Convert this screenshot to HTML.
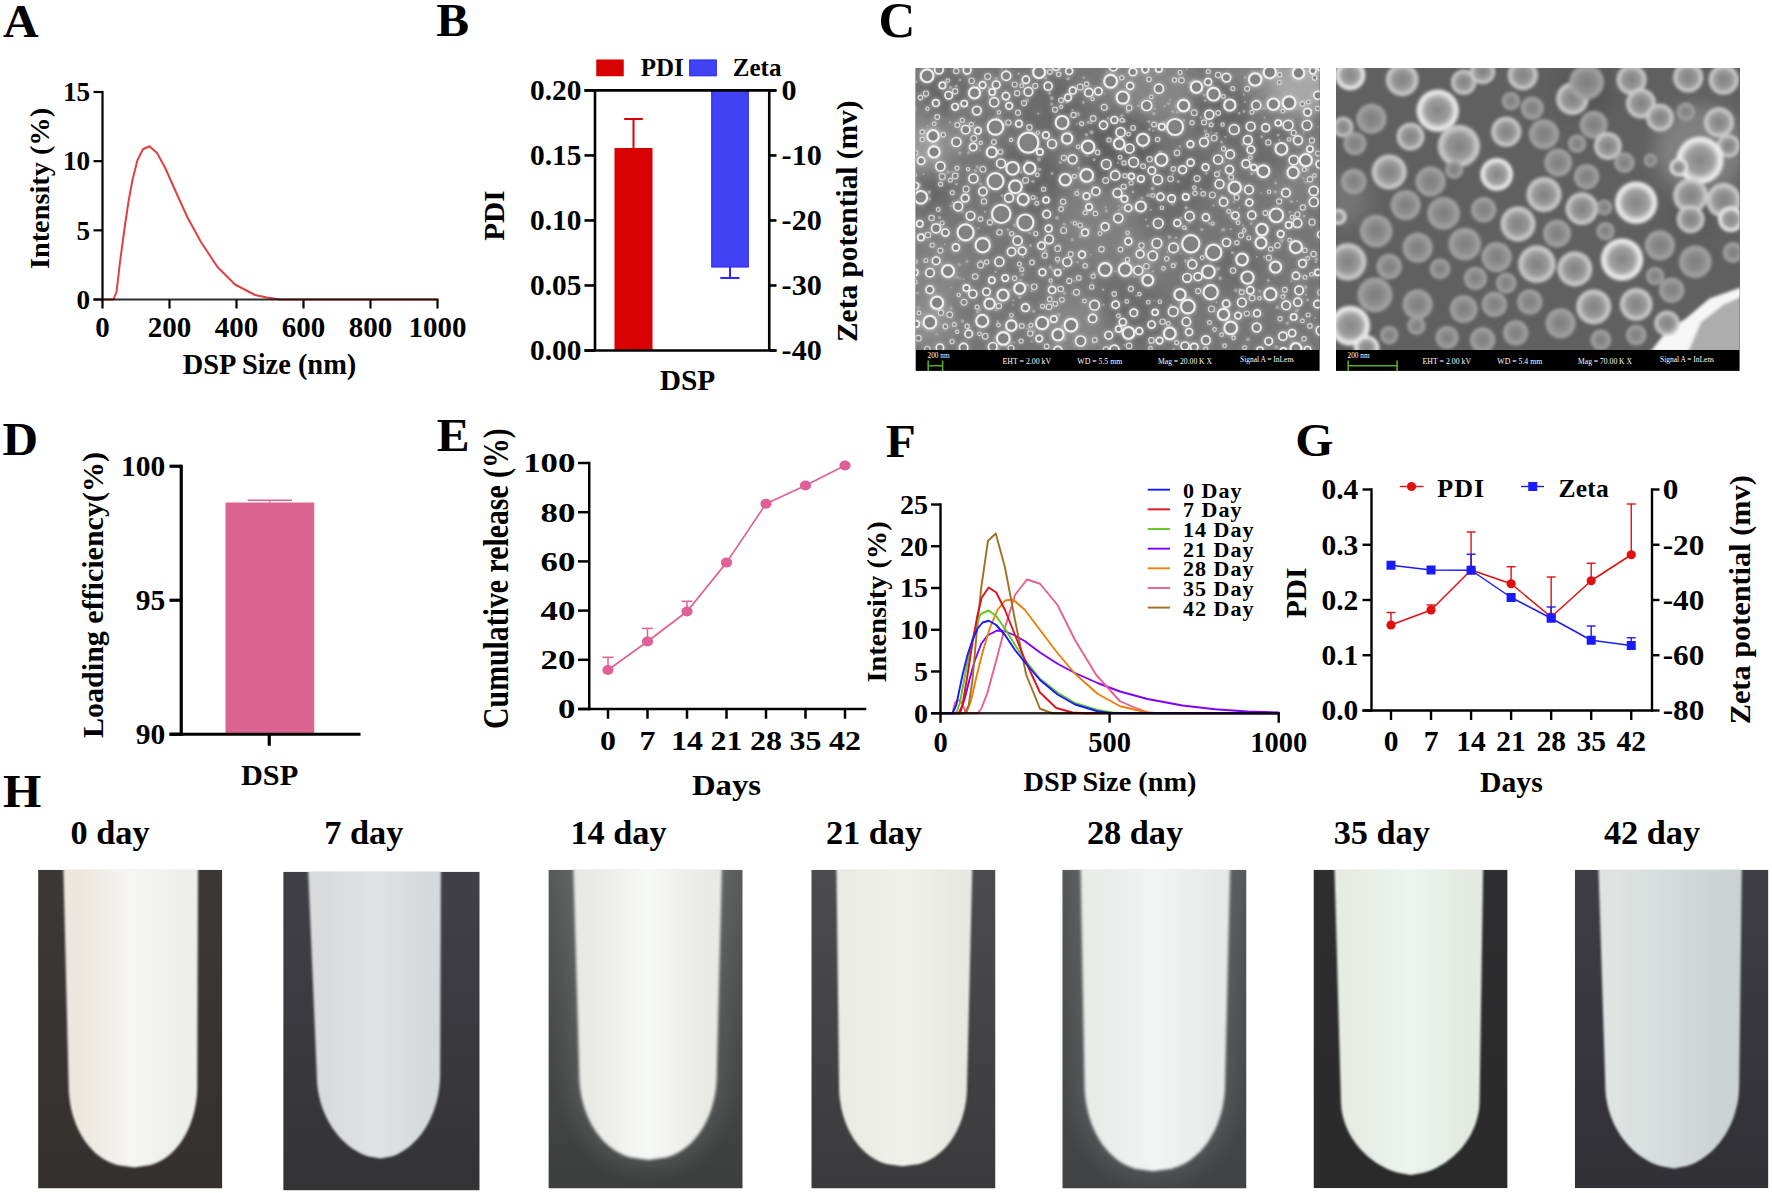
<!DOCTYPE html>
<html><head><meta charset="utf-8"><title>Figure</title>
<style>html,body{margin:0;padding:0;background:#fff}svg{display:block}text{font-family:"Liberation Serif","Times New Roman",serif;font-weight:bold}</style></head>
<body>
<svg width="1772" height="1193" viewBox="0 0 1772 1193">
<rect width="1772" height="1193" fill="#fff"/>
<defs><filter id="b05" x="-5%" y="-5%" width="110%" height="110%"><feGaussianBlur stdDeviation="2.2" result="g0"/><feComponentTransfer in="g0" result="g"><feFuncA type="linear" slope="0.8"/></feComponentTransfer><feGaussianBlur in="SourceGraphic" stdDeviation="0.75" result="s"/><feMerge><feMergeNode in="g"/><feMergeNode in="s"/></feMerge></filter><filter id="b2" x="-5%" y="-5%" width="110%" height="110%"><feGaussianBlur stdDeviation="1.5"/></filter><filter id="b8" x="-20%" y="-20%" width="140%" height="140%"><feGaussianBlur stdDeviation="9"/></filter><filter id="bt" x="-5%" y="-5%" width="110%" height="110%"><feGaussianBlur stdDeviation="0.8"/></filter><filter id="bt2" x="-5%" y="-5%" width="110%" height="110%"><feGaussianBlur stdDeviation="1.6"/></filter><clipPath id="cs1"><rect x="915.7" y="68" width="403.9" height="282"/></clipPath><clipPath id="cs2"><rect x="1336" y="68" width="403.6" height="282"/></clipPath><radialGradient id="sg0"><stop offset="0" stop-color="#7c7c7c"/><stop offset="0.55" stop-color="#8e8e8e"/><stop offset="0.86" stop-color="#a4a4a4"/><stop offset="1" stop-color="#a4a4a4" stop-opacity="0.25"/></radialGradient><radialGradient id="sg1"><stop offset="0" stop-color="#808080"/><stop offset="0.55" stop-color="#989898"/><stop offset="0.86" stop-color="#cfcfcf"/><stop offset="1" stop-color="#cfcfcf" stop-opacity="0.25"/></radialGradient><radialGradient id="sg2"><stop offset="0" stop-color="#848484"/><stop offset="0.55" stop-color="#a0a0a0"/><stop offset="0.86" stop-color="#f4f4f4"/><stop offset="1" stop-color="#f4f4f4" stop-opacity="0.25"/></radialGradient><clipPath id="ct0"><rect x="38.1" y="869.8" width="184.2" height="318.7"/></clipPath><linearGradient id="gt0" x1="63.3" x2="198" y1="0" y2="0" gradientUnits="userSpaceOnUse"><stop offset="0" stop-color="#ebe7de"/><stop offset="0.12" stop-color="#ebe7de"/><stop offset="0.5" stop-color="#f5f5f3"/><stop offset="0.88" stop-color="#eeeeea"/><stop offset="1" stop-color="#eeeeea"/></linearGradient><linearGradient id="gb0" x1="0" x2="0" y1="0" y2="1"><stop offset="0" stop-color="#3b3836"/><stop offset="1" stop-color="#34302e"/></linearGradient><clipPath id="ct1"><rect x="283.2" y="871.7" width="196.5" height="318.7"/></clipPath><linearGradient id="gt1" x1="308" x2="440.9" y1="0" y2="0" gradientUnits="userSpaceOnUse"><stop offset="0" stop-color="#d8dadb"/><stop offset="0.12" stop-color="#d8dadb"/><stop offset="0.5" stop-color="#e0e3e5"/><stop offset="0.88" stop-color="#d6d9db"/><stop offset="1" stop-color="#d6d9db"/></linearGradient><linearGradient id="gb1" x1="0" x2="0" y1="0" y2="1"><stop offset="0" stop-color="#414046"/><stop offset="1" stop-color="#333337"/></linearGradient><clipPath id="ct2"><rect x="548.4" y="869.8" width="194.3" height="318.7"/></clipPath><linearGradient id="gt2" x1="573.3" x2="722" y1="0" y2="0" gradientUnits="userSpaceOnUse"><stop offset="0" stop-color="#e8e9e5"/><stop offset="0.12" stop-color="#e8e9e5"/><stop offset="0.5" stop-color="#f7f9f7"/><stop offset="0.88" stop-color="#e9eae6"/><stop offset="1" stop-color="#e9eae6"/></linearGradient><linearGradient id="gb2" x1="0" x2="0" y1="0" y2="1"><stop offset="0" stop-color="#585a5a"/><stop offset="1" stop-color="#3c3e3e"/></linearGradient><clipPath id="ct3"><rect x="811.3" y="869.8" width="184.2" height="318.7"/></clipPath><linearGradient id="gt3" x1="836.4" x2="972.4" y1="0" y2="0" gradientUnits="userSpaceOnUse"><stop offset="0" stop-color="#ebebe5"/><stop offset="0.12" stop-color="#ebebe5"/><stop offset="0.5" stop-color="#f1f1eb"/><stop offset="0.88" stop-color="#e8e8e2"/><stop offset="1" stop-color="#e8e8e2"/></linearGradient><linearGradient id="gb3" x1="0" x2="0" y1="0" y2="1"><stop offset="0" stop-color="#4c4c4e"/><stop offset="1" stop-color="#3a3a3c"/></linearGradient><clipPath id="ct4"><rect x="1062.3" y="869.8" width="184.2" height="318.7"/></clipPath><linearGradient id="gt4" x1="1080.5" x2="1230.3" y1="0" y2="0" gradientUnits="userSpaceOnUse"><stop offset="0" stop-color="#e8ebe8"/><stop offset="0.12" stop-color="#e8ebe8"/><stop offset="0.5" stop-color="#f1f5f3"/><stop offset="0.88" stop-color="#e6e9e7"/><stop offset="1" stop-color="#e6e9e7"/></linearGradient><linearGradient id="gb4" x1="0" x2="0" y1="0" y2="1"><stop offset="0" stop-color="#525456"/><stop offset="1" stop-color="#404244"/></linearGradient><clipPath id="ct5"><rect x="1313.5" y="869.8" width="194.1" height="318.4"/></clipPath><linearGradient id="gt5" x1="1334.4" x2="1483.2" y1="0" y2="0" gradientUnits="userSpaceOnUse"><stop offset="0" stop-color="#e6ebe3"/><stop offset="0.12" stop-color="#e6ebe3"/><stop offset="0.5" stop-color="#ecf4ee"/><stop offset="0.88" stop-color="#e4eae2"/><stop offset="1" stop-color="#e4eae2"/></linearGradient><linearGradient id="gb5" x1="0" x2="0" y1="0" y2="1"><stop offset="0" stop-color="#2e2e30"/><stop offset="1" stop-color="#2a2a2b"/></linearGradient><clipPath id="ct6"><rect x="1574.8" y="869.8" width="193.6" height="318.4"/></clipPath><linearGradient id="gt6" x1="1598.4" x2="1741.9" y1="0" y2="0" gradientUnits="userSpaceOnUse"><stop offset="0" stop-color="#dfe3e2"/><stop offset="0.12" stop-color="#dfe3e2"/><stop offset="0.5" stop-color="#d5dbdb"/><stop offset="0.88" stop-color="#ccd2d2"/><stop offset="1" stop-color="#ccd2d2"/></linearGradient><linearGradient id="gb6" x1="0" x2="0" y1="0" y2="1"><stop offset="0" stop-color="#3e3e44"/><stop offset="1" stop-color="#303035"/></linearGradient></defs>
<g id="sem1">
<rect x="915.7" y="68" width="403.9" height="302.9" fill="#000"/>
<g clip-path="url(#cs1)">
<rect x="915.7" y="68" width="403.9" height="282" fill="#767676"/>
<g filter="url(#b8)">
<circle cx="1046" cy="111" r="36" fill="#666"/>
<circle cx="1247" cy="95" r="34" fill="#868686"/>
<circle cx="931" cy="190" r="20" fill="#666"/>
<circle cx="1138" cy="85" r="33" fill="#868686"/>
<circle cx="1170" cy="232" r="20" fill="#808080"/>
<circle cx="936" cy="130" r="33" fill="#868686"/>
<circle cx="1033" cy="109" r="21" fill="#6c6c6c"/>
<circle cx="1142" cy="260" r="21" fill="#868686"/>
<circle cx="1066" cy="222" r="20" fill="#666"/>
<circle cx="1166" cy="208" r="32" fill="#6c6c6c"/>
<circle cx="1104" cy="328" r="28" fill="#868686"/>
<circle cx="1237" cy="265" r="25" fill="#6c6c6c"/>
<circle cx="1128" cy="315" r="38" fill="#6c6c6c"/>
<circle cx="1162" cy="89" r="32" fill="#868686"/>
<circle cx="1222" cy="111" r="31" fill="#666"/>
<circle cx="1304" cy="90" r="33" fill="#6c6c6c"/>
<circle cx="1053" cy="167" r="31" fill="#808080"/>
<circle cx="943" cy="94" r="25" fill="#666"/>
<circle cx="940" cy="266" r="35" fill="#808080"/>
<circle cx="1031" cy="177" r="36" fill="#666"/>
<circle cx="1296" cy="168" r="34" fill="#808080"/>
<circle cx="940" cy="285" r="21" fill="#868686"/>
<circle cx="1076" cy="327" r="31" fill="#868686"/>
<circle cx="1097" cy="223" r="42" fill="#808080"/>
<circle cx="1265" cy="147" r="29" fill="#6c6c6c"/>
<circle cx="1191" cy="175" r="24" fill="#666"/>
<circle cx="1300" cy="85" r="30" fill="#a8a8a8"/><circle cx="925" cy="150" r="22" fill="#9a9a9a"/><circle cx="1120" cy="150" r="40" fill="#606060"/><circle cx="930" cy="320" r="25" fill="#909090"/>
</g>
<g filter="url(#b05)">
<circle cx="1104.8" cy="94.0" r="0.8" fill="#a6a6a6"/>
<circle cx="1053.1" cy="270.2" r="1.7" fill="#a6a6a6"/>
<circle cx="1011.4" cy="140.1" r="1.4" fill="#a6a6a6"/>
<circle cx="986.6" cy="238.0" r="1.9" fill="#a6a6a6"/>
<circle cx="997.3" cy="233.1" r="1.7" fill="#a6a6a6"/>
<circle cx="1218.3" cy="268.8" r="1.7" fill="#a6a6a6"/>
<circle cx="1025.8" cy="304.4" r="1.9" fill="#a6a6a6"/>
<circle cx="936.9" cy="334.2" r="1.3" fill="#a6a6a6"/>
<circle cx="950.6" cy="87.6" r="1.8" fill="#a6a6a6"/>
<circle cx="1189.4" cy="108.1" r="1.4" fill="#a6a6a6"/>
<circle cx="1173.7" cy="349.3" r="1.2" fill="#a6a6a6"/>
<circle cx="1225.3" cy="137.1" r="1.0" fill="#a6a6a6"/>
<circle cx="980.8" cy="183.7" r="1.5" fill="#a6a6a6"/>
<circle cx="1038.2" cy="113.7" r="1.1" fill="#a6a6a6"/>
<circle cx="950.0" cy="122.5" r="1.2" fill="#a6a6a6"/>
<circle cx="1119.5" cy="119.8" r="1.4" fill="#a6a6a6"/>
<circle cx="1093.3" cy="342.4" r="1.4" fill="#a6a6a6"/>
<circle cx="1297.3" cy="200.9" r="1.0" fill="#a6a6a6"/>
<circle cx="1154.8" cy="108.8" r="1.0" fill="#a6a6a6"/>
<circle cx="945.3" cy="265.8" r="2.0" fill="#a6a6a6"/>
<circle cx="1078.6" cy="167.9" r="1.3" fill="#a6a6a6"/>
<circle cx="1057.9" cy="262.8" r="1.3" fill="#a6a6a6"/>
<circle cx="977.2" cy="311.7" r="1.5" fill="#a6a6a6"/>
<circle cx="918.3" cy="307.6" r="1.7" fill="#a6a6a6"/>
<circle cx="1058.9" cy="245.6" r="1.9" fill="#a6a6a6"/>
<circle cx="1077.9" cy="190.0" r="1.2" fill="#a6a6a6"/>
<circle cx="1139.5" cy="254.9" r="1.7" fill="#a6a6a6"/>
<circle cx="1299.1" cy="109.0" r="1.2" fill="#a6a6a6"/>
<circle cx="1259.7" cy="291.1" r="1.5" fill="#a6a6a6"/>
<circle cx="1189.2" cy="163.9" r="1.9" fill="#a6a6a6"/>
<circle cx="1137.6" cy="181.5" r="1.0" fill="#a6a6a6"/>
<circle cx="962.3" cy="321.1" r="1.8" fill="#a6a6a6"/>
<circle cx="926.5" cy="159.1" r="1.4" fill="#a6a6a6"/>
<circle cx="1115.9" cy="170.5" r="1.9" fill="#a6a6a6"/>
<circle cx="1057.0" cy="218.0" r="1.9" fill="#a6a6a6"/>
<circle cx="1173.9" cy="202.5" r="1.2" fill="#a6a6a6"/>
<circle cx="1072.1" cy="239.8" r="1.7" fill="#a6a6a6"/>
<circle cx="1021.0" cy="172.5" r="1.3" fill="#a6a6a6"/>
<circle cx="1062.3" cy="325.5" r="1.4" fill="#a6a6a6"/>
<circle cx="1027.1" cy="161.7" r="1.8" fill="#a6a6a6"/>
<circle cx="980.4" cy="262.6" r="0.8" fill="#a6a6a6"/>
<circle cx="993.7" cy="84.8" r="1.8" fill="#a6a6a6"/>
<circle cx="975.0" cy="132.3" r="0.9" fill="#a6a6a6"/>
<circle cx="1022.3" cy="274.8" r="1.7" fill="#a6a6a6"/>
<circle cx="1283.4" cy="335.0" r="1.5" fill="#a6a6a6"/>
<circle cx="1288.1" cy="93.3" r="1.9" fill="#a6a6a6"/>
<circle cx="1091.0" cy="122.4" r="1.7" fill="#a6a6a6"/>
<circle cx="1262.5" cy="176.8" r="0.9" fill="#a6a6a6"/>
<circle cx="1268.3" cy="280.5" r="1.5" fill="#a6a6a6"/>
<circle cx="1310.2" cy="78.7" r="0.9" fill="#a6a6a6"/>
<circle cx="965.9" cy="74.1" r="1.6" fill="#a6a6a6"/>
<circle cx="1170.2" cy="99.7" r="1.0" fill="#a6a6a6"/>
<circle cx="988.8" cy="239.8" r="1.6" fill="#a6a6a6"/>
<circle cx="1307.3" cy="169.7" r="2.0" fill="#a6a6a6"/>
<circle cx="1091.2" cy="178.2" r="1.1" fill="#a6a6a6"/>
<circle cx="1009.7" cy="342.8" r="2.0" fill="#a6a6a6"/>
<circle cx="1200.8" cy="117.4" r="1.0" fill="#a6a6a6"/>
<circle cx="977.2" cy="167.0" r="1.7" fill="#a6a6a6"/>
<circle cx="939.5" cy="217.5" r="1.6" fill="#a6a6a6"/>
<circle cx="929.3" cy="192.0" r="1.7" fill="#a6a6a6"/>
<circle cx="1148.2" cy="195.3" r="1.9" fill="#a6a6a6"/>
<circle cx="1158.4" cy="163.0" r="1.3" fill="#a6a6a6"/>
<circle cx="1296.7" cy="310.4" r="1.9" fill="#a6a6a6"/>
<circle cx="1142.2" cy="108.2" r="1.0" fill="#a6a6a6"/>
<circle cx="1070.5" cy="262.8" r="0.8" fill="#a6a6a6"/>
<circle cx="1239.7" cy="289.6" r="1.4" fill="#a6a6a6"/>
<circle cx="918.0" cy="293.1" r="1.3" fill="#a6a6a6"/>
<circle cx="1186.0" cy="228.7" r="1.7" fill="#a6a6a6"/>
<circle cx="1080.8" cy="338.7" r="1.9" fill="#a6a6a6"/>
<circle cx="1290.9" cy="241.5" r="1.2" fill="#a6a6a6"/>
<circle cx="1067.8" cy="143.8" r="1.9" fill="#a6a6a6"/>
<circle cx="1235.7" cy="290.3" r="1.8" fill="#a6a6a6"/>
<circle cx="1315.9" cy="262.0" r="1.2" fill="#a6a6a6"/>
<circle cx="1221.7" cy="142.0" r="1.5" fill="#a6a6a6"/>
<circle cx="979.7" cy="309.9" r="1.4" fill="#a6a6a6"/>
<circle cx="1026.8" cy="328.3" r="0.9" fill="#a6a6a6"/>
<circle cx="1291.4" cy="281.5" r="1.0" fill="#a6a6a6"/>
<circle cx="1223.1" cy="229.7" r="1.9" fill="#a6a6a6"/>
<circle cx="1152.6" cy="188.5" r="1.9" fill="#a6a6a6"/>
<circle cx="950.9" cy="287.1" r="0.9" fill="#a6a6a6"/>
<circle cx="1027.4" cy="100.1" r="1.8" fill="#a6a6a6"/>
<circle cx="1094.1" cy="272.8" r="1.1" fill="#a6a6a6"/>
<circle cx="1210.7" cy="250.9" r="0.9" fill="#a6a6a6"/>
<circle cx="1115.2" cy="271.5" r="1.1" fill="#a6a6a6"/>
<circle cx="1180.0" cy="146.4" r="1.2" fill="#a6a6a6"/>
<circle cx="1287.3" cy="333.9" r="2.0" fill="#a6a6a6"/>
<circle cx="1088.1" cy="229.2" r="1.8" fill="#a6a6a6"/>
<circle cx="1222.1" cy="196.7" r="1.8" fill="#a6a6a6"/>
<circle cx="1077.8" cy="335.9" r="1.4" fill="#a6a6a6"/>
<circle cx="963.6" cy="279.2" r="1.0" fill="#a6a6a6"/>
<circle cx="1190.2" cy="83.1" r="2.0" fill="#a6a6a6"/>
<circle cx="1134.2" cy="276.8" r="1.0" fill="#a6a6a6"/>
<circle cx="1172.9" cy="174.2" r="1.1" fill="#a6a6a6"/>
<circle cx="1244.9" cy="77.4" r="1.4" fill="#a6a6a6"/>
<circle cx="950.8" cy="308.1" r="1.9" fill="#a6a6a6"/>
<circle cx="929.6" cy="199.0" r="1.4" fill="#a6a6a6"/>
<circle cx="1206.0" cy="273.6" r="1.2" fill="#a6a6a6"/>
<circle cx="1292.5" cy="120.3" r="1.0" fill="#a6a6a6"/>
<circle cx="1244.8" cy="101.9" r="1.0" fill="#a6a6a6"/>
<circle cx="1117.7" cy="162.8" r="1.0" fill="#a6a6a6"/>
<circle cx="1291.3" cy="201.6" r="1.7" fill="#a6a6a6"/>
<circle cx="1016.7" cy="325.4" r="1.1" fill="#a6a6a6"/>
<circle cx="1281.8" cy="240.8" r="2.0" fill="#a6a6a6"/>
<circle cx="1227.2" cy="245.9" r="1.4" fill="#a6a6a6"/>
<circle cx="1261.0" cy="193.1" r="0.9" fill="#a6a6a6"/>
<circle cx="1284.8" cy="295.2" r="1.6" fill="#a6a6a6"/>
<circle cx="1216.5" cy="133.4" r="1.4" fill="#a6a6a6"/>
<circle cx="1248.1" cy="339.3" r="1.9" fill="#a6a6a6"/>
<circle cx="980.5" cy="260.9" r="1.5" fill="#a6a6a6"/>
<circle cx="1079.3" cy="115.3" r="1.0" fill="#a6a6a6"/>
<circle cx="1105.6" cy="207.1" r="1.1" fill="#a6a6a6"/>
<circle cx="1064.2" cy="224.2" r="1.7" fill="#a6a6a6"/>
<circle cx="1153.8" cy="113.7" r="1.9" fill="#a6a6a6"/>
<circle cx="1064.2" cy="338.7" r="2.0" fill="#a6a6a6"/>
<circle cx="972.4" cy="232.2" r="2.0" fill="#a6a6a6"/>
<circle cx="1071.2" cy="222.4" r="1.2" fill="#a6a6a6"/>
<circle cx="927.3" cy="125.7" r="0.9" fill="#a6a6a6"/>
<circle cx="1030.5" cy="245.5" r="1.5" fill="#a6a6a6"/>
<circle cx="1298.7" cy="261.3" r="1.2" fill="#a6a6a6"/>
<circle cx="1299.2" cy="246.8" r="1.5" fill="#a6a6a6"/>
<circle cx="1264.1" cy="256.9" r="1.2" fill="#a6a6a6"/>
<circle cx="1160.0" cy="152.7" r="2.0" fill="#a6a6a6"/>
<circle cx="1014.3" cy="342.4" r="0.9" fill="#a6a6a6"/>
<circle cx="919.7" cy="224.0" r="1.0" fill="#a6a6a6"/>
<circle cx="1120.7" cy="101.3" r="1.8" fill="#a6a6a6"/>
<circle cx="1185.9" cy="261.0" r="1.9" fill="#a6a6a6"/>
<circle cx="1316.4" cy="259.3" r="1.7" fill="#a6a6a6"/>
<circle cx="916.4" cy="81.9" r="1.3" fill="#a6a6a6"/>
<circle cx="1307.1" cy="156.3" r="1.5" fill="#a6a6a6"/>
<circle cx="919.3" cy="185.2" r="1.9" fill="#a6a6a6"/>
<circle cx="1153.8" cy="300.5" r="0.8" fill="#a6a6a6"/>
<circle cx="997.6" cy="118.5" r="1.8" fill="#a6a6a6"/>
<circle cx="956.8" cy="330.8" r="1.1" fill="#a6a6a6"/>
<circle cx="1271.3" cy="213.4" r="1.2" fill="#a6a6a6"/>
<circle cx="1306.0" cy="182.2" r="1.6" fill="#a6a6a6"/>
<circle cx="942.9" cy="302.2" r="2.0" fill="#a6a6a6"/>
<circle cx="960.3" cy="278.4" r="1.1" fill="#a6a6a6"/>
<circle cx="975.4" cy="170.7" r="1.6" fill="#a6a6a6"/>
<circle cx="1300.8" cy="348.3" r="2.0" fill="#a6a6a6"/>
<circle cx="1167.4" cy="252.3" r="1.0" fill="#a6a6a6"/>
<circle cx="1209.0" cy="223.5" r="1.2" fill="#a6a6a6"/>
<circle cx="1279.2" cy="139.9" r="1.0" fill="#a6a6a6"/>
<circle cx="979.6" cy="110.1" r="1.5" fill="#a6a6a6"/>
<circle cx="1239.2" cy="113.1" r="1.4" fill="#a6a6a6"/>
<circle cx="1147.7" cy="226.1" r="1.3" fill="#a6a6a6"/>
<circle cx="1135.3" cy="72.3" r="0.9" fill="#a6a6a6"/>
<circle cx="1086.4" cy="134.8" r="1.7" fill="#a6a6a6"/>
<circle cx="1013.4" cy="300.4" r="1.1" fill="#a6a6a6"/>
<circle cx="953.1" cy="202.6" r="1.3" fill="#a6a6a6"/>
<circle cx="1051.2" cy="283.8" r="1.1" fill="#a6a6a6"/>
<circle cx="1186.3" cy="303.4" r="1.3" fill="#a6a6a6"/>
<circle cx="1118.9" cy="328.5" r="1.5" fill="#a6a6a6"/>
<circle cx="988.8" cy="87.6" r="0.9" fill="#a6a6a6"/>
<circle cx="1049.6" cy="93.1" r="1.6" fill="#a6a6a6"/>
<circle cx="1086.8" cy="155.0" r="1.4" fill="#a6a6a6"/>
<circle cx="1294.0" cy="136.9" r="1.0" fill="#a6a6a6"/>
<circle cx="1039.0" cy="159.5" r="1.9" fill="#a6a6a6"/>
<circle cx="1200.9" cy="188.9" r="1.0" fill="#a6a6a6"/>
<circle cx="934.0" cy="102.5" r="1.8" fill="#a6a6a6"/>
<circle cx="1177.4" cy="112.2" r="1.6" fill="#a6a6a6"/>
<circle cx="939.3" cy="210.9" r="1.2" fill="#a6a6a6"/>
<circle cx="957.1" cy="277.4" r="1.7" fill="#a6a6a6"/>
<circle cx="1121.9" cy="115.4" r="1.6" fill="#a6a6a6"/>
<circle cx="1090.7" cy="254.5" r="0.9" fill="#a6a6a6"/>
<circle cx="1280.3" cy="69.0" r="1.1" fill="#a6a6a6"/>
<circle cx="1076.6" cy="123.9" r="0.9" fill="#a6a6a6"/>
<circle cx="1193.4" cy="348.3" r="1.2" fill="#a6a6a6"/>
<circle cx="1023.2" cy="257.1" r="1.1" fill="#a6a6a6"/>
<circle cx="1077.6" cy="262.1" r="1.3" fill="#a6a6a6"/>
<circle cx="978.6" cy="87.9" r="1.5" fill="#a6a6a6"/>
<circle cx="1315.8" cy="327.4" r="0.9" fill="#a6a6a6"/>
<circle cx="1118.6" cy="205.7" r="1.0" fill="#a6a6a6"/>
<circle cx="1186.2" cy="207.8" r="1.8" fill="#a6a6a6"/>
<circle cx="1033.6" cy="331.4" r="1.8" fill="#a6a6a6"/>
<circle cx="1107.0" cy="107.8" r="1.4" fill="#a6a6a6"/>
<circle cx="967.0" cy="261.4" r="1.6" fill="#a6a6a6"/>
<circle cx="1149.2" cy="343.3" r="0.9" fill="#a6a6a6"/>
<circle cx="1204.6" cy="293.8" r="0.9" fill="#a6a6a6"/>
<circle cx="1045.8" cy="83.2" r="1.5" fill="#a6a6a6"/>
<circle cx="1207.7" cy="166.1" r="1.6" fill="#a6a6a6"/>
<circle cx="1063.8" cy="268.8" r="1.1" fill="#a6a6a6"/>
<circle cx="1310.8" cy="191.5" r="0.8" fill="#a6a6a6"/>
<circle cx="952.6" cy="272.8" r="1.8" fill="#a6a6a6"/>
<circle cx="1172.9" cy="111.8" r="1.8" fill="#a6a6a6"/>
<circle cx="1205.2" cy="100.5" r="1.3" fill="#a6a6a6"/>
<circle cx="1186.9" cy="69.0" r="0.9" fill="#a6a6a6"/>
<circle cx="1058.5" cy="314.7" r="2.0" fill="#a6a6a6"/>
<circle cx="1044.3" cy="324.3" r="1.7" fill="#a6a6a6"/>
<circle cx="1265.1" cy="233.9" r="2.0" fill="#a6a6a6"/>
<circle cx="1175.9" cy="335.3" r="1.5" fill="#a6a6a6"/>
<circle cx="995.1" cy="214.3" r="1.4" fill="#a6a6a6"/>
<circle cx="1052.0" cy="173.4" r="1.4" fill="#a6a6a6"/>
<circle cx="1153.2" cy="130.8" r="1.1" fill="#a6a6a6"/>
<circle cx="1118.8" cy="210.1" r="1.3" fill="#a6a6a6"/>
<circle cx="1184.0" cy="120.3" r="1.4" fill="#a6a6a6"/>
<circle cx="1027.1" cy="285.2" r="1.6" fill="#a6a6a6"/>
<circle cx="1231.2" cy="213.9" r="1.1" fill="#a6a6a6"/>
<circle cx="1289.6" cy="212.1" r="1.3" fill="#a6a6a6"/>
<circle cx="1033.0" cy="181.4" r="1.7" fill="#a6a6a6"/>
<circle cx="1246.3" cy="204.1" r="1.7" fill="#a6a6a6"/>
<circle cx="1001.7" cy="195.5" r="1.2" fill="#a6a6a6"/>
<circle cx="1039.5" cy="169.4" r="1.7" fill="#a6a6a6"/>
<circle cx="1211.9" cy="126.5" r="1.1" fill="#a6a6a6"/>
<circle cx="1232.5" cy="252.6" r="1.6" fill="#a6a6a6"/>
<circle cx="1172.3" cy="263.6" r="1.1" fill="#a6a6a6"/>
<circle cx="940.3" cy="169.7" r="0.8" fill="#a6a6a6"/>
<circle cx="1304.2" cy="216.0" r="1.6" fill="#a6a6a6"/>
<circle cx="1306.1" cy="294.8" r="1.1" fill="#a6a6a6"/>
<circle cx="1051.8" cy="98.6" r="1.8" fill="#a6a6a6"/>
<circle cx="1213.4" cy="205.5" r="1.2" fill="#a6a6a6"/>
<circle cx="1024.7" cy="205.4" r="1.7" fill="#a6a6a6"/>
<circle cx="1277.3" cy="307.4" r="1.8" fill="#a6a6a6"/>
<circle cx="1093.1" cy="186.8" r="1.2" fill="#a6a6a6"/>
<circle cx="1309.2" cy="119.7" r="1.0" fill="#a6a6a6"/>
<circle cx="1029.2" cy="328.0" r="1.8" fill="#a6a6a6"/>
<circle cx="1049.6" cy="308.2" r="1.9" fill="#a6a6a6"/>
<circle cx="1088.3" cy="122.2" r="1.7" fill="#a6a6a6"/>
<circle cx="1067.0" cy="101.7" r="1.9" fill="#a6a6a6"/>
<circle cx="1093.2" cy="180.1" r="1.5" fill="#a6a6a6"/>
<circle cx="1018.8" cy="73.7" r="1.3" fill="#a6a6a6"/>
<circle cx="1068.9" cy="71.1" r="1.2" fill="#a6a6a6"/>
<circle cx="1223.2" cy="161.9" r="1.6" fill="#a6a6a6"/>
<circle cx="1168.0" cy="121.1" r="0.8" fill="#a6a6a6"/>
<circle cx="1188.1" cy="240.3" r="1.2" fill="#a6a6a6"/>
<circle cx="996.6" cy="309.2" r="1.9" fill="#a6a6a6"/>
<circle cx="1009.9" cy="233.3" r="1.5" fill="#a6a6a6"/>
<circle cx="1045.8" cy="78.3" r="1.2" fill="#a6a6a6"/>
<circle cx="1176.0" cy="237.8" r="1.4" fill="#a6a6a6"/>
<circle cx="965.1" cy="128.0" r="1.2" fill="#a6a6a6"/>
<circle cx="1083.9" cy="170.4" r="1.9" fill="#a6a6a6"/>
<circle cx="962.6" cy="346.2" r="1.1" fill="#a6a6a6"/>
<circle cx="1261.7" cy="136.7" r="1.5" fill="#a6a6a6"/>
<circle cx="1068.1" cy="78.7" r="1.8" fill="#a6a6a6"/>
<circle cx="1243.0" cy="143.9" r="1.7" fill="#a6a6a6"/>
<circle cx="1109.2" cy="346.3" r="0.9" fill="#a6a6a6"/>
<circle cx="1069.3" cy="132.2" r="1.5" fill="#a6a6a6"/>
<circle cx="1229.9" cy="305.5" r="1.5" fill="#a6a6a6"/>
<circle cx="1072.1" cy="293.5" r="0.9" fill="#a6a6a6"/>
<circle cx="1020.7" cy="280.3" r="1.3" fill="#a6a6a6"/>
<circle cx="1316.8" cy="93.6" r="1.4" fill="#a6a6a6"/>
<circle cx="1001.5" cy="68.6" r="0.9" fill="#a6a6a6"/>
<circle cx="952.4" cy="172.0" r="1.3" fill="#a6a6a6"/>
<circle cx="1120.8" cy="149.6" r="1.6" fill="#a6a6a6"/>
<circle cx="1124.2" cy="344.9" r="1.0" fill="#a6a6a6"/>
<circle cx="1121.9" cy="207.2" r="1.2" fill="#a6a6a6"/>
<circle cx="1263.5" cy="127.1" r="1.9" fill="#a6a6a6"/>
<circle cx="1060.2" cy="162.6" r="1.5" fill="#a6a6a6"/>
<circle cx="1143.2" cy="148.1" r="0.9" fill="#a6a6a6"/>
<circle cx="1301.5" cy="172.2" r="0.9" fill="#a6a6a6"/>
<circle cx="1180.9" cy="218.0" r="1.2" fill="#a6a6a6"/>
<circle cx="1048.4" cy="306.3" r="1.2" fill="#a6a6a6"/>
<circle cx="1084.3" cy="337.8" r="1.2" fill="#a6a6a6"/>
<circle cx="1078.1" cy="113.7" r="1.6" fill="#a6a6a6"/>
<circle cx="1184.2" cy="193.9" r="1.3" fill="#a6a6a6"/>
<circle cx="1009.7" cy="290.8" r="1.3" fill="#a6a6a6"/>
<circle cx="1251.7" cy="173.7" r="1.7" fill="#a6a6a6"/>
<circle cx="927.3" cy="130.0" r="2.0" fill="#a6a6a6"/>
<circle cx="1191.3" cy="258.5" r="1.4" fill="#a6a6a6"/>
<circle cx="1106.5" cy="123.7" r="1.0" fill="#a6a6a6"/>
<circle cx="1176.3" cy="263.7" r="1.1" fill="#a6a6a6"/>
<circle cx="1176.0" cy="106.4" r="1.5" fill="#a6a6a6"/>
<circle cx="985.0" cy="211.7" r="1.2" fill="#a6a6a6"/>
<circle cx="1138.1" cy="105.8" r="1.4" fill="#a6a6a6"/>
<circle cx="1164.7" cy="106.0" r="1.2" fill="#a6a6a6"/>
<circle cx="1189.8" cy="222.0" r="1.5" fill="#a6a6a6"/>
<circle cx="1230.7" cy="229.2" r="1.1" fill="#a6a6a6"/>
<circle cx="1094.4" cy="302.1" r="1.5" fill="#a6a6a6"/>
<circle cx="1219.9" cy="170.7" r="1.3" fill="#a6a6a6"/>
<circle cx="1307.4" cy="299.8" r="1.6" fill="#a6a6a6"/>
<circle cx="958.7" cy="240.5" r="0.8" fill="#a6a6a6"/>
<circle cx="1292.9" cy="342.1" r="1.7" fill="#a6a6a6"/>
<circle cx="1023.8" cy="306.5" r="1.0" fill="#a6a6a6"/>
<circle cx="1250.1" cy="214.8" r="0.8" fill="#a6a6a6"/>
<circle cx="1275.3" cy="192.1" r="1.8" fill="#a6a6a6"/>
<circle cx="1193.8" cy="218.2" r="1.8" fill="#a6a6a6"/>
<circle cx="997.7" cy="321.4" r="1.2" fill="#a6a6a6"/>
<circle cx="926.2" cy="162.9" r="0.9" fill="#a6a6a6"/>
<circle cx="944.8" cy="244.0" r="0.9" fill="#a6a6a6"/>
<circle cx="980.2" cy="150.5" r="1.1" fill="#a6a6a6"/>
<circle cx="1287.3" cy="323.3" r="1.8" fill="#a6a6a6"/>
<circle cx="1315.5" cy="192.1" r="1.8" fill="#a6a6a6"/>
<circle cx="1029.2" cy="329.3" r="1.8" fill="#a6a6a6"/>
<circle cx="1211.4" cy="132.2" r="0.9" fill="#a6a6a6"/>
<circle cx="1289.3" cy="223.7" r="1.5" fill="#a6a6a6"/>
<circle cx="1263.9" cy="108.5" r="1.6" fill="#a6a6a6"/>
<circle cx="1103.1" cy="289.7" r="1.3" fill="#a6a6a6"/>
<circle cx="995.1" cy="337.7" r="1.1" fill="#a6a6a6"/>
<circle cx="1216.5" cy="302.4" r="1.1" fill="#a6a6a6"/>
<circle cx="1196.4" cy="179.7" r="1.1" fill="#a6a6a6"/>
<circle cx="1003.5" cy="337.0" r="1.2" fill="#a6a6a6"/>
<circle cx="1121.6" cy="209.4" r="0.8" fill="#a6a6a6"/>
<circle cx="1220.1" cy="278.1" r="1.9" fill="#a6a6a6"/>
<circle cx="1059.9" cy="127.1" r="1.2" fill="#a6a6a6"/>
<circle cx="1211.4" cy="253.6" r="1.3" fill="#a6a6a6"/>
<circle cx="1127.6" cy="111.5" r="1.9" fill="#a6a6a6"/>
<circle cx="1106.3" cy="210.9" r="1.7" fill="#a6a6a6"/>
<circle cx="995.6" cy="271.7" r="1.2" fill="#a6a6a6"/>
<circle cx="1243.8" cy="94.6" r="1.1" fill="#a6a6a6"/>
<circle cx="1172.4" cy="204.0" r="1.3" fill="#a6a6a6"/>
<circle cx="1149.4" cy="129.4" r="1.3" fill="#a6a6a6"/>
<circle cx="916.5" cy="293.2" r="1.1" fill="#a6a6a6"/>
<circle cx="1251.2" cy="223.7" r="1.5" fill="#a6a6a6"/>
<circle cx="1168.6" cy="103.4" r="1.7" fill="#a6a6a6"/>
<circle cx="1033.7" cy="311.3" r="1.7" fill="#a6a6a6"/>
<circle cx="1189.6" cy="297.9" r="1.3" fill="#a6a6a6"/>
<circle cx="1187.7" cy="336.7" r="1.0" fill="#a6a6a6"/>
<circle cx="956.4" cy="184.2" r="1.4" fill="#a6a6a6"/>
<circle cx="975.9" cy="130.4" r="1.8" fill="#a6a6a6"/>
<circle cx="1072.4" cy="110.0" r="1.0" fill="#a6a6a6"/>
<circle cx="1148.9" cy="121.6" r="1.4" fill="#a6a6a6"/>
<circle cx="1132.9" cy="192.0" r="1.4" fill="#a6a6a6"/>
<circle cx="1253.7" cy="72.7" r="1.9" fill="#a6a6a6"/>
<circle cx="996.2" cy="78.8" r="1.7" fill="#a6a6a6"/>
<circle cx="1145.9" cy="219.7" r="1.1" fill="#a6a6a6"/>
<circle cx="1231.2" cy="154.4" r="1.7" fill="#a6a6a6"/>
<circle cx="1007.9" cy="229.5" r="1.6" fill="#a6a6a6"/>
<circle cx="1065.8" cy="203.3" r="0.9" fill="#a6a6a6"/>
<circle cx="1175.5" cy="262.9" r="1.0" fill="#a6a6a6"/>
<circle cx="1138.1" cy="274.7" r="0.9" fill="#a6a6a6"/>
<circle cx="1254.5" cy="313.5" r="0.9" fill="#a6a6a6"/>
<circle cx="1016.0" cy="91.7" r="1.1" fill="#a6a6a6"/>
<circle cx="950.6" cy="206.0" r="1.1" fill="#a6a6a6"/>
<circle cx="1036.9" cy="198.1" r="1.2" fill="#a6a6a6"/>
<circle cx="1234.2" cy="271.8" r="0.9" fill="#a6a6a6"/>
<circle cx="1006.0" cy="70.3" r="1.2" fill="#a6a6a6"/>
<circle cx="959.4" cy="264.6" r="1.7" fill="#a6a6a6"/>
<circle cx="1317.9" cy="126.9" r="0.8" fill="#a6a6a6"/>
<circle cx="1221.4" cy="184.1" r="1.9" fill="#a6a6a6"/>
<circle cx="1074.2" cy="156.1" r="0.9" fill="#a6a6a6"/>
<circle cx="1298.6" cy="212.4" r="1.3" fill="#a6a6a6"/>
<circle cx="1092.2" cy="284.7" r="1.8" fill="#a6a6a6"/>
<circle cx="1108.0" cy="118.2" r="1.3" fill="#a6a6a6"/>
<circle cx="1275.7" cy="183.0" r="1.6" fill="#a6a6a6"/>
<circle cx="1141.8" cy="198.1" r="1.5" fill="#a6a6a6"/>
<circle cx="1014.7" cy="225.2" r="1.8" fill="#a6a6a6"/>
<circle cx="948.0" cy="172.0" r="1.9" fill="#a6a6a6"/>
<circle cx="1310.8" cy="71.7" r="1.6" fill="#a6a6a6"/>
<circle cx="1171.0" cy="305.7" r="1.4" fill="#a6a6a6"/>
<circle cx="968.6" cy="152.7" r="1.7" fill="#a6a6a6"/>
<circle cx="1209.9" cy="125.7" r="1.6" fill="#a6a6a6"/>
<circle cx="1181.0" cy="253.5" r="0.8" fill="#a6a6a6"/>
<circle cx="1094.1" cy="159.6" r="1.5" fill="#a6a6a6"/>
<circle cx="1051.7" cy="104.1" r="1.6" fill="#a6a6a6"/>
<circle cx="1031.6" cy="291.0" r="1.2" fill="#a6a6a6"/>
<circle cx="1136.2" cy="295.9" r="0.9" fill="#a6a6a6"/>
<circle cx="1211.0" cy="87.2" r="1.9" fill="#a6a6a6"/>
<circle cx="925.9" cy="272.2" r="1.2" fill="#a6a6a6"/>
<circle cx="988.3" cy="179.4" r="1.4" fill="#a6a6a6"/>
<circle cx="1083.3" cy="102.5" r="1.4" fill="#a6a6a6"/>
<circle cx="1036.9" cy="340.8" r="1.3" fill="#a6a6a6"/>
<circle cx="1091.5" cy="132.3" r="2.0" fill="#a6a6a6"/>
<circle cx="1045.7" cy="250.2" r="1.8" fill="#a6a6a6"/>
<circle cx="1074.5" cy="281.0" r="1.1" fill="#a6a6a6"/>
<circle cx="959.9" cy="79.9" r="1.3" fill="#a6a6a6"/>
<circle cx="1268.7" cy="125.3" r="1.3" fill="#a6a6a6"/>
<circle cx="1223.8" cy="145.9" r="1.0" fill="#a6a6a6"/>
<circle cx="1125.4" cy="188.0" r="1.9" fill="#a6a6a6"/>
<circle cx="1278.2" cy="135.1" r="1.5" fill="#a6a6a6"/>
<circle cx="1083.8" cy="77.5" r="1.3" fill="#a6a6a6"/>
<circle cx="1285.5" cy="153.4" r="1.5" fill="#a6a6a6"/>
<circle cx="1202.6" cy="85.8" r="1.9" fill="#a6a6a6"/>
<circle cx="959.8" cy="153.0" r="1.7" fill="#a6a6a6"/>
<circle cx="923.5" cy="173.9" r="1.0" fill="#a6a6a6"/>
<circle cx="1106.9" cy="72.5" r="1.0" fill="#a6a6a6"/>
<circle cx="1005.5" cy="91.0" r="0.9" fill="#a6a6a6"/>
<circle cx="994.3" cy="214.0" r="1.0" fill="#a6a6a6"/>
<circle cx="1247.4" cy="185.6" r="1.1" fill="#a6a6a6"/>
<circle cx="1013.0" cy="304.8" r="0.9" fill="#a6a6a6"/>
<circle cx="1215.5" cy="95.5" r="1.9" fill="#a6a6a6"/>
<circle cx="1080.6" cy="236.5" r="1.8" fill="#a6a6a6"/>
<circle cx="956.3" cy="86.1" r="1.6" fill="#a6a6a6"/>
<circle cx="1153.0" cy="271.3" r="1.1" fill="#a6a6a6"/>
<circle cx="1116.4" cy="120.6" r="1.3" fill="#a6a6a6"/>
<circle cx="1029.5" cy="233.2" r="1.2" fill="#a6a6a6"/>
<circle cx="1026.7" cy="249.2" r="0.9" fill="#a6a6a6"/>
<circle cx="1239.3" cy="207.8" r="1.1" fill="#a6a6a6"/>
<circle cx="962.1" cy="211.5" r="1.4" fill="#a6a6a6"/>
<circle cx="1206.3" cy="173.4" r="1.3" fill="#a6a6a6"/>
<circle cx="1276.2" cy="145.2" r="2.0" fill="#a6a6a6"/>
<circle cx="1276.2" cy="347.2" r="1.9" fill="#a6a6a6"/>
<circle cx="1019.6" cy="297.6" r="1.5" fill="#a6a6a6"/>
<circle cx="998.1" cy="349.3" r="1.6" fill="#a6a6a6"/>
<circle cx="1242.7" cy="225.4" r="0.9" fill="#a6a6a6"/>
<circle cx="1264.4" cy="117.5" r="1.1" fill="#a6a6a6"/>
<circle cx="1164.6" cy="122.7" r="1.4" fill="#a6a6a6"/>
<circle cx="1203.9" cy="95.1" r="1.6" fill="#a6a6a6"/>
<circle cx="957.9" cy="202.1" r="1.6" fill="#a6a6a6"/>
<circle cx="1193.3" cy="80.2" r="1.0" fill="#a6a6a6"/>
<circle cx="1303.5" cy="178.3" r="1.3" fill="#a6a6a6"/>
<circle cx="1067.0" cy="264.3" r="1.7" fill="#a6a6a6"/>
<circle cx="1178.3" cy="181.5" r="1.5" fill="#a6a6a6"/>
<circle cx="1123.9" cy="121.0" r="1.9" fill="#a6a6a6"/>
<circle cx="1305.4" cy="287.2" r="2.0" fill="#a6a6a6"/>
<circle cx="1103.7" cy="304.6" r="1.1" fill="#a6a6a6"/>
<circle cx="1215.7" cy="269.6" r="1.9" fill="#a6a6a6"/>
<circle cx="1252.3" cy="316.0" r="1.1" fill="#a6a6a6"/>
<circle cx="1233.7" cy="202.0" r="1.2" fill="#a6a6a6"/>
<circle cx="1064.5" cy="293.3" r="1.8" fill="#a6a6a6"/>
<circle cx="1256.9" cy="256.8" r="1.0" fill="#a6a6a6"/>
<circle cx="978.6" cy="228.2" r="1.1" fill="#a6a6a6"/>
<circle cx="1051.6" cy="96.9" r="1.0" fill="#a6a6a6"/>
<circle cx="1205.3" cy="131.1" r="1.8" fill="#a6a6a6"/>
<circle cx="1048.6" cy="307.4" r="1.2" fill="#a6a6a6"/>
<circle cx="1023.7" cy="179.3" r="0.8" fill="#a6a6a6"/>
<circle cx="1091.6" cy="175.1" r="0.8" fill="#a6a6a6"/>
<circle cx="1263.7" cy="173.8" r="0.8" fill="#a6a6a6"/>
<circle cx="1303.6" cy="132.4" r="1.1" fill="#a6a6a6"/>
<circle cx="925.5" cy="96.1" r="1.7" fill="#a6a6a6"/>
<circle cx="1150.8" cy="210.1" r="1.1" fill="#a6a6a6"/>
<circle cx="1031.5" cy="341.6" r="1.2" fill="#a6a6a6"/>
<circle cx="1315.3" cy="318.0" r="0.9" fill="#a6a6a6"/>
<circle cx="1258.3" cy="73.9" r="1.7" fill="#a6a6a6"/>
<circle cx="1242.7" cy="264.1" r="1.5" fill="#a6a6a6"/>
<circle cx="1244.0" cy="111.5" r="1.4" fill="#a6a6a6"/>
<circle cx="1023.1" cy="180.6" r="1.0" fill="#a6a6a6"/>
<circle cx="1201.8" cy="229.6" r="1.7" fill="#a6a6a6"/>
<circle cx="1169.4" cy="237.0" r="1.9" fill="#a6a6a6"/>
<circle cx="1243.9" cy="227.8" r="1.2" fill="#a6a6a6"/>
<circle cx="1290.5" cy="172.7" r="0.9" fill="#a6a6a6"/>
<circle cx="1050.3" cy="267.2" r="1.9" fill="#a6a6a6"/>
<circle cx="1028.3" cy="142.6" r="10.0" fill="#828282" stroke="#f2f2f2" stroke-opacity="0.95" stroke-width="2.2"/>
<circle cx="995.5" cy="127.0" r="7.7" fill="#828282" stroke="#f2f2f2" stroke-opacity="0.95" stroke-width="2.2"/>
<circle cx="995.5" cy="181.1" r="8.0" fill="#828282" stroke="#f2f2f2" stroke-opacity="0.95" stroke-width="2.2"/>
<circle cx="1001.2" cy="213.9" r="9.1" fill="#828282" stroke="#f2f2f2" stroke-opacity="0.95" stroke-width="2.2"/>
<circle cx="965.6" cy="232.4" r="8.0" fill="#828282" stroke="#f2f2f2" stroke-opacity="0.95" stroke-width="2.2"/>
<circle cx="982.7" cy="245.3" r="7.1" fill="#828282" stroke="#f2f2f2" stroke-opacity="0.95" stroke-width="2.2"/>
<circle cx="1025.4" cy="222.5" r="8.0" fill="#828282" stroke="#f2f2f2" stroke-opacity="0.95" stroke-width="2.2"/>
<circle cx="1175.1" cy="127.0" r="8.0" fill="#828282" stroke="#f2f2f2" stroke-opacity="0.95" stroke-width="2.2"/>
<circle cx="1190.8" cy="243.8" r="8.6" fill="#828282" stroke="#f2f2f2" stroke-opacity="0.95" stroke-width="2.2"/>
<circle cx="1213.6" cy="252.4" r="7.7" fill="#828282" stroke="#f2f2f2" stroke-opacity="0.95" stroke-width="2.2"/>
<circle cx="1210.7" cy="292.3" r="7.1" fill="#828282" stroke="#f2f2f2" stroke-opacity="0.95" stroke-width="2.2"/>
<circle cx="1088.1" cy="146.9" r="6.3" fill="#828282" stroke="#f2f2f2" stroke-opacity="0.95" stroke-width="2.2"/>
<circle cx="1086.7" cy="175.4" r="6.3" fill="#828282" stroke="#f2f2f2" stroke-opacity="0.95" stroke-width="2.2"/>
<circle cx="1065.3" cy="179.7" r="5.7" fill="#828282" stroke="#f2f2f2" stroke-opacity="0.95" stroke-width="2.2"/>
<circle cx="1276.3" cy="215.3" r="6.8" fill="#828282" stroke="#f2f2f2" stroke-opacity="0.95" stroke-width="2.2"/>
<circle cx="1262.0" cy="229.6" r="5.7" fill="#828282" stroke="#f2f2f2" stroke-opacity="0.95" stroke-width="2.2"/>
<circle cx="1105.2" cy="269.5" r="6.3" fill="#828282" stroke="#f2f2f2" stroke-opacity="0.95" stroke-width="2.2"/>
<circle cx="1125.2" cy="269.5" r="6.3" fill="#828282" stroke="#f2f2f2" stroke-opacity="0.95" stroke-width="2.2"/>
<circle cx="1187.9" cy="306.6" r="6.8" fill="#828282" stroke="#f2f2f2" stroke-opacity="0.95" stroke-width="2.2"/>
<circle cx="1230.7" cy="327.9" r="6.3" fill="#828282" stroke="#f2f2f2" stroke-opacity="0.95" stroke-width="2.2"/>
<circle cx="1071.0" cy="325.1" r="6.3" fill="#828282" stroke="#f2f2f2" stroke-opacity="0.95" stroke-width="2.2"/>
<circle cx="929.9" cy="322.2" r="6.3" fill="#828282" stroke="#f2f2f2" stroke-opacity="0.95" stroke-width="2.2"/>
<circle cx="1289.1" cy="102.7" r="6.3" fill="#828282" stroke="#f2f2f2" stroke-opacity="0.95" stroke-width="2.2"/>
<circle cx="1273.4" cy="104.2" r="5.7" fill="#828282" stroke="#f2f2f2" stroke-opacity="0.95" stroke-width="2.2"/>
<circle cx="1213.6" cy="94.2" r="6.3" fill="#828282" stroke="#f2f2f2" stroke-opacity="0.95" stroke-width="2.2"/>
<circle cx="1196.5" cy="87.1" r="5.7" fill="#828282" stroke="#f2f2f2" stroke-opacity="0.95" stroke-width="2.2"/>
<circle cx="1183.6" cy="105.6" r="5.7" fill="#828282" stroke="#f2f2f2" stroke-opacity="0.95" stroke-width="2.2"/>
<circle cx="927.1" cy="75.7" r="6.3" fill="#828282" stroke="#f2f2f2" stroke-opacity="0.95" stroke-width="2.2"/>
<circle cx="1012.6" cy="168.3" r="6.3" fill="#828282" stroke="#f2f2f2" stroke-opacity="0.95" stroke-width="2.2"/>
<circle cx="1029.7" cy="168.3" r="5.7" fill="#828282" stroke="#f2f2f2" stroke-opacity="0.95" stroke-width="2.2"/>
<circle cx="915.4" cy="185.8" r="3.3" fill="#828282" stroke="#f2f2f2" stroke-opacity="0.95" stroke-width="1.7"/>
<circle cx="1302.5" cy="263.5" r="3.8" fill="#828282" stroke="#f2f2f2" stroke-opacity="0.95" stroke-width="1.7"/>
<circle cx="1270.4" cy="294.2" r="6.0" fill="#828282" stroke="#f2f2f2" stroke-opacity="0.95" stroke-width="2.2"/>
<circle cx="955.9" cy="247.4" r="3.5" fill="#828282" stroke="#f2f2f2" stroke-opacity="0.95" stroke-width="1.7"/>
<circle cx="998.9" cy="112.4" r="1.7" fill="#828282" stroke="#f2f2f2" stroke-opacity="0.72" stroke-width="1.2"/>
<circle cx="913.8" cy="109.3" r="1.7" fill="#828282" stroke="#f2f2f2" stroke-opacity="0.72" stroke-width="1.2"/>
<circle cx="1260.0" cy="350.0" r="3.0" fill="#828282" stroke="#f2f2f2" stroke-opacity="0.95" stroke-width="1.7"/>
<circle cx="948.7" cy="95.2" r="3.7" fill="#828282" stroke="#f2f2f2" stroke-opacity="0.95" stroke-width="1.7"/>
<circle cx="1251.8" cy="112.2" r="1.9" fill="#828282" stroke="#f2f2f2" stroke-opacity="0.72" stroke-width="1.2"/>
<circle cx="1129.2" cy="107.9" r="2.7" fill="#828282" stroke="#f2f2f2" stroke-opacity="0.72" stroke-width="1.2"/>
<circle cx="1129.1" cy="345.9" r="2.8" fill="#828282" stroke="#f2f2f2" stroke-opacity="0.72" stroke-width="1.2"/>
<circle cx="1130.9" cy="288.8" r="2.5" fill="#828282" stroke="#f2f2f2" stroke-opacity="0.72" stroke-width="1.2"/>
<circle cx="1244.7" cy="347.7" r="1.9" fill="#828282" stroke="#f2f2f2" stroke-opacity="0.72" stroke-width="1.2"/>
<circle cx="1247.5" cy="277.6" r="6.1" fill="#828282" stroke="#f2f2f2" stroke-opacity="0.95" stroke-width="2.2"/>
<circle cx="1058.7" cy="74.3" r="2.2" fill="#828282" stroke="#f2f2f2" stroke-opacity="0.72" stroke-width="1.2"/>
<circle cx="1019.4" cy="264.1" r="1.9" fill="#828282" stroke="#f2f2f2" stroke-opacity="0.72" stroke-width="1.2"/>
<circle cx="1295.9" cy="348.6" r="5.4" fill="#828282" stroke="#f2f2f2" stroke-opacity="0.95" stroke-width="2.2"/>
<circle cx="1168.3" cy="323.5" r="1.8" fill="#828282" stroke="#f2f2f2" stroke-opacity="0.72" stroke-width="1.2"/>
<circle cx="1180.0" cy="294.7" r="5.5" fill="#828282" stroke="#f2f2f2" stroke-opacity="0.95" stroke-width="2.2"/>
<circle cx="1284.8" cy="289.7" r="2.4" fill="#828282" stroke="#f2f2f2" stroke-opacity="0.72" stroke-width="1.2"/>
<circle cx="986.5" cy="291.7" r="3.7" fill="#828282" stroke="#f2f2f2" stroke-opacity="0.95" stroke-width="1.7"/>
<circle cx="1310.0" cy="179.2" r="2.6" fill="#828282" stroke="#f2f2f2" stroke-opacity="0.72" stroke-width="1.2"/>
<circle cx="1209.3" cy="114.6" r="4.5" fill="#828282" stroke="#f2f2f2" stroke-opacity="0.95" stroke-width="1.7"/>
<circle cx="1282.8" cy="296.7" r="1.8" fill="#828282" stroke="#f2f2f2" stroke-opacity="0.72" stroke-width="1.2"/>
<circle cx="1313.6" cy="254.0" r="2.6" fill="#828282" stroke="#f2f2f2" stroke-opacity="0.72" stroke-width="1.2"/>
<circle cx="967.1" cy="70.1" r="3.8" fill="#828282" stroke="#f2f2f2" stroke-opacity="0.95" stroke-width="1.7"/>
<circle cx="1128.5" cy="333.0" r="5.8" fill="#828282" stroke="#f2f2f2" stroke-opacity="0.95" stroke-width="2.2"/>
<circle cx="1250.7" cy="126.4" r="4.4" fill="#828282" stroke="#f2f2f2" stroke-opacity="0.95" stroke-width="1.7"/>
<circle cx="1011.8" cy="233.7" r="2.0" fill="#828282" stroke="#f2f2f2" stroke-opacity="0.72" stroke-width="1.2"/>
<circle cx="967.2" cy="326.3" r="2.1" fill="#828282" stroke="#f2f2f2" stroke-opacity="0.72" stroke-width="1.2"/>
<circle cx="1151.6" cy="324.6" r="3.6" fill="#828282" stroke="#f2f2f2" stroke-opacity="0.95" stroke-width="1.7"/>
<circle cx="1118.3" cy="218.1" r="4.5" fill="#828282" stroke="#f2f2f2" stroke-opacity="0.95" stroke-width="1.7"/>
<circle cx="1093.2" cy="118.4" r="2.8" fill="#828282" stroke="#f2f2f2" stroke-opacity="0.72" stroke-width="1.2"/>
<circle cx="984.0" cy="201.4" r="2.6" fill="#828282" stroke="#f2f2f2" stroke-opacity="0.72" stroke-width="1.2"/>
<circle cx="1046.7" cy="214.2" r="3.8" fill="#828282" stroke="#f2f2f2" stroke-opacity="0.95" stroke-width="1.7"/>
<circle cx="1228.7" cy="211.2" r="1.9" fill="#828282" stroke="#f2f2f2" stroke-opacity="0.72" stroke-width="1.2"/>
<circle cx="1285.9" cy="192.8" r="4.2" fill="#828282" stroke="#f2f2f2" stroke-opacity="0.95" stroke-width="1.7"/>
<circle cx="1108.7" cy="335.3" r="3.8" fill="#828282" stroke="#f2f2f2" stroke-opacity="0.95" stroke-width="1.7"/>
<circle cx="1298.0" cy="140.2" r="4.4" fill="#828282" stroke="#f2f2f2" stroke-opacity="0.95" stroke-width="1.7"/>
<circle cx="1256.3" cy="105.2" r="4.5" fill="#828282" stroke="#f2f2f2" stroke-opacity="0.95" stroke-width="1.7"/>
<circle cx="943.3" cy="134.8" r="2.1" fill="#828282" stroke="#f2f2f2" stroke-opacity="0.72" stroke-width="1.2"/>
<circle cx="1003.3" cy="338.4" r="6.3" fill="#828282" stroke="#f2f2f2" stroke-opacity="0.95" stroke-width="2.2"/>
<circle cx="1317.5" cy="304.1" r="3.7" fill="#828282" stroke="#f2f2f2" stroke-opacity="0.95" stroke-width="1.7"/>
<circle cx="1124.0" cy="163.0" r="2.1" fill="#828282" stroke="#f2f2f2" stroke-opacity="0.72" stroke-width="1.2"/>
<circle cx="1208.3" cy="71.6" r="2.0" fill="#828282" stroke="#f2f2f2" stroke-opacity="0.72" stroke-width="1.2"/>
<circle cx="921.1" cy="160.8" r="3.6" fill="#828282" stroke="#f2f2f2" stroke-opacity="0.95" stroke-width="1.7"/>
<circle cx="939.9" cy="347.7" r="3.7" fill="#828282" stroke="#f2f2f2" stroke-opacity="0.95" stroke-width="1.7"/>
<circle cx="956.4" cy="142.0" r="4.5" fill="#828282" stroke="#f2f2f2" stroke-opacity="0.95" stroke-width="1.7"/>
<circle cx="1024.0" cy="103.1" r="2.5" fill="#828282" stroke="#f2f2f2" stroke-opacity="0.72" stroke-width="1.2"/>
<circle cx="1247.8" cy="140.0" r="4.4" fill="#828282" stroke="#f2f2f2" stroke-opacity="0.95" stroke-width="1.7"/>
<circle cx="1146.4" cy="266.3" r="2.7" fill="#828282" stroke="#f2f2f2" stroke-opacity="0.72" stroke-width="1.2"/>
<circle cx="1194.4" cy="187.6" r="1.7" fill="#828282" stroke="#f2f2f2" stroke-opacity="0.72" stroke-width="1.2"/>
<circle cx="940.9" cy="312.8" r="2.6" fill="#828282" stroke="#f2f2f2" stroke-opacity="0.72" stroke-width="1.2"/>
<circle cx="1139.3" cy="331.0" r="3.4" fill="#828282" stroke="#f2f2f2" stroke-opacity="0.95" stroke-width="1.7"/>
<circle cx="1128.6" cy="134.2" r="1.8" fill="#828282" stroke="#f2f2f2" stroke-opacity="0.72" stroke-width="1.2"/>
<circle cx="934.2" cy="123.7" r="1.8" fill="#828282" stroke="#f2f2f2" stroke-opacity="0.72" stroke-width="1.2"/>
<circle cx="1223.5" cy="148.9" r="2.0" fill="#828282" stroke="#f2f2f2" stroke-opacity="0.72" stroke-width="1.2"/>
<circle cx="1212.7" cy="223.6" r="1.6" fill="#828282" stroke="#f2f2f2" stroke-opacity="0.72" stroke-width="1.2"/>
<circle cx="1115.6" cy="304.7" r="3.6" fill="#828282" stroke="#f2f2f2" stroke-opacity="0.95" stroke-width="1.7"/>
<circle cx="1194.2" cy="347.0" r="3.7" fill="#828282" stroke="#f2f2f2" stroke-opacity="0.95" stroke-width="1.7"/>
<circle cx="935.9" cy="103.1" r="3.4" fill="#828282" stroke="#f2f2f2" stroke-opacity="0.95" stroke-width="1.7"/>
<circle cx="1018.0" cy="112.7" r="2.5" fill="#828282" stroke="#f2f2f2" stroke-opacity="0.72" stroke-width="1.2"/>
<circle cx="1268.8" cy="257.8" r="2.6" fill="#828282" stroke="#f2f2f2" stroke-opacity="0.72" stroke-width="1.2"/>
<circle cx="1033.2" cy="197.4" r="1.9" fill="#828282" stroke="#f2f2f2" stroke-opacity="0.72" stroke-width="1.2"/>
<circle cx="1021.1" cy="341.1" r="2.1" fill="#828282" stroke="#f2f2f2" stroke-opacity="0.72" stroke-width="1.2"/>
<circle cx="914.1" cy="175.1" r="2.0" fill="#828282" stroke="#f2f2f2" stroke-opacity="0.72" stroke-width="1.2"/>
<circle cx="950.3" cy="180.3" r="1.9" fill="#828282" stroke="#f2f2f2" stroke-opacity="0.72" stroke-width="1.2"/>
<circle cx="1037.8" cy="132.6" r="1.6" fill="#828282" stroke="#f2f2f2" stroke-opacity="0.72" stroke-width="1.2"/>
<circle cx="1072.6" cy="159.3" r="4.4" fill="#828282" stroke="#f2f2f2" stroke-opacity="0.95" stroke-width="1.7"/>
<circle cx="1277.5" cy="245.4" r="2.6" fill="#828282" stroke="#f2f2f2" stroke-opacity="0.72" stroke-width="1.2"/>
<circle cx="970.5" cy="215.8" r="4.3" fill="#828282" stroke="#f2f2f2" stroke-opacity="0.95" stroke-width="1.7"/>
<circle cx="1241.9" cy="302.4" r="4.3" fill="#828282" stroke="#f2f2f2" stroke-opacity="0.95" stroke-width="1.7"/>
<circle cx="1192.3" cy="264.3" r="4.4" fill="#828282" stroke="#f2f2f2" stroke-opacity="0.95" stroke-width="1.7"/>
<circle cx="968.0" cy="169.2" r="1.6" fill="#828282" stroke="#f2f2f2" stroke-opacity="0.72" stroke-width="1.2"/>
<circle cx="1141.5" cy="245.5" r="2.6" fill="#828282" stroke="#f2f2f2" stroke-opacity="0.72" stroke-width="1.2"/>
<circle cx="1113.3" cy="66.9" r="4.0" fill="#828282" stroke="#f2f2f2" stroke-opacity="0.95" stroke-width="1.7"/>
<circle cx="1214.2" cy="138.1" r="2.9" fill="#828282" stroke="#f2f2f2" stroke-opacity="0.72" stroke-width="1.2"/>
<circle cx="1211.2" cy="124.7" r="1.9" fill="#828282" stroke="#f2f2f2" stroke-opacity="0.72" stroke-width="1.2"/>
<circle cx="1115.2" cy="175.4" r="4.6" fill="#828282" stroke="#f2f2f2" stroke-opacity="0.95" stroke-width="1.7"/>
<circle cx="1226.5" cy="242.5" r="4.0" fill="#828282" stroke="#f2f2f2" stroke-opacity="0.95" stroke-width="1.7"/>
<circle cx="973.8" cy="138.6" r="2.9" fill="#828282" stroke="#f2f2f2" stroke-opacity="0.72" stroke-width="1.2"/>
<circle cx="1145.3" cy="69.6" r="3.3" fill="#828282" stroke="#f2f2f2" stroke-opacity="0.95" stroke-width="1.7"/>
<circle cx="1124.4" cy="198.9" r="3.3" fill="#828282" stroke="#f2f2f2" stroke-opacity="0.95" stroke-width="1.7"/>
<circle cx="1278.2" cy="123.0" r="3.0" fill="#828282" stroke="#f2f2f2" stroke-opacity="0.95" stroke-width="1.7"/>
<circle cx="920.8" cy="197.3" r="6.3" fill="#828282" stroke="#f2f2f2" stroke-opacity="0.95" stroke-width="2.2"/>
<circle cx="999.6" cy="232.3" r="2.7" fill="#828282" stroke="#f2f2f2" stroke-opacity="0.72" stroke-width="1.2"/>
<circle cx="1302.3" cy="103.9" r="2.2" fill="#828282" stroke="#f2f2f2" stroke-opacity="0.72" stroke-width="1.2"/>
<circle cx="1275.5" cy="267.2" r="5.5" fill="#828282" stroke="#f2f2f2" stroke-opacity="0.95" stroke-width="2.2"/>
<circle cx="1097.6" cy="152.4" r="2.2" fill="#828282" stroke="#f2f2f2" stroke-opacity="0.72" stroke-width="1.2"/>
<circle cx="1042.6" cy="306.3" r="2.0" fill="#828282" stroke="#f2f2f2" stroke-opacity="0.72" stroke-width="1.2"/>
<circle cx="1281.4" cy="148.9" r="5.9" fill="#828282" stroke="#f2f2f2" stroke-opacity="0.95" stroke-width="2.2"/>
<circle cx="1321.1" cy="234.5" r="3.5" fill="#828282" stroke="#f2f2f2" stroke-opacity="0.95" stroke-width="1.7"/>
<circle cx="1025.9" cy="79.8" r="3.6" fill="#828282" stroke="#f2f2f2" stroke-opacity="0.95" stroke-width="1.7"/>
<circle cx="1030.2" cy="333.6" r="2.6" fill="#828282" stroke="#f2f2f2" stroke-opacity="0.72" stroke-width="1.2"/>
<circle cx="1122.1" cy="120.3" r="1.9" fill="#828282" stroke="#f2f2f2" stroke-opacity="0.72" stroke-width="1.2"/>
<circle cx="1297.4" cy="223.1" r="4.4" fill="#828282" stroke="#f2f2f2" stroke-opacity="0.95" stroke-width="1.7"/>
<circle cx="1212.4" cy="194.9" r="2.9" fill="#828282" stroke="#f2f2f2" stroke-opacity="0.72" stroke-width="1.2"/>
<circle cx="1106.3" cy="164.3" r="4.8" fill="#828282" stroke="#f2f2f2" stroke-opacity="0.95" stroke-width="1.7"/>
<circle cx="1311.9" cy="140.4" r="2.5" fill="#828282" stroke="#f2f2f2" stroke-opacity="0.72" stroke-width="1.2"/>
<circle cx="1141.0" cy="178.8" r="3.3" fill="#828282" stroke="#f2f2f2" stroke-opacity="0.95" stroke-width="1.7"/>
<circle cx="998.5" cy="325.1" r="1.8" fill="#828282" stroke="#f2f2f2" stroke-opacity="0.72" stroke-width="1.2"/>
<circle cx="1283.4" cy="351.0" r="3.2" fill="#828282" stroke="#f2f2f2" stroke-opacity="0.95" stroke-width="1.7"/>
<circle cx="992.2" cy="91.9" r="3.1" fill="#828282" stroke="#f2f2f2" stroke-opacity="0.95" stroke-width="1.7"/>
<circle cx="1011.2" cy="139.9" r="1.7" fill="#828282" stroke="#f2f2f2" stroke-opacity="0.72" stroke-width="1.2"/>
<circle cx="1219.5" cy="184.1" r="4.4" fill="#828282" stroke="#f2f2f2" stroke-opacity="0.95" stroke-width="1.7"/>
<circle cx="1308.4" cy="102.0" r="1.9" fill="#828282" stroke="#f2f2f2" stroke-opacity="0.72" stroke-width="1.2"/>
<circle cx="1265.7" cy="127.8" r="3.9" fill="#828282" stroke="#f2f2f2" stroke-opacity="0.95" stroke-width="1.7"/>
<circle cx="1076.8" cy="193.5" r="1.9" fill="#828282" stroke="#f2f2f2" stroke-opacity="0.72" stroke-width="1.2"/>
<circle cx="1269.8" cy="72.2" r="6.1" fill="#828282" stroke="#f2f2f2" stroke-opacity="0.95" stroke-width="2.2"/>
<circle cx="1279.1" cy="201.4" r="2.5" fill="#828282" stroke="#f2f2f2" stroke-opacity="0.72" stroke-width="1.2"/>
<circle cx="929.8" cy="289.7" r="3.8" fill="#828282" stroke="#f2f2f2" stroke-opacity="0.95" stroke-width="1.7"/>
<circle cx="1177.0" cy="152.9" r="2.7" fill="#828282" stroke="#f2f2f2" stroke-opacity="0.72" stroke-width="1.2"/>
<circle cx="1173.2" cy="265.8" r="1.9" fill="#828282" stroke="#f2f2f2" stroke-opacity="0.72" stroke-width="1.2"/>
<circle cx="1127.6" cy="232.7" r="1.7" fill="#828282" stroke="#f2f2f2" stroke-opacity="0.72" stroke-width="1.2"/>
<circle cx="1158.9" cy="69.0" r="3.2" fill="#828282" stroke="#f2f2f2" stroke-opacity="0.95" stroke-width="1.7"/>
<circle cx="1304.9" cy="250.3" r="2.2" fill="#828282" stroke="#f2f2f2" stroke-opacity="0.72" stroke-width="1.2"/>
<circle cx="1039.1" cy="72.2" r="5.9" fill="#828282" stroke="#f2f2f2" stroke-opacity="0.95" stroke-width="2.2"/>
<circle cx="1006.2" cy="75.8" r="4.5" fill="#828282" stroke="#f2f2f2" stroke-opacity="0.95" stroke-width="1.7"/>
<circle cx="1192.1" cy="122.7" r="2.1" fill="#828282" stroke="#f2f2f2" stroke-opacity="0.72" stroke-width="1.2"/>
<circle cx="973.4" cy="178.5" r="4.5" fill="#828282" stroke="#f2f2f2" stroke-opacity="0.95" stroke-width="1.7"/>
<circle cx="971.6" cy="80.8" r="2.8" fill="#828282" stroke="#f2f2f2" stroke-opacity="0.72" stroke-width="1.2"/>
<circle cx="1280.1" cy="318.7" r="2.1" fill="#828282" stroke="#f2f2f2" stroke-opacity="0.72" stroke-width="1.2"/>
<circle cx="1293.7" cy="160.2" r="4.6" fill="#828282" stroke="#f2f2f2" stroke-opacity="0.95" stroke-width="1.7"/>
<circle cx="1218.1" cy="75.1" r="2.7" fill="#828282" stroke="#f2f2f2" stroke-opacity="0.72" stroke-width="1.2"/>
<circle cx="1307.0" cy="125.3" r="4.8" fill="#828282" stroke="#f2f2f2" stroke-opacity="0.95" stroke-width="1.7"/>
<circle cx="1249.0" cy="189.7" r="4.3" fill="#828282" stroke="#f2f2f2" stroke-opacity="0.95" stroke-width="1.7"/>
<circle cx="1279.6" cy="74.7" r="2.0" fill="#828282" stroke="#f2f2f2" stroke-opacity="0.72" stroke-width="1.2"/>
<circle cx="1226.4" cy="77.6" r="4.3" fill="#828282" stroke="#f2f2f2" stroke-opacity="0.95" stroke-width="1.7"/>
<circle cx="1289.0" cy="139.5" r="1.7" fill="#828282" stroke="#f2f2f2" stroke-opacity="0.72" stroke-width="1.2"/>
<circle cx="1052.0" cy="143.9" r="4.4" fill="#828282" stroke="#f2f2f2" stroke-opacity="0.95" stroke-width="1.7"/>
<circle cx="915.2" cy="282.1" r="1.9" fill="#828282" stroke="#f2f2f2" stroke-opacity="0.72" stroke-width="1.2"/>
<circle cx="1298.5" cy="72.9" r="5.7" fill="#828282" stroke="#f2f2f2" stroke-opacity="0.95" stroke-width="2.2"/>
<circle cx="1304.0" cy="338.8" r="2.2" fill="#828282" stroke="#f2f2f2" stroke-opacity="0.72" stroke-width="1.2"/>
<circle cx="1089.1" cy="207.1" r="3.3" fill="#828282" stroke="#f2f2f2" stroke-opacity="0.95" stroke-width="1.7"/>
<circle cx="1161.4" cy="159.8" r="6.0" fill="#828282" stroke="#f2f2f2" stroke-opacity="0.95" stroke-width="2.2"/>
<circle cx="1232.8" cy="88.6" r="2.0" fill="#828282" stroke="#f2f2f2" stroke-opacity="0.72" stroke-width="1.2"/>
<circle cx="1014.6" cy="84.5" r="2.5" fill="#828282" stroke="#f2f2f2" stroke-opacity="0.72" stroke-width="1.2"/>
<circle cx="1046.6" cy="346.4" r="2.3" fill="#828282" stroke="#f2f2f2" stroke-opacity="0.72" stroke-width="1.2"/>
<circle cx="1203.2" cy="193.8" r="2.2" fill="#828282" stroke="#f2f2f2" stroke-opacity="0.72" stroke-width="1.2"/>
<circle cx="1166.7" cy="258.8" r="2.1" fill="#828282" stroke="#f2f2f2" stroke-opacity="0.72" stroke-width="1.2"/>
<circle cx="1149.6" cy="159.3" r="2.7" fill="#828282" stroke="#f2f2f2" stroke-opacity="0.72" stroke-width="1.2"/>
<circle cx="1120.6" cy="132.2" r="4.6" fill="#828282" stroke="#f2f2f2" stroke-opacity="0.95" stroke-width="1.7"/>
<circle cx="1317.9" cy="95.3" r="4.0" fill="#828282" stroke="#f2f2f2" stroke-opacity="0.95" stroke-width="1.7"/>
<circle cx="1256.6" cy="327.5" r="4.3" fill="#828282" stroke="#f2f2f2" stroke-opacity="0.95" stroke-width="1.7"/>
<circle cx="962.3" cy="120.2" r="2.0" fill="#828282" stroke="#f2f2f2" stroke-opacity="0.72" stroke-width="1.2"/>
<circle cx="1293.1" cy="172.5" r="5.6" fill="#828282" stroke="#f2f2f2" stroke-opacity="0.95" stroke-width="2.2"/>
<circle cx="1019.7" cy="288.4" r="5.4" fill="#828282" stroke="#f2f2f2" stroke-opacity="0.95" stroke-width="2.2"/>
<circle cx="1156.9" cy="243.3" r="4.8" fill="#828282" stroke="#f2f2f2" stroke-opacity="0.95" stroke-width="1.7"/>
<circle cx="971.4" cy="124.3" r="2.0" fill="#828282" stroke="#f2f2f2" stroke-opacity="0.72" stroke-width="1.2"/>
<circle cx="1238.1" cy="222.7" r="1.8" fill="#828282" stroke="#f2f2f2" stroke-opacity="0.72" stroke-width="1.2"/>
<circle cx="1074.9" cy="223.3" r="1.7" fill="#828282" stroke="#f2f2f2" stroke-opacity="0.72" stroke-width="1.2"/>
<circle cx="980.5" cy="264.9" r="3.0" fill="#828282" stroke="#f2f2f2" stroke-opacity="0.72" stroke-width="1.2"/>
<circle cx="1039.2" cy="338.6" r="3.3" fill="#828282" stroke="#f2f2f2" stroke-opacity="0.95" stroke-width="1.7"/>
<circle cx="1062.1" cy="122.4" r="6.4" fill="#828282" stroke="#f2f2f2" stroke-opacity="0.95" stroke-width="2.2"/>
<circle cx="916.1" cy="323.9" r="3.2" fill="#828282" stroke="#f2f2f2" stroke-opacity="0.95" stroke-width="1.7"/>
<circle cx="919.8" cy="223.7" r="3.1" fill="#828282" stroke="#f2f2f2" stroke-opacity="0.95" stroke-width="1.7"/>
<circle cx="973.2" cy="147.0" r="3.7" fill="#828282" stroke="#f2f2f2" stroke-opacity="0.95" stroke-width="1.7"/>
<circle cx="958.1" cy="206.3" r="4.5" fill="#828282" stroke="#f2f2f2" stroke-opacity="0.95" stroke-width="1.7"/>
<circle cx="994.2" cy="102.2" r="4.5" fill="#828282" stroke="#f2f2f2" stroke-opacity="0.95" stroke-width="1.7"/>
<circle cx="1110.6" cy="81.3" r="6.4" fill="#828282" stroke="#f2f2f2" stroke-opacity="0.95" stroke-width="2.2"/>
<circle cx="1234.2" cy="129.5" r="4.9" fill="#828282" stroke="#f2f2f2" stroke-opacity="0.95" stroke-width="1.7"/>
<circle cx="1124.9" cy="175.7" r="2.1" fill="#828282" stroke="#f2f2f2" stroke-opacity="0.72" stroke-width="1.2"/>
<circle cx="1209.4" cy="322.6" r="1.9" fill="#828282" stroke="#f2f2f2" stroke-opacity="0.72" stroke-width="1.2"/>
<circle cx="1158.2" cy="223.3" r="4.8" fill="#828282" stroke="#f2f2f2" stroke-opacity="0.95" stroke-width="1.7"/>
<circle cx="1085.0" cy="232.6" r="3.4" fill="#828282" stroke="#f2f2f2" stroke-opacity="0.95" stroke-width="1.7"/>
<circle cx="1095.9" cy="191.4" r="4.0" fill="#828282" stroke="#f2f2f2" stroke-opacity="0.95" stroke-width="1.7"/>
<circle cx="966.1" cy="189.2" r="3.0" fill="#828282" stroke="#f2f2f2" stroke-opacity="0.72" stroke-width="1.2"/>
<circle cx="1121.8" cy="77.7" r="2.1" fill="#828282" stroke="#f2f2f2" stroke-opacity="0.72" stroke-width="1.2"/>
<circle cx="992.7" cy="346.8" r="4.3" fill="#828282" stroke="#f2f2f2" stroke-opacity="0.95" stroke-width="1.7"/>
<circle cx="940.4" cy="166.4" r="4.5" fill="#828282" stroke="#f2f2f2" stroke-opacity="0.95" stroke-width="1.7"/>
<circle cx="1118.6" cy="329.1" r="3.1" fill="#828282" stroke="#f2f2f2" stroke-opacity="0.95" stroke-width="1.7"/>
<circle cx="1120.1" cy="157.3" r="1.9" fill="#828282" stroke="#f2f2f2" stroke-opacity="0.72" stroke-width="1.2"/>
<circle cx="979.5" cy="333.8" r="1.8" fill="#828282" stroke="#f2f2f2" stroke-opacity="0.72" stroke-width="1.2"/>
<circle cx="1173.3" cy="168.9" r="2.2" fill="#828282" stroke="#f2f2f2" stroke-opacity="0.72" stroke-width="1.2"/>
<circle cx="1170.6" cy="178.8" r="2.8" fill="#828282" stroke="#f2f2f2" stroke-opacity="0.72" stroke-width="1.2"/>
<circle cx="1152.7" cy="255.8" r="4.6" fill="#828282" stroke="#f2f2f2" stroke-opacity="0.95" stroke-width="1.7"/>
<circle cx="927.5" cy="108.7" r="1.6" fill="#828282" stroke="#f2f2f2" stroke-opacity="0.72" stroke-width="1.2"/>
<circle cx="1122.8" cy="322.1" r="3.6" fill="#828282" stroke="#f2f2f2" stroke-opacity="0.95" stroke-width="1.7"/>
<circle cx="1180.1" cy="72.4" r="1.9" fill="#828282" stroke="#f2f2f2" stroke-opacity="0.72" stroke-width="1.2"/>
<circle cx="957.1" cy="168.1" r="2.0" fill="#828282" stroke="#f2f2f2" stroke-opacity="0.72" stroke-width="1.2"/>
<circle cx="1154.0" cy="124.4" r="2.3" fill="#828282" stroke="#f2f2f2" stroke-opacity="0.72" stroke-width="1.2"/>
<circle cx="968.7" cy="333.9" r="3.7" fill="#828282" stroke="#f2f2f2" stroke-opacity="0.95" stroke-width="1.7"/>
<circle cx="1143.1" cy="166.2" r="2.4" fill="#828282" stroke="#f2f2f2" stroke-opacity="0.72" stroke-width="1.2"/>
<circle cx="1296.0" cy="275.8" r="3.6" fill="#828282" stroke="#f2f2f2" stroke-opacity="0.95" stroke-width="1.7"/>
<circle cx="931.6" cy="218.0" r="2.7" fill="#828282" stroke="#f2f2f2" stroke-opacity="0.72" stroke-width="1.2"/>
<circle cx="1120.5" cy="249.5" r="2.3" fill="#828282" stroke="#f2f2f2" stroke-opacity="0.72" stroke-width="1.2"/>
<circle cx="1039.9" cy="151.9" r="3.1" fill="#828282" stroke="#f2f2f2" stroke-opacity="0.95" stroke-width="1.7"/>
<circle cx="1233.1" cy="270.6" r="2.7" fill="#828282" stroke="#f2f2f2" stroke-opacity="0.72" stroke-width="1.2"/>
<circle cx="1005.9" cy="96.1" r="3.6" fill="#828282" stroke="#f2f2f2" stroke-opacity="0.95" stroke-width="1.7"/>
<circle cx="1050.6" cy="280.4" r="1.6" fill="#828282" stroke="#f2f2f2" stroke-opacity="0.72" stroke-width="1.2"/>
<circle cx="1204.0" cy="142.1" r="4.3" fill="#828282" stroke="#f2f2f2" stroke-opacity="0.95" stroke-width="1.7"/>
<circle cx="1235.3" cy="215.6" r="3.6" fill="#828282" stroke="#f2f2f2" stroke-opacity="0.95" stroke-width="1.7"/>
<circle cx="1218.1" cy="159.5" r="4.5" fill="#828282" stroke="#f2f2f2" stroke-opacity="0.95" stroke-width="1.7"/>
<circle cx="1011.3" cy="325.6" r="5.2" fill="#828282" stroke="#f2f2f2" stroke-opacity="0.95" stroke-width="2.2"/>
<circle cx="1185.0" cy="346.0" r="4.0" fill="#828282" stroke="#f2f2f2" stroke-opacity="0.95" stroke-width="1.7"/>
<circle cx="945.4" cy="326.5" r="2.3" fill="#828282" stroke="#f2f2f2" stroke-opacity="0.72" stroke-width="1.2"/>
<circle cx="957.2" cy="331.7" r="1.6" fill="#828282" stroke="#f2f2f2" stroke-opacity="0.72" stroke-width="1.2"/>
<circle cx="1198.0" cy="276.7" r="3.9" fill="#828282" stroke="#f2f2f2" stroke-opacity="0.95" stroke-width="1.7"/>
<circle cx="1061.9" cy="299.8" r="2.3" fill="#828282" stroke="#f2f2f2" stroke-opacity="0.72" stroke-width="1.2"/>
<circle cx="1259.5" cy="298.2" r="1.6" fill="#828282" stroke="#f2f2f2" stroke-opacity="0.72" stroke-width="1.2"/>
<circle cx="1222.6" cy="124.6" r="1.7" fill="#828282" stroke="#f2f2f2" stroke-opacity="0.72" stroke-width="1.2"/>
<circle cx="922.2" cy="139.4" r="2.1" fill="#828282" stroke="#f2f2f2" stroke-opacity="0.72" stroke-width="1.2"/>
<circle cx="1063.8" cy="157.8" r="2.5" fill="#828282" stroke="#f2f2f2" stroke-opacity="0.72" stroke-width="1.2"/>
<circle cx="1261.0" cy="242.8" r="5.5" fill="#828282" stroke="#f2f2f2" stroke-opacity="0.95" stroke-width="2.2"/>
<circle cx="1091.7" cy="287.1" r="2.1" fill="#828282" stroke="#f2f2f2" stroke-opacity="0.72" stroke-width="1.2"/>
<circle cx="1133.1" cy="127.9" r="2.4" fill="#828282" stroke="#f2f2f2" stroke-opacity="0.72" stroke-width="1.2"/>
<circle cx="1224.6" cy="345.7" r="1.8" fill="#828282" stroke="#f2f2f2" stroke-opacity="0.72" stroke-width="1.2"/>
<circle cx="1114.2" cy="293.9" r="2.2" fill="#828282" stroke="#f2f2f2" stroke-opacity="0.72" stroke-width="1.2"/>
<circle cx="1055.3" cy="303.9" r="2.2" fill="#828282" stroke="#f2f2f2" stroke-opacity="0.72" stroke-width="1.2"/>
<circle cx="1029.4" cy="127.4" r="2.7" fill="#828282" stroke="#f2f2f2" stroke-opacity="0.72" stroke-width="1.2"/>
<circle cx="1198.1" cy="291.1" r="2.5" fill="#828282" stroke="#f2f2f2" stroke-opacity="0.72" stroke-width="1.2"/>
<circle cx="1009.0" cy="197.8" r="4.4" fill="#828282" stroke="#f2f2f2" stroke-opacity="0.95" stroke-width="1.7"/>
<circle cx="977.1" cy="307.1" r="2.0" fill="#828282" stroke="#f2f2f2" stroke-opacity="0.72" stroke-width="1.2"/>
<circle cx="982.9" cy="191.5" r="4.1" fill="#828282" stroke="#f2f2f2" stroke-opacity="0.95" stroke-width="1.7"/>
<circle cx="965.1" cy="198.1" r="3.8" fill="#828282" stroke="#f2f2f2" stroke-opacity="0.95" stroke-width="1.7"/>
<circle cx="991.8" cy="152.2" r="5.0" fill="#828282" stroke="#f2f2f2" stroke-opacity="0.95" stroke-width="2.2"/>
<circle cx="976.8" cy="110.6" r="4.3" fill="#828282" stroke="#f2f2f2" stroke-opacity="0.95" stroke-width="1.7"/>
<circle cx="1311.5" cy="274.4" r="1.8" fill="#828282" stroke="#f2f2f2" stroke-opacity="0.72" stroke-width="1.2"/>
<circle cx="955.2" cy="175.9" r="2.8" fill="#828282" stroke="#f2f2f2" stroke-opacity="0.72" stroke-width="1.2"/>
<circle cx="957.3" cy="125.0" r="2.4" fill="#828282" stroke="#f2f2f2" stroke-opacity="0.72" stroke-width="1.2"/>
<circle cx="1076.5" cy="292.2" r="2.9" fill="#828282" stroke="#f2f2f2" stroke-opacity="0.72" stroke-width="1.2"/>
<circle cx="1171.6" cy="198.5" r="3.7" fill="#828282" stroke="#f2f2f2" stroke-opacity="0.95" stroke-width="1.7"/>
<circle cx="1078.8" cy="277.9" r="2.3" fill="#828282" stroke="#f2f2f2" stroke-opacity="0.72" stroke-width="1.2"/>
<circle cx="1147.8" cy="280.2" r="5.4" fill="#828282" stroke="#f2f2f2" stroke-opacity="0.95" stroke-width="2.2"/>
<circle cx="1041.4" cy="245.7" r="3.6" fill="#828282" stroke="#f2f2f2" stroke-opacity="0.95" stroke-width="1.7"/>
<circle cx="1086.5" cy="196.2" r="3.3" fill="#828282" stroke="#f2f2f2" stroke-opacity="0.95" stroke-width="1.7"/>
<circle cx="1189.1" cy="332.0" r="3.5" fill="#828282" stroke="#f2f2f2" stroke-opacity="0.95" stroke-width="1.7"/>
<circle cx="1231.1" cy="177.2" r="2.4" fill="#828282" stroke="#f2f2f2" stroke-opacity="0.72" stroke-width="1.2"/>
<circle cx="1297.4" cy="214.5" r="2.5" fill="#828282" stroke="#f2f2f2" stroke-opacity="0.72" stroke-width="1.2"/>
<circle cx="1251.8" cy="215.2" r="4.0" fill="#828282" stroke="#f2f2f2" stroke-opacity="0.95" stroke-width="1.7"/>
<circle cx="999.4" cy="261.7" r="4.5" fill="#828282" stroke="#f2f2f2" stroke-opacity="0.95" stroke-width="1.7"/>
<circle cx="963.6" cy="347.6" r="4.2" fill="#828282" stroke="#f2f2f2" stroke-opacity="0.95" stroke-width="1.7"/>
<circle cx="1025.6" cy="180.3" r="2.9" fill="#828282" stroke="#f2f2f2" stroke-opacity="0.72" stroke-width="1.2"/>
<circle cx="1085.2" cy="265.7" r="2.1" fill="#828282" stroke="#f2f2f2" stroke-opacity="0.72" stroke-width="1.2"/>
<circle cx="1005.2" cy="278.1" r="3.3" fill="#828282" stroke="#f2f2f2" stroke-opacity="0.95" stroke-width="1.7"/>
<circle cx="1003.0" cy="295.2" r="5.5" fill="#828282" stroke="#f2f2f2" stroke-opacity="0.95" stroke-width="2.2"/>
<circle cx="966.4" cy="288.1" r="3.2" fill="#828282" stroke="#f2f2f2" stroke-opacity="0.95" stroke-width="1.7"/>
<circle cx="1105.1" cy="226.7" r="3.9" fill="#828282" stroke="#f2f2f2" stroke-opacity="0.95" stroke-width="1.7"/>
<circle cx="1057.7" cy="248.7" r="2.8" fill="#828282" stroke="#f2f2f2" stroke-opacity="0.72" stroke-width="1.2"/>
<circle cx="1253.8" cy="167.5" r="3.0" fill="#828282" stroke="#f2f2f2" stroke-opacity="0.95" stroke-width="1.7"/>
<circle cx="1067.1" cy="138.5" r="5.1" fill="#828282" stroke="#f2f2f2" stroke-opacity="0.95" stroke-width="2.2"/>
<circle cx="914.8" cy="272.4" r="3.1" fill="#828282" stroke="#f2f2f2" stroke-opacity="0.95" stroke-width="1.7"/>
<circle cx="1036.8" cy="203.2" r="1.9" fill="#828282" stroke="#f2f2f2" stroke-opacity="0.72" stroke-width="1.2"/>
<circle cx="1182.6" cy="169.7" r="3.9" fill="#828282" stroke="#f2f2f2" stroke-opacity="0.95" stroke-width="1.7"/>
<circle cx="937.0" cy="302.8" r="6.1" fill="#828282" stroke="#f2f2f2" stroke-opacity="0.95" stroke-width="2.2"/>
<circle cx="918.4" cy="338.2" r="2.8" fill="#828282" stroke="#f2f2f2" stroke-opacity="0.72" stroke-width="1.2"/>
<circle cx="955.1" cy="106.8" r="3.3" fill="#828282" stroke="#f2f2f2" stroke-opacity="0.95" stroke-width="1.7"/>
<circle cx="1055.0" cy="109.7" r="2.5" fill="#828282" stroke="#f2f2f2" stroke-opacity="0.72" stroke-width="1.2"/>
<circle cx="982.2" cy="320.9" r="6.0" fill="#828282" stroke="#f2f2f2" stroke-opacity="0.95" stroke-width="2.2"/>
<circle cx="1186.4" cy="321.7" r="4.2" fill="#828282" stroke="#f2f2f2" stroke-opacity="0.95" stroke-width="1.7"/>
<circle cx="1092.6" cy="318.4" r="4.1" fill="#828282" stroke="#f2f2f2" stroke-opacity="0.95" stroke-width="1.7"/>
<circle cx="1009.2" cy="105.9" r="3.3" fill="#828282" stroke="#f2f2f2" stroke-opacity="0.95" stroke-width="1.7"/>
<circle cx="1104.2" cy="107.3" r="2.9" fill="#828282" stroke="#f2f2f2" stroke-opacity="0.72" stroke-width="1.2"/>
<circle cx="1133.8" cy="312.8" r="3.7" fill="#828282" stroke="#f2f2f2" stroke-opacity="0.95" stroke-width="1.7"/>
<circle cx="1173.5" cy="247.9" r="4.7" fill="#828282" stroke="#f2f2f2" stroke-opacity="0.95" stroke-width="1.7"/>
<circle cx="1063.1" cy="201.7" r="2.6" fill="#828282" stroke="#f2f2f2" stroke-opacity="0.72" stroke-width="1.2"/>
<circle cx="1250.9" cy="149.8" r="3.8" fill="#828282" stroke="#f2f2f2" stroke-opacity="0.95" stroke-width="1.7"/>
<circle cx="1119.2" cy="143.7" r="5.3" fill="#828282" stroke="#f2f2f2" stroke-opacity="0.95" stroke-width="2.2"/>
<circle cx="1035.8" cy="233.7" r="2.0" fill="#828282" stroke="#f2f2f2" stroke-opacity="0.72" stroke-width="1.2"/>
<circle cx="930.0" cy="272.7" r="4.2" fill="#828282" stroke="#f2f2f2" stroke-opacity="0.95" stroke-width="1.7"/>
<circle cx="934.0" cy="151.9" r="5.6" fill="#828282" stroke="#f2f2f2" stroke-opacity="0.95" stroke-width="2.2"/>
<circle cx="1289.6" cy="240.1" r="1.8" fill="#828282" stroke="#f2f2f2" stroke-opacity="0.72" stroke-width="1.2"/>
<circle cx="1185.8" cy="197.0" r="3.2" fill="#828282" stroke="#f2f2f2" stroke-opacity="0.95" stroke-width="1.7"/>
<circle cx="987.7" cy="76.6" r="3.0" fill="#828282" stroke="#f2f2f2" stroke-opacity="0.72" stroke-width="1.2"/>
<circle cx="1143.0" cy="139.8" r="6.0" fill="#828282" stroke="#f2f2f2" stroke-opacity="0.95" stroke-width="2.2"/>
<circle cx="1043.6" cy="189.2" r="2.1" fill="#828282" stroke="#f2f2f2" stroke-opacity="0.72" stroke-width="1.2"/>
<circle cx="936.0" cy="228.3" r="4.5" fill="#828282" stroke="#f2f2f2" stroke-opacity="0.95" stroke-width="1.7"/>
<circle cx="1244.2" cy="230.5" r="1.7" fill="#828282" stroke="#f2f2f2" stroke-opacity="0.72" stroke-width="1.2"/>
<circle cx="1313.8" cy="202.0" r="4.5" fill="#828282" stroke="#f2f2f2" stroke-opacity="0.95" stroke-width="1.7"/>
<circle cx="915.7" cy="261.6" r="1.6" fill="#828282" stroke="#f2f2f2" stroke-opacity="0.72" stroke-width="1.2"/>
<circle cx="949.7" cy="314.7" r="2.8" fill="#828282" stroke="#f2f2f2" stroke-opacity="0.72" stroke-width="1.2"/>
<circle cx="1207.1" cy="135.3" r="1.6" fill="#828282" stroke="#f2f2f2" stroke-opacity="0.72" stroke-width="1.2"/>
<circle cx="1247.1" cy="88.8" r="2.4" fill="#828282" stroke="#f2f2f2" stroke-opacity="0.72" stroke-width="1.2"/>
<circle cx="1063.6" cy="230.4" r="2.9" fill="#828282" stroke="#f2f2f2" stroke-opacity="0.72" stroke-width="1.2"/>
<circle cx="972.8" cy="294.0" r="4.0" fill="#828282" stroke="#f2f2f2" stroke-opacity="0.95" stroke-width="1.7"/>
<circle cx="1299.1" cy="290.4" r="4.2" fill="#828282" stroke="#f2f2f2" stroke-opacity="0.95" stroke-width="1.7"/>
<circle cx="1049.1" cy="239.3" r="4.3" fill="#828282" stroke="#f2f2f2" stroke-opacity="0.95" stroke-width="1.7"/>
<circle cx="1067.3" cy="261.9" r="4.4" fill="#828282" stroke="#f2f2f2" stroke-opacity="0.95" stroke-width="1.7"/>
<circle cx="1139.5" cy="294.1" r="1.7" fill="#828282" stroke="#f2f2f2" stroke-opacity="0.72" stroke-width="1.2"/>
<circle cx="1293.7" cy="132.9" r="2.5" fill="#828282" stroke="#f2f2f2" stroke-opacity="0.72" stroke-width="1.2"/>
<circle cx="1103.5" cy="125.1" r="4.0" fill="#828282" stroke="#f2f2f2" stroke-opacity="0.95" stroke-width="1.7"/>
<circle cx="1236.6" cy="197.5" r="2.5" fill="#828282" stroke="#f2f2f2" stroke-opacity="0.72" stroke-width="1.2"/>
<circle cx="927.4" cy="349.3" r="2.8" fill="#828282" stroke="#f2f2f2" stroke-opacity="0.72" stroke-width="1.2"/>
<circle cx="947.8" cy="80.6" r="1.8" fill="#828282" stroke="#f2f2f2" stroke-opacity="0.72" stroke-width="1.2"/>
<circle cx="1157.7" cy="179.7" r="4.7" fill="#828282" stroke="#f2f2f2" stroke-opacity="0.95" stroke-width="1.7"/>
<circle cx="1307.6" cy="349.6" r="3.1" fill="#828282" stroke="#f2f2f2" stroke-opacity="0.95" stroke-width="1.7"/>
<circle cx="1255.2" cy="79.5" r="6.2" fill="#828282" stroke="#f2f2f2" stroke-opacity="0.95" stroke-width="2.2"/>
<circle cx="1221.6" cy="334.7" r="1.8" fill="#828282" stroke="#f2f2f2" stroke-opacity="0.72" stroke-width="1.2"/>
<circle cx="1249.4" cy="202.6" r="3.4" fill="#828282" stroke="#f2f2f2" stroke-opacity="0.95" stroke-width="1.7"/>
<circle cx="1018.9" cy="123.7" r="3.3" fill="#828282" stroke="#f2f2f2" stroke-opacity="0.95" stroke-width="1.7"/>
<circle cx="1320.8" cy="330.6" r="4.6" fill="#828282" stroke="#f2f2f2" stroke-opacity="0.95" stroke-width="1.7"/>
<circle cx="1279.3" cy="82.4" r="1.9" fill="#828282" stroke="#f2f2f2" stroke-opacity="0.72" stroke-width="1.2"/>
<circle cx="1312.9" cy="70.6" r="3.3" fill="#828282" stroke="#f2f2f2" stroke-opacity="0.95" stroke-width="1.7"/>
<circle cx="1146.7" cy="105.5" r="5.0" fill="#828282" stroke="#f2f2f2" stroke-opacity="0.95" stroke-width="1.7"/>
<circle cx="1204.0" cy="122.3" r="2.5" fill="#828282" stroke="#f2f2f2" stroke-opacity="0.72" stroke-width="1.2"/>
<circle cx="1161.9" cy="207.7" r="1.7" fill="#828282" stroke="#f2f2f2" stroke-opacity="0.72" stroke-width="1.2"/>
<circle cx="1163.5" cy="268.4" r="1.8" fill="#828282" stroke="#f2f2f2" stroke-opacity="0.72" stroke-width="1.2"/>
<circle cx="996.2" cy="84.8" r="3.8" fill="#828282" stroke="#f2f2f2" stroke-opacity="0.95" stroke-width="1.7"/>
<circle cx="1208.1" cy="81.8" r="3.5" fill="#828282" stroke="#f2f2f2" stroke-opacity="0.95" stroke-width="1.7"/>
<circle cx="1257.1" cy="313.2" r="3.4" fill="#828282" stroke="#f2f2f2" stroke-opacity="0.95" stroke-width="1.7"/>
<circle cx="989.6" cy="303.8" r="5.1" fill="#828282" stroke="#f2f2f2" stroke-opacity="0.95" stroke-width="2.2"/>
<circle cx="1095.5" cy="213.5" r="2.2" fill="#828282" stroke="#f2f2f2" stroke-opacity="0.72" stroke-width="1.2"/>
<circle cx="1246.8" cy="313.5" r="2.5" fill="#828282" stroke="#f2f2f2" stroke-opacity="0.72" stroke-width="1.2"/>
<circle cx="1069.3" cy="280.9" r="2.5" fill="#828282" stroke="#f2f2f2" stroke-opacity="0.72" stroke-width="1.2"/>
<circle cx="1302.9" cy="207.5" r="2.6" fill="#828282" stroke="#f2f2f2" stroke-opacity="0.72" stroke-width="1.2"/>
<circle cx="1132.9" cy="71.9" r="3.8" fill="#828282" stroke="#f2f2f2" stroke-opacity="0.95" stroke-width="1.7"/>
<circle cx="926.0" cy="93.6" r="2.6" fill="#828282" stroke="#f2f2f2" stroke-opacity="0.72" stroke-width="1.2"/>
<circle cx="920.9" cy="237.4" r="3.2" fill="#828282" stroke="#f2f2f2" stroke-opacity="0.95" stroke-width="1.7"/>
<circle cx="1155.1" cy="312.3" r="3.0" fill="#828282" stroke="#f2f2f2" stroke-opacity="0.95" stroke-width="1.7"/>
<circle cx="1218.2" cy="113.0" r="2.3" fill="#828282" stroke="#f2f2f2" stroke-opacity="0.72" stroke-width="1.2"/>
<circle cx="1015.4" cy="186.7" r="6.3" fill="#828282" stroke="#f2f2f2" stroke-opacity="0.95" stroke-width="2.2"/>
<circle cx="1130.2" cy="85.8" r="3.5" fill="#828282" stroke="#f2f2f2" stroke-opacity="0.95" stroke-width="1.7"/>
<circle cx="1295.9" cy="247.1" r="6.0" fill="#828282" stroke="#f2f2f2" stroke-opacity="0.95" stroke-width="2.2"/>
<circle cx="1190.4" cy="144.2" r="3.3" fill="#828282" stroke="#f2f2f2" stroke-opacity="0.95" stroke-width="1.7"/>
<circle cx="1023.2" cy="199.4" r="5.5" fill="#828282" stroke="#f2f2f2" stroke-opacity="0.95" stroke-width="2.2"/>
<circle cx="964.2" cy="103.6" r="3.1" fill="#828282" stroke="#f2f2f2" stroke-opacity="0.95" stroke-width="1.7"/>
<circle cx="1140.8" cy="206.5" r="5.0" fill="#828282" stroke="#f2f2f2" stroke-opacity="0.95" stroke-width="2.2"/>
<circle cx="1034.2" cy="286.8" r="2.8" fill="#828282" stroke="#f2f2f2" stroke-opacity="0.72" stroke-width="1.2"/>
<circle cx="1269.1" cy="191.8" r="1.7" fill="#828282" stroke="#f2f2f2" stroke-opacity="0.72" stroke-width="1.2"/>
<circle cx="1093.1" cy="276.3" r="2.1" fill="#828282" stroke="#f2f2f2" stroke-opacity="0.72" stroke-width="1.2"/>
<circle cx="1305.0" cy="277.3" r="1.9" fill="#828282" stroke="#f2f2f2" stroke-opacity="0.72" stroke-width="1.2"/>
<circle cx="1057.5" cy="259.1" r="2.0" fill="#828282" stroke="#f2f2f2" stroke-opacity="0.72" stroke-width="1.2"/>
<circle cx="1223.6" cy="201.9" r="4.1" fill="#828282" stroke="#f2f2f2" stroke-opacity="0.95" stroke-width="1.7"/>
<circle cx="1117.5" cy="193.0" r="4.3" fill="#828282" stroke="#f2f2f2" stroke-opacity="0.95" stroke-width="1.7"/>
<circle cx="1189.6" cy="216.2" r="4.5" fill="#828282" stroke="#f2f2f2" stroke-opacity="0.95" stroke-width="1.7"/>
<circle cx="1320.0" cy="164.2" r="3.9" fill="#828282" stroke="#f2f2f2" stroke-opacity="0.95" stroke-width="1.7"/>
<circle cx="1122.8" cy="97.6" r="6.1" fill="#828282" stroke="#f2f2f2" stroke-opacity="0.95" stroke-width="2.2"/>
<circle cx="1057.8" cy="350.2" r="3.9" fill="#828282" stroke="#f2f2f2" stroke-opacity="0.95" stroke-width="1.7"/>
<circle cx="915.3" cy="153.1" r="2.4" fill="#828282" stroke="#f2f2f2" stroke-opacity="0.72" stroke-width="1.2"/>
<circle cx="1022.2" cy="251.0" r="3.8" fill="#828282" stroke="#f2f2f2" stroke-opacity="0.95" stroke-width="1.7"/>
<circle cx="1223.5" cy="96.5" r="1.8" fill="#828282" stroke="#f2f2f2" stroke-opacity="0.72" stroke-width="1.2"/>
<circle cx="1126.8" cy="301.4" r="1.8" fill="#828282" stroke="#f2f2f2" stroke-opacity="0.72" stroke-width="1.2"/>
<circle cx="939.0" cy="69.6" r="4.3" fill="#828282" stroke="#f2f2f2" stroke-opacity="0.95" stroke-width="1.7"/>
<circle cx="1205.5" cy="167.2" r="3.4" fill="#828282" stroke="#f2f2f2" stroke-opacity="0.95" stroke-width="1.7"/>
<circle cx="954.3" cy="324.5" r="1.9" fill="#828282" stroke="#f2f2f2" stroke-opacity="0.72" stroke-width="1.2"/>
<circle cx="1151.4" cy="340.4" r="2.7" fill="#828282" stroke="#f2f2f2" stroke-opacity="0.72" stroke-width="1.2"/>
<circle cx="1042.1" cy="323.1" r="6.1" fill="#828282" stroke="#f2f2f2" stroke-opacity="0.95" stroke-width="2.2"/>
<circle cx="1159.5" cy="340.6" r="3.3" fill="#828282" stroke="#f2f2f2" stroke-opacity="0.95" stroke-width="1.7"/>
<circle cx="1310.0" cy="149.1" r="3.1" fill="#828282" stroke="#f2f2f2" stroke-opacity="0.95" stroke-width="1.7"/>
<circle cx="1131.4" cy="176.3" r="3.0" fill="#828282" stroke="#f2f2f2" stroke-opacity="0.95" stroke-width="1.7"/>
<circle cx="964.0" cy="302.2" r="2.9" fill="#828282" stroke="#f2f2f2" stroke-opacity="0.72" stroke-width="1.2"/>
<circle cx="1094.5" cy="305.2" r="4.8" fill="#828282" stroke="#f2f2f2" stroke-opacity="0.95" stroke-width="1.7"/>
<circle cx="1057.7" cy="272.6" r="3.1" fill="#828282" stroke="#f2f2f2" stroke-opacity="0.95" stroke-width="1.7"/>
<circle cx="1280.7" cy="234.0" r="3.3" fill="#828282" stroke="#f2f2f2" stroke-opacity="0.95" stroke-width="1.7"/>
<circle cx="1161.8" cy="126.8" r="3.2" fill="#828282" stroke="#f2f2f2" stroke-opacity="0.95" stroke-width="1.7"/>
<circle cx="1070.7" cy="254.1" r="2.5" fill="#828282" stroke="#f2f2f2" stroke-opacity="0.72" stroke-width="1.2"/>
<circle cx="1072.8" cy="90.6" r="3.4" fill="#828282" stroke="#f2f2f2" stroke-opacity="0.95" stroke-width="1.7"/>
<circle cx="1044.7" cy="255.5" r="2.6" fill="#828282" stroke="#f2f2f2" stroke-opacity="0.72" stroke-width="1.2"/>
<circle cx="1061.1" cy="209.1" r="2.3" fill="#828282" stroke="#f2f2f2" stroke-opacity="0.72" stroke-width="1.2"/>
<circle cx="925.8" cy="260.4" r="1.9" fill="#828282" stroke="#f2f2f2" stroke-opacity="0.72" stroke-width="1.2"/>
<circle cx="1082.0" cy="254.5" r="3.4" fill="#828282" stroke="#f2f2f2" stroke-opacity="0.95" stroke-width="1.7"/>
<circle cx="1037.3" cy="174.9" r="1.8" fill="#828282" stroke="#f2f2f2" stroke-opacity="0.72" stroke-width="1.2"/>
<circle cx="1056.1" cy="66.3" r="4.0" fill="#828282" stroke="#f2f2f2" stroke-opacity="0.95" stroke-width="1.7"/>
<circle cx="933.0" cy="135.9" r="5.7" fill="#828282" stroke="#f2f2f2" stroke-opacity="0.95" stroke-width="2.2"/>
<circle cx="1197.1" cy="178.6" r="3.0" fill="#828282" stroke="#f2f2f2" stroke-opacity="0.72" stroke-width="1.2"/>
<circle cx="1028.4" cy="91.7" r="4.3" fill="#828282" stroke="#f2f2f2" stroke-opacity="0.95" stroke-width="1.7"/>
<circle cx="1081.6" cy="123.6" r="2.0" fill="#828282" stroke="#f2f2f2" stroke-opacity="0.72" stroke-width="1.2"/>
<circle cx="1202.1" cy="257.7" r="1.8" fill="#828282" stroke="#f2f2f2" stroke-opacity="0.72" stroke-width="1.2"/>
<circle cx="1049.8" cy="299.2" r="2.3" fill="#828282" stroke="#f2f2f2" stroke-opacity="0.72" stroke-width="1.2"/>
<circle cx="1226.2" cy="303.7" r="3.6" fill="#828282" stroke="#f2f2f2" stroke-opacity="0.95" stroke-width="1.7"/>
<circle cx="1046.1" cy="200.0" r="3.0" fill="#828282" stroke="#f2f2f2" stroke-opacity="0.95" stroke-width="1.7"/>
<circle cx="948.0" cy="271.1" r="6.0" fill="#828282" stroke="#f2f2f2" stroke-opacity="0.95" stroke-width="2.2"/>
<circle cx="1169.8" cy="333.5" r="5.8" fill="#828282" stroke="#f2f2f2" stroke-opacity="0.95" stroke-width="2.2"/>
<circle cx="1250.4" cy="157.6" r="1.8" fill="#828282" stroke="#f2f2f2" stroke-opacity="0.72" stroke-width="1.2"/>
<circle cx="1282.9" cy="336.3" r="4.1" fill="#828282" stroke="#f2f2f2" stroke-opacity="0.95" stroke-width="1.7"/>
<circle cx="1194.3" cy="112.8" r="2.9" fill="#828282" stroke="#f2f2f2" stroke-opacity="0.72" stroke-width="1.2"/>
<circle cx="1234.7" cy="187.7" r="6.1" fill="#828282" stroke="#f2f2f2" stroke-opacity="0.95" stroke-width="2.2"/>
<circle cx="1123.6" cy="186.5" r="2.4" fill="#828282" stroke="#f2f2f2" stroke-opacity="0.72" stroke-width="1.2"/>
<circle cx="1309.9" cy="325.9" r="2.2" fill="#828282" stroke="#f2f2f2" stroke-opacity="0.72" stroke-width="1.2"/>
<circle cx="1053.8" cy="319.1" r="3.3" fill="#828282" stroke="#f2f2f2" stroke-opacity="0.95" stroke-width="1.7"/>
<circle cx="1017.1" cy="93.2" r="2.6" fill="#828282" stroke="#f2f2f2" stroke-opacity="0.72" stroke-width="1.2"/>
<circle cx="1080.1" cy="87.0" r="2.9" fill="#828282" stroke="#f2f2f2" stroke-opacity="0.72" stroke-width="1.2"/>
<circle cx="1138.3" cy="270.4" r="4.4" fill="#828282" stroke="#f2f2f2" stroke-opacity="0.95" stroke-width="1.7"/>
<circle cx="1317.8" cy="272.4" r="3.0" fill="#828282" stroke="#f2f2f2" stroke-opacity="0.95" stroke-width="1.7"/>
<circle cx="1073.6" cy="115.0" r="2.6" fill="#828282" stroke="#f2f2f2" stroke-opacity="0.72" stroke-width="1.2"/>
<circle cx="1229.8" cy="105.1" r="5.6" fill="#828282" stroke="#f2f2f2" stroke-opacity="0.95" stroke-width="2.2"/>
<circle cx="1000.6" cy="151.8" r="2.3" fill="#828282" stroke="#f2f2f2" stroke-opacity="0.72" stroke-width="1.2"/>
<circle cx="958.7" cy="295.0" r="1.6" fill="#828282" stroke="#f2f2f2" stroke-opacity="0.72" stroke-width="1.2"/>
<circle cx="1032.0" cy="262.5" r="2.3" fill="#828282" stroke="#f2f2f2" stroke-opacity="0.72" stroke-width="1.2"/>
<circle cx="1118.4" cy="315.7" r="1.8" fill="#828282" stroke="#f2f2f2" stroke-opacity="0.72" stroke-width="1.2"/>
<circle cx="982.9" cy="169.2" r="2.9" fill="#828282" stroke="#f2f2f2" stroke-opacity="0.72" stroke-width="1.2"/>
<circle cx="1049.8" cy="71.9" r="2.3" fill="#828282" stroke="#f2f2f2" stroke-opacity="0.72" stroke-width="1.2"/>
<circle cx="1238.1" cy="315.6" r="3.3" fill="#828282" stroke="#f2f2f2" stroke-opacity="0.95" stroke-width="1.7"/>
<circle cx="982.6" cy="85.0" r="3.3" fill="#828282" stroke="#f2f2f2" stroke-opacity="0.95" stroke-width="1.7"/>
<circle cx="1150.5" cy="348.4" r="1.8" fill="#828282" stroke="#f2f2f2" stroke-opacity="0.72" stroke-width="1.2"/>
<circle cx="980.8" cy="142.7" r="1.6" fill="#828282" stroke="#f2f2f2" stroke-opacity="0.72" stroke-width="1.2"/>
<circle cx="1158.9" cy="88.7" r="4.5" fill="#828282" stroke="#f2f2f2" stroke-opacity="0.95" stroke-width="1.7"/>
<circle cx="1270.8" cy="249.0" r="2.2" fill="#828282" stroke="#f2f2f2" stroke-opacity="0.72" stroke-width="1.2"/>
<circle cx="1190.6" cy="162.6" r="3.5" fill="#828282" stroke="#f2f2f2" stroke-opacity="0.95" stroke-width="1.7"/>
<circle cx="932.2" cy="245.1" r="2.1" fill="#828282" stroke="#f2f2f2" stroke-opacity="0.72" stroke-width="1.2"/>
<circle cx="1157.6" cy="139.5" r="2.2" fill="#828282" stroke="#f2f2f2" stroke-opacity="0.72" stroke-width="1.2"/>
<circle cx="1140.1" cy="254.0" r="3.9" fill="#828282" stroke="#f2f2f2" stroke-opacity="0.95" stroke-width="1.7"/>
<circle cx="1230.2" cy="154.4" r="4.2" fill="#828282" stroke="#f2f2f2" stroke-opacity="0.95" stroke-width="1.7"/>
<circle cx="1229.5" cy="169.7" r="4.0" fill="#828282" stroke="#f2f2f2" stroke-opacity="0.95" stroke-width="1.7"/>
<circle cx="938.2" cy="209.5" r="1.8" fill="#828282" stroke="#f2f2f2" stroke-opacity="0.72" stroke-width="1.2"/>
<circle cx="1214.6" cy="329.5" r="1.8" fill="#828282" stroke="#f2f2f2" stroke-opacity="0.72" stroke-width="1.2"/>
<circle cx="940.4" cy="250.6" r="2.5" fill="#828282" stroke="#f2f2f2" stroke-opacity="0.72" stroke-width="1.2"/>
<circle cx="1268.3" cy="142.4" r="2.6" fill="#828282" stroke="#f2f2f2" stroke-opacity="0.72" stroke-width="1.2"/>
<circle cx="1060.7" cy="289.0" r="2.7" fill="#828282" stroke="#f2f2f2" stroke-opacity="0.72" stroke-width="1.2"/>
<circle cx="975.2" cy="276.5" r="2.7" fill="#828282" stroke="#f2f2f2" stroke-opacity="0.72" stroke-width="1.2"/>
<circle cx="986.7" cy="262.0" r="2.1" fill="#828282" stroke="#f2f2f2" stroke-opacity="0.72" stroke-width="1.2"/>
<circle cx="1021.7" cy="85.7" r="1.8" fill="#828282" stroke="#f2f2f2" stroke-opacity="0.72" stroke-width="1.2"/>
<circle cx="1080.2" cy="225.2" r="2.2" fill="#828282" stroke="#f2f2f2" stroke-opacity="0.72" stroke-width="1.2"/>
<circle cx="1320.9" cy="67.5" r="3.1" fill="#828282" stroke="#f2f2f2" stroke-opacity="0.95" stroke-width="1.7"/>
<circle cx="1017.6" cy="240.7" r="4.5" fill="#828282" stroke="#f2f2f2" stroke-opacity="0.95" stroke-width="1.7"/>
<circle cx="1177.3" cy="223.0" r="3.4" fill="#828282" stroke="#f2f2f2" stroke-opacity="0.95" stroke-width="1.7"/>
<circle cx="1216.9" cy="174.3" r="2.4" fill="#828282" stroke="#f2f2f2" stroke-opacity="0.72" stroke-width="1.2"/>
<circle cx="1128.4" cy="241.3" r="3.5" fill="#828282" stroke="#f2f2f2" stroke-opacity="0.95" stroke-width="1.7"/>
<circle cx="1021.8" cy="325.9" r="2.3" fill="#828282" stroke="#f2f2f2" stroke-opacity="0.72" stroke-width="1.2"/>
<circle cx="1292.0" cy="217.2" r="1.8" fill="#828282" stroke="#f2f2f2" stroke-opacity="0.72" stroke-width="1.2"/>
<circle cx="1101.5" cy="249.2" r="2.6" fill="#828282" stroke="#f2f2f2" stroke-opacity="0.72" stroke-width="1.2"/>
<circle cx="1098.4" cy="91.2" r="3.7" fill="#828282" stroke="#f2f2f2" stroke-opacity="0.95" stroke-width="1.7"/>
<circle cx="1069.2" cy="71.1" r="3.4" fill="#828282" stroke="#f2f2f2" stroke-opacity="0.95" stroke-width="1.7"/>
<circle cx="937.2" cy="117.0" r="2.3" fill="#828282" stroke="#f2f2f2" stroke-opacity="0.72" stroke-width="1.2"/>
<circle cx="1045.9" cy="135.2" r="3.3" fill="#828282" stroke="#f2f2f2" stroke-opacity="0.95" stroke-width="1.7"/>
<circle cx="1173.2" cy="311.6" r="4.8" fill="#828282" stroke="#f2f2f2" stroke-opacity="0.95" stroke-width="1.7"/>
<circle cx="1236.9" cy="242.7" r="2.1" fill="#828282" stroke="#f2f2f2" stroke-opacity="0.72" stroke-width="1.2"/>
<circle cx="1048.1" cy="86.2" r="4.0" fill="#828282" stroke="#f2f2f2" stroke-opacity="0.95" stroke-width="1.7"/>
<circle cx="1128.2" cy="208.0" r="3.5" fill="#828282" stroke="#f2f2f2" stroke-opacity="0.95" stroke-width="1.7"/>
<circle cx="1187.1" cy="277.8" r="4.3" fill="#828282" stroke="#f2f2f2" stroke-opacity="0.95" stroke-width="1.7"/>
<circle cx="955.2" cy="91.2" r="2.6" fill="#828282" stroke="#f2f2f2" stroke-opacity="0.72" stroke-width="1.2"/>
<circle cx="936.1" cy="260.8" r="3.8" fill="#828282" stroke="#f2f2f2" stroke-opacity="0.95" stroke-width="1.7"/>
<circle cx="1151.8" cy="170.6" r="3.7" fill="#828282" stroke="#f2f2f2" stroke-opacity="0.95" stroke-width="1.7"/>
<circle cx="1288.7" cy="225.1" r="3.2" fill="#828282" stroke="#f2f2f2" stroke-opacity="0.95" stroke-width="1.7"/>
<circle cx="1131.1" cy="183.0" r="2.0" fill="#828282" stroke="#f2f2f2" stroke-opacity="0.72" stroke-width="1.2"/>
<circle cx="1241.0" cy="235.3" r="2.5" fill="#828282" stroke="#f2f2f2" stroke-opacity="0.72" stroke-width="1.2"/>
<circle cx="1174.5" cy="80.0" r="2.1" fill="#828282" stroke="#f2f2f2" stroke-opacity="0.72" stroke-width="1.2"/>
<circle cx="1288.1" cy="125.2" r="4.9" fill="#828282" stroke="#f2f2f2" stroke-opacity="0.95" stroke-width="1.7"/>
<circle cx="1233.6" cy="337.9" r="1.7" fill="#828282" stroke="#f2f2f2" stroke-opacity="0.72" stroke-width="1.2"/>
<circle cx="1181.5" cy="80.3" r="2.7" fill="#828282" stroke="#f2f2f2" stroke-opacity="0.72" stroke-width="1.2"/>
<circle cx="1014.6" cy="278.3" r="2.1" fill="#828282" stroke="#f2f2f2" stroke-opacity="0.72" stroke-width="1.2"/>
<circle cx="1035.3" cy="85.9" r="2.5" fill="#828282" stroke="#f2f2f2" stroke-opacity="0.72" stroke-width="1.2"/>
<circle cx="1049.0" cy="306.9" r="2.7" fill="#828282" stroke="#f2f2f2" stroke-opacity="0.72" stroke-width="1.2"/>
<circle cx="974.5" cy="92.9" r="5.5" fill="#828282" stroke="#f2f2f2" stroke-opacity="0.95" stroke-width="2.2"/>
<circle cx="980.6" cy="219.1" r="2.2" fill="#828282" stroke="#f2f2f2" stroke-opacity="0.72" stroke-width="1.2"/>
<circle cx="1011.5" cy="315.3" r="1.8" fill="#828282" stroke="#f2f2f2" stroke-opacity="0.72" stroke-width="1.2"/>
<circle cx="1314.6" cy="77.8" r="2.3" fill="#828282" stroke="#f2f2f2" stroke-opacity="0.72" stroke-width="1.2"/>
<circle cx="1246.0" cy="163.8" r="4.0" fill="#828282" stroke="#f2f2f2" stroke-opacity="0.95" stroke-width="1.7"/>
<circle cx="1320.5" cy="292.4" r="2.8" fill="#828282" stroke="#f2f2f2" stroke-opacity="0.72" stroke-width="1.2"/>
<circle cx="1307.6" cy="258.4" r="1.8" fill="#828282" stroke="#f2f2f2" stroke-opacity="0.72" stroke-width="1.2"/>
<circle cx="1250.3" cy="290.3" r="3.6" fill="#828282" stroke="#f2f2f2" stroke-opacity="0.95" stroke-width="1.7"/>
<circle cx="1008.4" cy="122.6" r="2.6" fill="#828282" stroke="#f2f2f2" stroke-opacity="0.72" stroke-width="1.2"/>
<circle cx="1297.8" cy="302.2" r="4.0" fill="#828282" stroke="#f2f2f2" stroke-opacity="0.95" stroke-width="1.7"/>
<circle cx="920.4" cy="97.6" r="2.2" fill="#828282" stroke="#f2f2f2" stroke-opacity="0.72" stroke-width="1.2"/>
<circle cx="1160.4" cy="196.8" r="3.6" fill="#828282" stroke="#f2f2f2" stroke-opacity="0.95" stroke-width="1.7"/>
<circle cx="1304.3" cy="169.6" r="1.9" fill="#828282" stroke="#f2f2f2" stroke-opacity="0.72" stroke-width="1.2"/>
<circle cx="1162.6" cy="321.7" r="2.7" fill="#828282" stroke="#f2f2f2" stroke-opacity="0.72" stroke-width="1.2"/>
<circle cx="985.2" cy="336.3" r="2.8" fill="#828282" stroke="#f2f2f2" stroke-opacity="0.72" stroke-width="1.2"/>
<circle cx="1265.4" cy="213.0" r="2.3" fill="#828282" stroke="#f2f2f2" stroke-opacity="0.72" stroke-width="1.2"/>
<circle cx="1094.8" cy="339.9" r="2.3" fill="#828282" stroke="#f2f2f2" stroke-opacity="0.72" stroke-width="1.2"/>
<circle cx="1302.4" cy="320.9" r="1.8" fill="#828282" stroke="#f2f2f2" stroke-opacity="0.72" stroke-width="1.2"/>
<circle cx="1149.0" cy="79.3" r="2.3" fill="#828282" stroke="#f2f2f2" stroke-opacity="0.72" stroke-width="1.2"/>
<circle cx="1242.0" cy="259.5" r="5.8" fill="#828282" stroke="#f2f2f2" stroke-opacity="0.95" stroke-width="2.2"/>
<circle cx="1148.3" cy="302.2" r="1.8" fill="#828282" stroke="#f2f2f2" stroke-opacity="0.72" stroke-width="1.2"/>
<circle cx="1074.4" cy="176.3" r="1.9" fill="#828282" stroke="#f2f2f2" stroke-opacity="0.72" stroke-width="1.2"/>
<circle cx="1129.6" cy="148.5" r="4.5" fill="#828282" stroke="#f2f2f2" stroke-opacity="0.95" stroke-width="1.7"/>
<circle cx="1058.0" cy="334.8" r="5.6" fill="#828282" stroke="#f2f2f2" stroke-opacity="0.95" stroke-width="2.2"/>
<circle cx="942.2" cy="222.9" r="1.9" fill="#828282" stroke="#f2f2f2" stroke-opacity="0.72" stroke-width="1.2"/>
<circle cx="1176.7" cy="342.6" r="2.0" fill="#828282" stroke="#f2f2f2" stroke-opacity="0.72" stroke-width="1.2"/>
<circle cx="940.6" cy="184.2" r="2.0" fill="#828282" stroke="#f2f2f2" stroke-opacity="0.72" stroke-width="1.2"/>
<circle cx="1025.4" cy="307.6" r="3.8" fill="#828282" stroke="#f2f2f2" stroke-opacity="0.95" stroke-width="1.7"/>
<circle cx="1159.8" cy="301.7" r="1.7" fill="#828282" stroke="#f2f2f2" stroke-opacity="0.72" stroke-width="1.2"/>
<circle cx="1048.7" cy="228.6" r="3.4" fill="#828282" stroke="#f2f2f2" stroke-opacity="0.95" stroke-width="1.7"/>
<circle cx="998.9" cy="306.1" r="2.6" fill="#828282" stroke="#f2f2f2" stroke-opacity="0.72" stroke-width="1.2"/>
<circle cx="1086.6" cy="84.0" r="2.2" fill="#828282" stroke="#f2f2f2" stroke-opacity="0.72" stroke-width="1.2"/>
<circle cx="1305.8" cy="160.2" r="6.0" fill="#828282" stroke="#f2f2f2" stroke-opacity="0.95" stroke-width="2.2"/>
<circle cx="1078.0" cy="146.8" r="1.8" fill="#828282" stroke="#f2f2f2" stroke-opacity="0.72" stroke-width="1.2"/>
<circle cx="993.9" cy="142.0" r="2.4" fill="#828282" stroke="#f2f2f2" stroke-opacity="0.72" stroke-width="1.2"/>
<circle cx="1208.4" cy="271.8" r="6.3" fill="#828282" stroke="#f2f2f2" stroke-opacity="0.95" stroke-width="2.2"/>
<circle cx="919.0" cy="313.0" r="1.8" fill="#828282" stroke="#f2f2f2" stroke-opacity="0.72" stroke-width="1.2"/>
<circle cx="1318.1" cy="153.4" r="2.4" fill="#828282" stroke="#f2f2f2" stroke-opacity="0.72" stroke-width="1.2"/>
<circle cx="1105.9" cy="349.3" r="2.5" fill="#828282" stroke="#f2f2f2" stroke-opacity="0.72" stroke-width="1.2"/>
<circle cx="1313.7" cy="190.9" r="4.5" fill="#828282" stroke="#f2f2f2" stroke-opacity="0.95" stroke-width="1.7"/>
<circle cx="1099.9" cy="233.5" r="1.8" fill="#828282" stroke="#f2f2f2" stroke-opacity="0.72" stroke-width="1.2"/>
<circle cx="1105.7" cy="180.5" r="2.9" fill="#828282" stroke="#f2f2f2" stroke-opacity="0.72" stroke-width="1.2"/>
<circle cx="1011.5" cy="251.8" r="4.1" fill="#828282" stroke="#f2f2f2" stroke-opacity="0.95" stroke-width="1.7"/>
<circle cx="1011.0" cy="348.2" r="2.9" fill="#828282" stroke="#f2f2f2" stroke-opacity="0.72" stroke-width="1.2"/>
<circle cx="1252.1" cy="298.1" r="2.8" fill="#828282" stroke="#f2f2f2" stroke-opacity="0.72" stroke-width="1.2"/>
<circle cx="1312.0" cy="222.2" r="3.0" fill="#828282" stroke="#f2f2f2" stroke-opacity="0.72" stroke-width="1.2"/>
<circle cx="1211.5" cy="309.0" r="3.0" fill="#828282" stroke="#f2f2f2" stroke-opacity="0.72" stroke-width="1.2"/>
<circle cx="1286.1" cy="305.4" r="4.2" fill="#828282" stroke="#f2f2f2" stroke-opacity="0.95" stroke-width="1.7"/>
<circle cx="952.3" cy="192.7" r="2.0" fill="#828282" stroke="#f2f2f2" stroke-opacity="0.72" stroke-width="1.2"/>
<circle cx="922.2" cy="132.0" r="2.1" fill="#828282" stroke="#f2f2f2" stroke-opacity="0.72" stroke-width="1.2"/>
<circle cx="1307.6" cy="112.1" r="3.8" fill="#828282" stroke="#f2f2f2" stroke-opacity="0.95" stroke-width="1.7"/>
<circle cx="1030.9" cy="325.3" r="1.9" fill="#828282" stroke="#f2f2f2" stroke-opacity="0.72" stroke-width="1.2"/>
<circle cx="1205.7" cy="349.1" r="1.9" fill="#828282" stroke="#f2f2f2" stroke-opacity="0.72" stroke-width="1.2"/>
<circle cx="1061.2" cy="106.7" r="1.6" fill="#828282" stroke="#f2f2f2" stroke-opacity="0.72" stroke-width="1.2"/>
<circle cx="1195.0" cy="193.2" r="2.1" fill="#828282" stroke="#f2f2f2" stroke-opacity="0.72" stroke-width="1.2"/>
<circle cx="1282.8" cy="111.2" r="1.8" fill="#828282" stroke="#f2f2f2" stroke-opacity="0.72" stroke-width="1.2"/>
<circle cx="1314.5" cy="175.5" r="1.7" fill="#828282" stroke="#f2f2f2" stroke-opacity="0.72" stroke-width="1.2"/>
<circle cx="1092.5" cy="99.1" r="1.6" fill="#828282" stroke="#f2f2f2" stroke-opacity="0.72" stroke-width="1.2"/>
<circle cx="1268.7" cy="341.3" r="3.8" fill="#828282" stroke="#f2f2f2" stroke-opacity="0.95" stroke-width="1.7"/>
<circle cx="1061.0" cy="100.2" r="2.4" fill="#828282" stroke="#f2f2f2" stroke-opacity="0.72" stroke-width="1.2"/>
<circle cx="1263.4" cy="171.2" r="5.9" fill="#828282" stroke="#f2f2f2" stroke-opacity="0.95" stroke-width="2.2"/>
<circle cx="991.8" cy="280.2" r="3.1" fill="#828282" stroke="#f2f2f2" stroke-opacity="0.95" stroke-width="1.7"/>
<circle cx="1114.4" cy="349.7" r="4.5" fill="#828282" stroke="#f2f2f2" stroke-opacity="0.95" stroke-width="1.7"/>
<circle cx="1152.6" cy="195.4" r="1.8" fill="#828282" stroke="#f2f2f2" stroke-opacity="0.72" stroke-width="1.2"/>
<circle cx="956.2" cy="71.0" r="2.7" fill="#828282" stroke="#f2f2f2" stroke-opacity="0.72" stroke-width="1.2"/>
<circle cx="1308.1" cy="314.9" r="1.9" fill="#828282" stroke="#f2f2f2" stroke-opacity="0.72" stroke-width="1.2"/>
<circle cx="1127.4" cy="259.7" r="2.0" fill="#828282" stroke="#f2f2f2" stroke-opacity="0.72" stroke-width="1.2"/>
<circle cx="1080.6" cy="341.0" r="5.0" fill="#828282" stroke="#f2f2f2" stroke-opacity="0.95" stroke-width="1.7"/>
<circle cx="965.7" cy="129.7" r="4.2" fill="#828282" stroke="#f2f2f2" stroke-opacity="0.95" stroke-width="1.7"/>
<circle cx="945.4" cy="232.6" r="3.6" fill="#828282" stroke="#f2f2f2" stroke-opacity="0.95" stroke-width="1.7"/>
<circle cx="1248.8" cy="237.9" r="1.9" fill="#828282" stroke="#f2f2f2" stroke-opacity="0.72" stroke-width="1.2"/>
<circle cx="1021.8" cy="269.4" r="1.9" fill="#828282" stroke="#f2f2f2" stroke-opacity="0.72" stroke-width="1.2"/>
<circle cx="1109.0" cy="139.9" r="2.1" fill="#828282" stroke="#f2f2f2" stroke-opacity="0.72" stroke-width="1.2"/>
<circle cx="1114.3" cy="119.9" r="3.4" fill="#828282" stroke="#f2f2f2" stroke-opacity="0.95" stroke-width="1.7"/>
<circle cx="1241.7" cy="292.3" r="2.4" fill="#828282" stroke="#f2f2f2" stroke-opacity="0.72" stroke-width="1.2"/>
<circle cx="1184.3" cy="227.6" r="1.7" fill="#828282" stroke="#f2f2f2" stroke-opacity="0.72" stroke-width="1.2"/>
<circle cx="1151.3" cy="96.9" r="1.8" fill="#828282" stroke="#f2f2f2" stroke-opacity="0.72" stroke-width="1.2"/>
<circle cx="977.9" cy="130.7" r="3.3" fill="#828282" stroke="#f2f2f2" stroke-opacity="0.95" stroke-width="1.7"/>
<circle cx="1205.9" cy="340.2" r="4.3" fill="#828282" stroke="#f2f2f2" stroke-opacity="0.95" stroke-width="1.7"/>
<circle cx="1042.4" cy="272.3" r="3.4" fill="#828282" stroke="#f2f2f2" stroke-opacity="0.95" stroke-width="1.7"/>
<circle cx="1293.7" cy="316.9" r="3.1" fill="#828282" stroke="#f2f2f2" stroke-opacity="0.95" stroke-width="1.7"/>
<circle cx="1205.9" cy="217.4" r="3.5" fill="#828282" stroke="#f2f2f2" stroke-opacity="0.95" stroke-width="1.7"/>
<circle cx="942.3" cy="176.7" r="3.0" fill="#828282" stroke="#f2f2f2" stroke-opacity="0.72" stroke-width="1.2"/>
<circle cx="1292.1" cy="333.1" r="3.6" fill="#828282" stroke="#f2f2f2" stroke-opacity="0.95" stroke-width="1.7"/>
<circle cx="952.1" cy="341.6" r="2.1" fill="#828282" stroke="#f2f2f2" stroke-opacity="0.72" stroke-width="1.2"/>
<circle cx="1317.8" cy="108.5" r="2.2" fill="#828282" stroke="#f2f2f2" stroke-opacity="0.72" stroke-width="1.2"/>
<circle cx="1084.4" cy="301.0" r="1.8" fill="#828282" stroke="#f2f2f2" stroke-opacity="0.72" stroke-width="1.2"/>
<circle cx="1068.0" cy="97.5" r="3.4" fill="#828282" stroke="#f2f2f2" stroke-opacity="0.95" stroke-width="1.7"/>
<circle cx="1133.6" cy="162.2" r="4.8" fill="#828282" stroke="#f2f2f2" stroke-opacity="0.95" stroke-width="1.7"/>
<circle cx="1052.1" cy="289.9" r="3.6" fill="#828282" stroke="#f2f2f2" stroke-opacity="0.95" stroke-width="1.7"/>
<circle cx="1001.0" cy="163.4" r="4.4" fill="#828282" stroke="#f2f2f2" stroke-opacity="0.95" stroke-width="1.7"/>
<circle cx="942.5" cy="85.4" r="3.2" fill="#828282" stroke="#f2f2f2" stroke-opacity="0.95" stroke-width="1.7"/>
<circle cx="927.9" cy="235.0" r="2.7" fill="#828282" stroke="#f2f2f2" stroke-opacity="0.72" stroke-width="1.2"/>
<circle cx="1088.8" cy="92.4" r="4.1" fill="#828282" stroke="#f2f2f2" stroke-opacity="0.95" stroke-width="1.7"/>
<circle cx="989.9" cy="222.4" r="2.5" fill="#828282" stroke="#f2f2f2" stroke-opacity="0.72" stroke-width="1.2"/>
<circle cx="1223.5" cy="314.4" r="5.6" fill="#828282" stroke="#f2f2f2" stroke-opacity="0.95" stroke-width="2.2"/>
<circle cx="1085.1" cy="212.8" r="1.9" fill="#828282" stroke="#f2f2f2" stroke-opacity="0.72" stroke-width="1.2"/>
</g></g>
<text x="927.6" y="358.4" font-size="7.5" textLength="22" lengthAdjust="spacingAndGlyphs" fill="#fff" style="font-weight:normal">200 nm</text>
<text x="1002.6" y="363.6" font-size="7.5" textLength="48.5" lengthAdjust="spacingAndGlyphs" fill="#fff" style="font-weight:normal">EHT =  2.00 kV</text>
<text x="1077.3" y="364.4" font-size="7.5" textLength="45" lengthAdjust="spacingAndGlyphs" fill="#fff" style="font-weight:normal">WD =  5.5 mm</text>
<text x="1158.0" y="363.6" font-size="7.5" textLength="54" lengthAdjust="spacingAndGlyphs" fill="#fff" style="font-weight:normal">Mag =  20.00 K X</text>
<text x="1240.0" y="362.0" font-size="7.5" textLength="54" lengthAdjust="spacingAndGlyphs" fill="#fff" style="font-weight:normal">Signal A = InLens</text>
<path d="M928.2 360.5v10.4M942.6 360.5v10.4M928.2 365.8H942.6" stroke="#5aa82a" stroke-width="1.6" fill="none"/>
</g>
<g id="sem2">
<rect x="1336" y="68" width="403.6" height="302.9" fill="#000"/>
<g clip-path="url(#cs2)">
<rect x="1336" y="68" width="403.6" height="282" fill="#606060"/>
<g filter="url(#b8)"><circle cx="1700" cy="150" r="45" fill="#808080"/><circle cx="1585" cy="90" r="28" fill="#545454"/><circle cx="1345" cy="200" r="25" fill="#747474"/><circle cx="1500" cy="250" r="60" fill="#606060"/><circle cx="1690" cy="215" r="30" fill="#5c5c5c"/></g>
<g filter="url(#b2)">
<path d="M1650.4 351.7L1667.0 330.4L1685.9 318.6L1709.5 298.5L1742.6 286.7L1742.6 351.7Z" fill="#f6f6f6"/>
<path d="M1688.2 351.7L1701.2 322.1L1723.7 304.4L1742.6 296.1L1742.6 351.7Z" fill="#adadad"/>
<circle cx="1350.2" cy="75.1" r="15.8" fill="url(#sg2)"/>
<circle cx="1402.2" cy="79.8" r="17.1" fill="url(#sg1)"/>
<circle cx="1437.7" cy="110.6" r="22.1" fill="url(#sg2)"/>
<circle cx="1463.7" cy="82.2" r="13.3" fill="url(#sg1)"/>
<circle cx="1482.6" cy="71.5" r="13.3" fill="url(#sg1)"/>
<circle cx="1522.8" cy="75.1" r="15.8" fill="url(#sg1)"/>
<circle cx="1510.9" cy="101.1" r="9.6" fill="url(#sg0)"/>
<circle cx="1532.2" cy="108.2" r="12.1" fill="url(#sg0)"/>
<circle cx="1572.4" cy="98.7" r="17.1" fill="url(#sg1)"/>
<circle cx="1586.6" cy="82.2" r="18.3" fill="url(#sg0)"/>
<circle cx="1631.5" cy="79.8" r="15.8" fill="url(#sg1)"/>
<circle cx="1641.0" cy="103.5" r="15.8" fill="url(#sg1)"/>
<circle cx="1659.9" cy="117.6" r="14.6" fill="url(#sg1)"/>
<circle cx="1688.2" cy="77.5" r="15.8" fill="url(#sg1)"/>
<circle cx="1685.9" cy="111.7" r="9.6" fill="url(#sg0)"/>
<circle cx="1723.7" cy="79.8" r="15.8" fill="url(#sg1)"/>
<circle cx="1719.0" cy="122.4" r="15.8" fill="url(#sg1)"/>
<circle cx="1728.4" cy="146.0" r="12.1" fill="url(#sg1)"/>
<circle cx="1371.5" cy="118.8" r="15.8" fill="url(#sg0)"/>
<circle cx="1343.1" cy="127.1" r="10.8" fill="url(#sg1)"/>
<circle cx="1410.5" cy="136.6" r="14.6" fill="url(#sg1)"/>
<circle cx="1354.9" cy="143.6" r="12.1" fill="url(#sg0)"/>
<circle cx="1458.9" cy="146.0" r="22.1" fill="url(#sg1)"/>
<circle cx="1506.2" cy="131.8" r="15.8" fill="url(#sg1)"/>
<circle cx="1544.0" cy="134.2" r="15.8" fill="url(#sg0)"/>
<circle cx="1593.7" cy="124.7" r="14.6" fill="url(#sg0)"/>
<circle cx="1607.9" cy="146.0" r="14.6" fill="url(#sg1)"/>
<circle cx="1577.1" cy="143.6" r="9.6" fill="url(#sg0)"/>
<circle cx="1700.0" cy="160.2" r="24.6" fill="url(#sg2)"/>
<circle cx="1678.8" cy="167.3" r="9.6" fill="url(#sg2)"/>
<circle cx="1389.2" cy="172.0" r="18.3" fill="url(#sg1)"/>
<circle cx="1353.7" cy="181.5" r="13.3" fill="url(#sg0)"/>
<circle cx="1430.6" cy="181.5" r="15.8" fill="url(#sg0)"/>
<circle cx="1496.7" cy="174.4" r="17.1" fill="url(#sg2)"/>
<circle cx="1454.2" cy="169.7" r="9.6" fill="url(#sg0)"/>
<circle cx="1558.2" cy="162.6" r="14.6" fill="url(#sg0)"/>
<circle cx="1586.6" cy="176.7" r="13.3" fill="url(#sg0)"/>
<circle cx="1624.4" cy="162.6" r="10.8" fill="url(#sg0)"/>
<circle cx="1650.4" cy="160.2" r="7.1" fill="url(#sg0)"/>
<circle cx="1544.0" cy="194.5" r="18.3" fill="url(#sg1)"/>
<circle cx="1636.2" cy="202.7" r="22.1" fill="url(#sg2)"/>
<circle cx="1581.9" cy="208.7" r="17.1" fill="url(#sg1)"/>
<circle cx="1604.3" cy="207.5" r="8.3" fill="url(#sg0)"/>
<circle cx="1690.6" cy="195.7" r="18.3" fill="url(#sg1)"/>
<circle cx="1723.7" cy="200.4" r="18.3" fill="url(#sg1)"/>
<circle cx="1405.7" cy="205.1" r="15.8" fill="url(#sg0)"/>
<circle cx="1443.6" cy="213.4" r="17.1" fill="url(#sg0)"/>
<circle cx="1483.7" cy="209.8" r="13.3" fill="url(#sg0)"/>
<circle cx="1518.0" cy="224.0" r="18.3" fill="url(#sg1)"/>
<circle cx="1557.0" cy="233.5" r="14.6" fill="url(#sg0)"/>
<circle cx="1376.2" cy="231.1" r="17.1" fill="url(#sg0)"/>
<circle cx="1605.5" cy="231.1" r="9.6" fill="url(#sg0)"/>
<circle cx="1690.6" cy="219.3" r="14.6" fill="url(#sg1)"/>
<circle cx="1730.8" cy="219.3" r="13.3" fill="url(#sg2)"/>
<circle cx="1338.4" cy="216.9" r="8.3" fill="url(#sg2)"/>
<circle cx="1417.6" cy="247.7" r="15.8" fill="url(#sg0)"/>
<circle cx="1464.8" cy="244.1" r="17.1" fill="url(#sg0)"/>
<circle cx="1496.7" cy="257.1" r="15.8" fill="url(#sg0)"/>
<circle cx="1347.8" cy="261.8" r="19.6" fill="url(#sg1)"/>
<circle cx="1389.2" cy="266.6" r="13.3" fill="url(#sg0)"/>
<circle cx="1536.9" cy="264.2" r="19.6" fill="url(#sg1)"/>
<circle cx="1574.8" cy="268.9" r="18.3" fill="url(#sg1)"/>
<circle cx="1622.0" cy="259.5" r="22.1" fill="url(#sg2)"/>
<circle cx="1659.9" cy="245.3" r="15.8" fill="url(#sg0)"/>
<circle cx="1695.3" cy="261.8" r="17.1" fill="url(#sg0)"/>
<circle cx="1733.1" cy="252.4" r="10.8" fill="url(#sg0)"/>
<circle cx="1440.0" cy="268.9" r="10.8" fill="url(#sg0)"/>
<circle cx="1475.5" cy="278.4" r="12.1" fill="url(#sg0)"/>
<circle cx="1506.2" cy="283.1" r="10.8" fill="url(#sg0)"/>
<circle cx="1375.0" cy="294.9" r="18.3" fill="url(#sg0)"/>
<circle cx="1417.6" cy="304.4" r="15.8" fill="url(#sg0)"/>
<circle cx="1463.7" cy="309.1" r="14.6" fill="url(#sg0)"/>
<circle cx="1494.4" cy="304.4" r="13.3" fill="url(#sg0)"/>
<circle cx="1529.8" cy="302.0" r="13.3" fill="url(#sg0)"/>
<circle cx="1560.6" cy="323.3" r="15.8" fill="url(#sg0)"/>
<circle cx="1593.7" cy="306.8" r="18.3" fill="url(#sg1)"/>
<circle cx="1636.2" cy="304.4" r="17.1" fill="url(#sg1)"/>
<circle cx="1671.7" cy="290.2" r="13.3" fill="url(#sg0)"/>
<circle cx="1655.1" cy="276.0" r="9.6" fill="url(#sg0)"/>
<circle cx="1350.2" cy="325.7" r="20.8" fill="url(#sg2)"/>
<circle cx="1389.2" cy="335.1" r="9.6" fill="url(#sg0)"/>
<circle cx="1416.4" cy="325.7" r="9.6" fill="url(#sg0)"/>
<circle cx="1447.1" cy="337.5" r="12.1" fill="url(#sg0)"/>
<circle cx="1482.6" cy="339.9" r="13.3" fill="url(#sg0)"/>
<circle cx="1515.7" cy="332.8" r="13.3" fill="url(#sg0)"/>
<circle cx="1636.2" cy="335.1" r="10.8" fill="url(#sg0)"/>
<circle cx="1667.0" cy="323.3" r="13.3" fill="url(#sg1)"/>
<circle cx="1366.7" cy="348.1" r="13.3" fill="url(#sg2)"/>
<circle cx="1600.8" cy="339.9" r="10.8" fill="url(#sg0)"/>
</g></g>
<text x="1347.6" y="358.4" font-size="7.5" textLength="22" lengthAdjust="spacingAndGlyphs" fill="#fff" style="font-weight:normal">200 nm</text>
<text x="1422.6" y="363.6" font-size="7.5" textLength="48.5" lengthAdjust="spacingAndGlyphs" fill="#fff" style="font-weight:normal">EHT =  2.00 kV</text>
<text x="1497.3" y="364.4" font-size="7.5" textLength="45" lengthAdjust="spacingAndGlyphs" fill="#fff" style="font-weight:normal">WD =  5.4 mm</text>
<text x="1578.0" y="363.6" font-size="7.5" textLength="54" lengthAdjust="spacingAndGlyphs" fill="#fff" style="font-weight:normal">Mag =  70.00 K X</text>
<text x="1660.0" y="362.0" font-size="7.5" textLength="54" lengthAdjust="spacingAndGlyphs" fill="#fff" style="font-weight:normal">Signal A = InLens</text>
<path d="M1348.2 360.5v10.4M1397.1 360.5v10.4M1348.2 365.8H1397.1" stroke="#5aa82a" stroke-width="1.6" fill="none"/>
</g>
<g clip-path="url(#ct0)">
<rect x="38.1" y="869.8" width="184.2" height="318.7" fill="url(#gb0)"/>
<path d="M63.3 864.8L68.6 1085.0L68.7 1087.3L68.7 1089.6L68.8 1091.9L69.0 1094.2L69.2 1096.4L69.5 1098.7L69.8 1101.0L70.1 1103.3L70.5 1105.6L71.0 1107.9L71.5 1110.2L72.1 1112.5L72.7 1114.8L73.4 1117.0L74.1 1119.3L75.0 1121.6L75.8 1123.9L76.8 1126.2L77.8 1128.5L78.9 1130.8L80.1 1133.1L81.3 1135.4L82.7 1137.6L84.2 1139.9L85.8 1142.2L87.5 1144.5L89.4 1146.8L91.5 1149.1L93.7 1151.4L96.2 1153.7L99.1 1156.0L102.3 1158.2L106.1 1160.5L110.7 1162.8L117.0 1165.1L134.3 1167.4L134.3 1167.4L150.9 1165.1L156.9 1162.8L161.4 1160.5L165.0 1158.2L168.1 1156.0L170.8 1153.7L173.2 1151.4L175.4 1149.1L177.4 1146.8L179.2 1144.5L180.9 1142.2L182.4 1139.9L183.8 1137.6L185.1 1135.4L186.4 1133.1L187.5 1130.8L188.5 1128.5L189.5 1126.2L190.4 1123.9L191.3 1121.6L192.0 1119.3L192.8 1117.0L193.4 1114.8L194.0 1112.5L194.6 1110.2L195.0 1107.9L195.5 1105.6L195.9 1103.3L196.2 1101.0L196.5 1098.7L196.8 1096.4L197.0 1094.2L197.1 1091.9L197.2 1089.6L197.3 1087.3L197.3 1085.0L198 864.8Z" fill="url(#gt0)" filter="url(#bt)"/>
</g>
<g clip-path="url(#ct1)">
<rect x="283.2" y="871.7" width="196.5" height="318.7" fill="url(#gb1)"/>
<path d="M308 866.7L316.8 1075.0L316.8 1077.3L316.9 1079.6L317.1 1082.0L317.2 1084.3L317.5 1086.6L317.8 1088.9L318.1 1091.3L318.6 1093.6L319.0 1095.9L319.6 1098.2L320.1 1100.5L320.8 1102.9L321.5 1105.2L322.3 1107.5L323.1 1109.8L324.1 1112.2L325.1 1114.5L326.1 1116.8L327.3 1119.1L328.5 1121.4L329.8 1123.8L331.2 1126.1L332.8 1128.4L334.4 1130.7L336.2 1133.1L338.0 1135.4L340.1 1137.7L342.3 1140.0L344.7 1142.3L347.3 1144.7L350.2 1147.0L353.5 1149.3L357.3 1151.6L361.8 1154.0L367.6 1156.3L380.5 1158.6L380.5 1158.6L392.6 1156.3L398.0 1154.0L402.2 1151.6L405.7 1149.3L408.8 1147.0L411.5 1144.7L414.0 1142.3L416.2 1140.0L418.3 1137.7L420.2 1135.4L422.0 1133.1L423.6 1130.7L425.1 1128.4L426.6 1126.1L427.9 1123.8L429.1 1121.4L430.3 1119.1L431.3 1116.8L432.3 1114.5L433.3 1112.2L434.1 1109.8L434.9 1107.5L435.7 1105.2L436.3 1102.9L436.9 1100.5L437.5 1098.2L438.0 1095.9L438.4 1093.6L438.8 1091.3L439.1 1088.9L439.4 1086.6L439.7 1084.3L439.8 1082.0L440.0 1079.6L440.0 1077.3L440.1 1075.0L440.9 866.7Z" fill="url(#gt1)" filter="url(#bt)"/>
</g>
<g clip-path="url(#ct2)">
<rect x="548.4" y="869.8" width="194.3" height="318.7" fill="url(#gb2)"/>
<path d="M573.3 864.8L579.2 1074.0L579.2 1076.4L579.3 1078.8L579.4 1081.2L579.6 1083.6L579.8 1085.9L580.1 1088.3L580.4 1090.7L580.8 1093.1L581.2 1095.5L581.7 1097.9L582.3 1100.3L582.9 1102.7L583.5 1105.1L584.2 1107.4L585.0 1109.8L585.9 1112.2L586.8 1114.6L587.8 1117.0L588.9 1119.4L590.0 1121.8L591.3 1124.2L592.6 1126.6L594.1 1128.9L595.6 1131.3L597.3 1133.7L599.2 1136.1L601.2 1138.5L603.3 1140.9L605.7 1143.3L608.4 1145.7L611.4 1148.1L614.8 1150.4L618.8 1152.8L623.7 1155.2L630.4 1157.6L648.6 1160.0L648.6 1160.0L666.5 1157.6L673.1 1155.2L677.9 1152.8L681.9 1150.4L685.2 1148.1L688.1 1145.7L690.8 1143.3L693.1 1140.9L695.2 1138.5L697.2 1136.1L699.0 1133.7L700.7 1131.3L702.2 1128.9L703.6 1126.6L704.9 1124.2L706.2 1121.8L707.3 1119.4L708.4 1117.0L709.4 1114.6L710.3 1112.2L711.1 1109.8L711.9 1107.4L712.6 1105.1L713.2 1102.7L713.8 1100.3L714.4 1097.9L714.8 1095.5L715.3 1093.1L715.6 1090.7L716.0 1088.3L716.2 1085.9L716.4 1083.6L716.6 1081.2L716.7 1078.8L716.8 1076.4L716.8 1074.0L722 864.8Z" fill="#8a8c8c" stroke="#8a8c8c" stroke-width="24" filter="url(#b8)" opacity="0.22"/>
<path d="M573.3 864.8L579.2 1074.0L579.2 1076.4L579.3 1078.8L579.4 1081.2L579.6 1083.6L579.8 1085.9L580.1 1088.3L580.4 1090.7L580.8 1093.1L581.2 1095.5L581.7 1097.9L582.3 1100.3L582.9 1102.7L583.5 1105.1L584.2 1107.4L585.0 1109.8L585.9 1112.2L586.8 1114.6L587.8 1117.0L588.9 1119.4L590.0 1121.8L591.3 1124.2L592.6 1126.6L594.1 1128.9L595.6 1131.3L597.3 1133.7L599.2 1136.1L601.2 1138.5L603.3 1140.9L605.7 1143.3L608.4 1145.7L611.4 1148.1L614.8 1150.4L618.8 1152.8L623.7 1155.2L630.4 1157.6L648.6 1160.0L648.6 1160.0L666.5 1157.6L673.1 1155.2L677.9 1152.8L681.9 1150.4L685.2 1148.1L688.1 1145.7L690.8 1143.3L693.1 1140.9L695.2 1138.5L697.2 1136.1L699.0 1133.7L700.7 1131.3L702.2 1128.9L703.6 1126.6L704.9 1124.2L706.2 1121.8L707.3 1119.4L708.4 1117.0L709.4 1114.6L710.3 1112.2L711.1 1109.8L711.9 1107.4L712.6 1105.1L713.2 1102.7L713.8 1100.3L714.4 1097.9L714.8 1095.5L715.3 1093.1L715.6 1090.7L716.0 1088.3L716.2 1085.9L716.4 1083.6L716.6 1081.2L716.7 1078.8L716.8 1076.4L716.8 1074.0L722 864.8Z" fill="url(#gt2)" filter="url(#bt2)"/>
</g>
<g clip-path="url(#ct3)">
<rect x="811.3" y="869.8" width="184.2" height="318.7" fill="url(#gb3)"/>
<path d="M836.4 864.8L839.1 1086.0L839.1 1088.2L839.2 1090.5L839.3 1092.7L839.4 1094.9L839.7 1097.1L839.9 1099.4L840.2 1101.6L840.6 1103.8L840.9 1106.0L841.4 1108.3L841.9 1110.5L842.4 1112.7L843.0 1115.0L843.7 1117.2L844.4 1119.4L845.2 1121.6L846.0 1123.9L847.0 1126.1L847.9 1128.3L849.0 1130.6L850.1 1132.8L851.4 1135.0L852.7 1137.2L854.1 1139.5L855.7 1141.7L857.4 1143.9L859.2 1146.2L861.2 1148.4L863.4 1150.6L865.8 1152.8L868.5 1155.1L871.6 1157.3L875.3 1159.5L879.8 1161.7L885.9 1164.0L902.6 1166.2L902.6 1166.2L919.5 1164.0L925.7 1161.7L930.3 1159.5L934.0 1157.3L937.2 1155.1L939.9 1152.8L942.4 1150.6L944.6 1148.4L946.6 1146.2L948.5 1143.9L950.2 1141.7L951.8 1139.5L953.2 1137.2L954.6 1135.0L955.8 1132.8L957.0 1130.6L958.0 1128.3L959.0 1126.1L960.0 1123.9L960.8 1121.6L961.6 1119.4L962.3 1117.2L963.0 1115.0L963.6 1112.7L964.2 1110.5L964.7 1108.3L965.1 1106.0L965.5 1103.8L965.9 1101.6L966.2 1099.4L966.4 1097.1L966.7 1094.9L966.8 1092.7L966.9 1090.5L967.0 1088.2L967.0 1086.0L972.4 864.8Z" fill="url(#gt3)" filter="url(#bt)"/>
</g>
<g clip-path="url(#ct4)">
<rect x="1062.3" y="869.8" width="184.2" height="318.7" fill="url(#gb4)"/>
<path d="M1080.5 864.8L1084.5 1083.4L1084.5 1085.8L1084.6 1088.3L1084.7 1090.7L1084.9 1093.2L1085.1 1095.6L1085.4 1098.0L1085.7 1100.5L1086.1 1102.9L1086.5 1105.4L1087.0 1107.8L1087.5 1110.2L1088.1 1112.7L1088.7 1115.1L1089.5 1117.5L1090.2 1120.0L1091.1 1122.4L1092.0 1124.9L1093.0 1127.3L1094.0 1129.7L1095.2 1132.2L1096.4 1134.6L1097.7 1137.1L1099.2 1139.5L1100.7 1141.9L1102.4 1144.4L1104.2 1146.8L1106.2 1149.2L1108.3 1151.7L1110.7 1154.1L1113.3 1156.6L1116.2 1159.0L1119.6 1161.4L1123.5 1163.9L1128.4 1166.3L1135.0 1168.8L1153.0 1171.2L1153.0 1171.2L1172.0 1168.8L1178.9 1166.3L1184.0 1163.9L1188.2 1161.4L1191.7 1159.0L1194.8 1156.6L1197.5 1154.1L1200.0 1151.7L1202.3 1149.2L1204.3 1146.8L1206.3 1144.4L1208.0 1141.9L1209.6 1139.5L1211.1 1137.1L1212.5 1134.6L1213.8 1132.2L1215.0 1129.7L1216.1 1127.3L1217.2 1124.9L1218.1 1122.4L1219.0 1120.0L1219.8 1117.5L1220.6 1115.1L1221.3 1112.7L1221.9 1110.2L1222.5 1107.8L1223.0 1105.4L1223.4 1102.9L1223.8 1100.5L1224.2 1098.0L1224.4 1095.6L1224.7 1093.2L1224.9 1090.7L1225.0 1088.3L1225.1 1085.8L1225.1 1083.4L1230.3 864.8Z" fill="#8a8c8c" stroke="#8a8c8c" stroke-width="24" filter="url(#b8)" opacity="0.22"/>
<path d="M1080.5 864.8L1084.5 1083.4L1084.5 1085.8L1084.6 1088.3L1084.7 1090.7L1084.9 1093.2L1085.1 1095.6L1085.4 1098.0L1085.7 1100.5L1086.1 1102.9L1086.5 1105.4L1087.0 1107.8L1087.5 1110.2L1088.1 1112.7L1088.7 1115.1L1089.5 1117.5L1090.2 1120.0L1091.1 1122.4L1092.0 1124.9L1093.0 1127.3L1094.0 1129.7L1095.2 1132.2L1096.4 1134.6L1097.7 1137.1L1099.2 1139.5L1100.7 1141.9L1102.4 1144.4L1104.2 1146.8L1106.2 1149.2L1108.3 1151.7L1110.7 1154.1L1113.3 1156.6L1116.2 1159.0L1119.6 1161.4L1123.5 1163.9L1128.4 1166.3L1135.0 1168.8L1153.0 1171.2L1153.0 1171.2L1172.0 1168.8L1178.9 1166.3L1184.0 1163.9L1188.2 1161.4L1191.7 1159.0L1194.8 1156.6L1197.5 1154.1L1200.0 1151.7L1202.3 1149.2L1204.3 1146.8L1206.3 1144.4L1208.0 1141.9L1209.6 1139.5L1211.1 1137.1L1212.5 1134.6L1213.8 1132.2L1215.0 1129.7L1216.1 1127.3L1217.2 1124.9L1218.1 1122.4L1219.0 1120.0L1219.8 1117.5L1220.6 1115.1L1221.3 1112.7L1221.9 1110.2L1222.5 1107.8L1223.0 1105.4L1223.4 1102.9L1223.8 1100.5L1224.2 1098.0L1224.4 1095.6L1224.7 1093.2L1224.9 1090.7L1225.0 1088.3L1225.1 1085.8L1225.1 1083.4L1230.3 864.8Z" fill="url(#gt4)" filter="url(#bt2)"/>
</g>
<g clip-path="url(#ct5)">
<rect x="1313.5" y="869.8" width="194.1" height="318.4" fill="url(#gb5)"/>
<path d="M1334.4 864.8L1340.9 1100.0L1341.0 1102.1L1341.1 1104.2L1341.2 1106.2L1341.4 1108.3L1341.7 1110.4L1342.1 1112.5L1342.5 1114.6L1343.0 1116.6L1343.5 1118.7L1344.1 1120.8L1344.8 1122.9L1345.6 1125.0L1346.4 1127.0L1347.3 1129.1L1348.3 1131.2L1349.3 1133.3L1350.5 1135.4L1351.7 1137.5L1353.0 1139.5L1354.4 1141.6L1356.0 1143.7L1357.6 1145.8L1359.3 1147.9L1361.2 1149.9L1363.2 1152.0L1365.3 1154.1L1367.6 1156.2L1370.1 1158.3L1372.8 1160.3L1375.8 1162.4L1379.0 1164.5L1382.7 1166.6L1386.8 1168.7L1391.7 1170.7L1398.0 1172.8L1411.0 1174.9L1411.0 1174.9L1423.7 1172.8L1429.9 1170.7L1434.7 1168.7L1438.7 1166.6L1442.3 1164.5L1445.5 1162.4L1448.4 1160.3L1451.0 1158.3L1453.5 1156.2L1455.8 1154.1L1457.8 1152.0L1459.8 1149.9L1461.6 1147.9L1463.3 1145.8L1464.9 1143.7L1466.4 1141.6L1467.8 1139.5L1469.1 1137.5L1470.3 1135.4L1471.4 1133.3L1472.4 1131.2L1473.4 1129.1L1474.3 1127.0L1475.1 1125.0L1475.8 1122.9L1476.5 1120.8L1477.1 1118.7L1477.6 1116.6L1478.1 1114.6L1478.5 1112.5L1478.9 1110.4L1479.1 1108.3L1479.4 1106.2L1479.5 1104.2L1479.6 1102.1L1479.6 1100.0L1483.2 864.8Z" fill="url(#gt5)" filter="url(#bt)"/>
</g>
<g clip-path="url(#ct6)">
<rect x="1574.8" y="869.8" width="193.6" height="318.4" fill="url(#gb6)"/>
<path d="M1598.4 864.8L1605.3 1085.0L1605.3 1087.3L1605.4 1089.6L1605.6 1092.0L1605.8 1094.3L1606.0 1096.6L1606.4 1098.9L1606.8 1101.2L1607.2 1103.5L1607.7 1105.8L1608.3 1108.2L1608.9 1110.5L1609.6 1112.8L1610.4 1115.1L1611.2 1117.4L1612.2 1119.8L1613.1 1122.1L1614.2 1124.4L1615.4 1126.7L1616.6 1129.0L1617.9 1131.3L1619.4 1133.7L1620.9 1136.0L1622.5 1138.3L1624.3 1140.6L1626.2 1142.9L1628.2 1145.2L1630.4 1147.6L1632.8 1149.9L1635.4 1152.2L1638.2 1154.5L1641.4 1156.8L1644.9 1159.1L1649.0 1161.5L1653.8 1163.8L1660.1 1166.1L1674.0 1168.4L1674.0 1168.4L1687.2 1166.1L1693.2 1163.8L1697.8 1161.5L1701.6 1159.1L1705.0 1156.8L1707.9 1154.5L1710.6 1152.2L1713.1 1149.9L1715.3 1147.6L1717.4 1145.2L1719.4 1142.9L1721.2 1140.6L1722.8 1138.3L1724.4 1136.0L1725.8 1133.7L1727.2 1131.3L1728.4 1129.0L1729.6 1126.7L1730.7 1124.4L1731.7 1122.1L1732.7 1119.8L1733.5 1117.4L1734.3 1115.1L1735.1 1112.8L1735.7 1110.5L1736.3 1108.2L1736.9 1105.8L1737.4 1103.5L1737.8 1101.2L1738.2 1098.9L1738.5 1096.6L1738.7 1094.3L1738.9 1092.0L1739.0 1089.6L1739.1 1087.3L1739.2 1085.0L1741.9 864.8Z" fill="url(#gt6)" filter="url(#bt)"/>
</g>
<g id="panelA">
<text x="0" y="0" transform="translate(3.00,37.00) scale(1.06,1)" font-size="46.5" text-anchor="start" fill="#000" >A</text>
<line x1="93.50" y1="299.50" x2="102.50" y2="299.50" stroke="#000" stroke-width="2.2" stroke-linecap="butt"/>
<text x="90.20" y="308.69" font-size="27.2" text-anchor="end" fill="#000" >0</text>
<line x1="93.50" y1="230.33" x2="102.50" y2="230.33" stroke="#000" stroke-width="2.2" stroke-linecap="butt"/>
<text x="90.20" y="239.52" font-size="27.2" text-anchor="end" fill="#000" >5</text>
<line x1="93.50" y1="161.16" x2="102.50" y2="161.16" stroke="#000" stroke-width="2.2" stroke-linecap="butt"/>
<text x="90.20" y="170.35" font-size="27.2" text-anchor="end" fill="#000" >10</text>
<line x1="93.50" y1="91.99" x2="102.50" y2="91.99" stroke="#000" stroke-width="2.2" stroke-linecap="butt"/>
<text x="90.20" y="101.18" font-size="27.2" text-anchor="end" fill="#000" >15</text>
<line x1="102.50" y1="299.50" x2="102.50" y2="308.50" stroke="#000" stroke-width="2.2" stroke-linecap="butt"/>
<text x="102.50" y="337.30" font-size="29" text-anchor="middle" fill="#000" >0</text>
<line x1="169.50" y1="299.50" x2="169.50" y2="308.50" stroke="#000" stroke-width="2.2" stroke-linecap="butt"/>
<text x="169.50" y="337.30" font-size="29" text-anchor="middle" fill="#000" >200</text>
<line x1="236.50" y1="299.50" x2="236.50" y2="308.50" stroke="#000" stroke-width="2.2" stroke-linecap="butt"/>
<text x="236.50" y="337.30" font-size="29" text-anchor="middle" fill="#000" >400</text>
<line x1="303.50" y1="299.50" x2="303.50" y2="308.50" stroke="#000" stroke-width="2.2" stroke-linecap="butt"/>
<text x="303.50" y="337.30" font-size="29" text-anchor="middle" fill="#000" >600</text>
<line x1="370.50" y1="299.50" x2="370.50" y2="308.50" stroke="#000" stroke-width="2.2" stroke-linecap="butt"/>
<text x="370.50" y="337.30" font-size="29" text-anchor="middle" fill="#000" >800</text>
<line x1="437.50" y1="299.50" x2="437.50" y2="308.50" stroke="#000" stroke-width="2.2" stroke-linecap="butt"/>
<text x="437.50" y="337.30" font-size="29" text-anchor="middle" fill="#000" >1000</text>
<text x="269.50" y="374.00" font-size="28.4" text-anchor="middle" fill="#000" >DSP Size (nm)</text>
<text x="0" y="0" transform="translate(48.80,188.50) rotate(-90)" font-size="28.3" text-anchor="middle" fill="#000" >Intensity (%)</text>
<polyline points="102.50,299.50 113.50,299.50 116.50,292.00 120.00,262.00 125.00,225.00 128.75,200.00 132.50,180.00 137.50,160.00 143.00,149.25 149.50,146.25 157.00,153.00 165.00,167.50 175.00,190.00 187.50,217.50 201.25,242.50 217.50,267.00 235.00,284.50 255.00,295.00 267.00,297.50 280.00,299.50 437.50,299.50" fill="none" stroke="#e04040" stroke-width="2" stroke-linejoin="round" />
<g opacity="0.82">
<line x1="93.50" y1="299.50" x2="438.60" y2="299.50" stroke="#000" stroke-width="2.2" stroke-linecap="butt"/>
</g>
<line x1="102.50" y1="90.90" x2="102.50" y2="300.60" stroke="#000" stroke-width="2.2" stroke-linecap="butt"/>
</g>
<g id="panelB">
<text x="0" y="0" transform="translate(436.30,36.00) scale(1.06,1)" font-size="46.5" text-anchor="start" fill="#000" >B</text>
<rect x="614.50" y="148.00" width="38.00" height="202.50" fill="#d80000"/>
<line x1="633.50" y1="148.00" x2="633.50" y2="119.00" stroke="#d80000" stroke-width="2" stroke-linecap="butt"/>
<line x1="624.20" y1="119.00" x2="642.80" y2="119.00" stroke="#d80000" stroke-width="2" stroke-linecap="butt"/>
<rect x="711.75" y="90.40" width="36.50" height="176.60" fill="#4242f5" stroke="#2a2aff" stroke-width="1.2"/>
<line x1="730.00" y1="267.00" x2="730.00" y2="278.00" stroke="#2a2aff" stroke-width="2" stroke-linecap="butt"/>
<line x1="720.30" y1="278.00" x2="739.50" y2="278.00" stroke="#2a2aff" stroke-width="2" stroke-linecap="butt"/>
<line x1="595.00" y1="90.40" x2="595.00" y2="350.50" stroke="#000" stroke-width="2.6" stroke-linecap="butt"/>
<line x1="769.25" y1="90.40" x2="769.25" y2="350.50" stroke="#000" stroke-width="2.6" stroke-linecap="butt"/>
<line x1="584.50" y1="90.40" x2="776.50" y2="90.40" stroke="#000" stroke-width="2.6" stroke-linecap="butt"/>
<line x1="584.50" y1="350.50" x2="776.50" y2="350.50" stroke="#000" stroke-width="2.6" stroke-linecap="butt"/>
<line x1="584.50" y1="90.40" x2="595.00" y2="90.40" stroke="#000" stroke-width="2.6" stroke-linecap="butt"/>
<line x1="769.25" y1="90.40" x2="776.50" y2="90.40" stroke="#000" stroke-width="2.6" stroke-linecap="butt"/>
<text x="581.50" y="100.34" font-size="29.4" text-anchor="end" fill="#000" >0.20</text>
<text x="0" y="0" transform="translate(781.60,100.34) scale(1.025,1)" font-size="29.4" text-anchor="start" fill="#000" >0</text>
<line x1="584.50" y1="155.43" x2="595.00" y2="155.43" stroke="#000" stroke-width="2.6" stroke-linecap="butt"/>
<line x1="769.25" y1="155.43" x2="776.50" y2="155.43" stroke="#000" stroke-width="2.6" stroke-linecap="butt"/>
<text x="581.50" y="165.36" font-size="29.4" text-anchor="end" fill="#000" >0.15</text>
<text x="0" y="0" transform="translate(781.60,165.36) scale(1.025,1)" font-size="29.4" text-anchor="start" fill="#000" >-10</text>
<line x1="584.50" y1="220.45" x2="595.00" y2="220.45" stroke="#000" stroke-width="2.6" stroke-linecap="butt"/>
<line x1="769.25" y1="220.45" x2="776.50" y2="220.45" stroke="#000" stroke-width="2.6" stroke-linecap="butt"/>
<text x="581.50" y="230.39" font-size="29.4" text-anchor="end" fill="#000" >0.10</text>
<text x="0" y="0" transform="translate(781.60,230.39) scale(1.025,1)" font-size="29.4" text-anchor="start" fill="#000" >-20</text>
<line x1="584.50" y1="285.48" x2="595.00" y2="285.48" stroke="#000" stroke-width="2.6" stroke-linecap="butt"/>
<line x1="769.25" y1="285.48" x2="776.50" y2="285.48" stroke="#000" stroke-width="2.6" stroke-linecap="butt"/>
<text x="581.50" y="295.41" font-size="29.4" text-anchor="end" fill="#000" >0.05</text>
<text x="0" y="0" transform="translate(781.60,295.41) scale(1.025,1)" font-size="29.4" text-anchor="start" fill="#000" >-30</text>
<line x1="584.50" y1="350.50" x2="595.00" y2="350.50" stroke="#000" stroke-width="2.6" stroke-linecap="butt"/>
<line x1="769.25" y1="350.50" x2="776.50" y2="350.50" stroke="#000" stroke-width="2.6" stroke-linecap="butt"/>
<text x="581.50" y="360.44" font-size="29.4" text-anchor="end" fill="#000" >0.00</text>
<text x="0" y="0" transform="translate(781.60,360.44) scale(1.025,1)" font-size="29.4" text-anchor="start" fill="#000" >-40</text>
<text x="0" y="0" transform="translate(504.00,215.60) rotate(-90)" font-size="29.2" text-anchor="middle" fill="#000" >PDI</text>
<text x="0" y="0" transform="translate(856.80,221.20) rotate(-90)" font-size="29.4" text-anchor="middle" fill="#000" >Zeta potential (mv)</text>
<text x="687.50" y="390.00" font-size="29.4" text-anchor="middle" fill="#000" >DSP</text>
<rect x="596.25" y="59.50" width="27.50" height="16.75" fill="#d80000"/>
<text x="640.80" y="76.30" font-size="25" text-anchor="start" fill="#000" >PDI</text>
<rect x="689.75" y="60.00" width="26.50" height="15.75" fill="#4242f5" stroke="#2a2aff" stroke-width="1.2"/>
<text x="732.80" y="76.30" font-size="25" text-anchor="start" fill="#000" >Zeta</text>
</g>
<g id="panelC">
<text x="0" y="0" transform="translate(878.50,36.50) scale(1.02,1)" font-size="50" text-anchor="start" fill="#000" >C</text>
</g>
<g id="panelD">
<text x="0" y="0" transform="translate(2.50,455.00) scale(1.06,1)" font-size="46.5" text-anchor="start" fill="#000" >D</text>
<rect x="225.50" y="502.50" width="88.75" height="231.75" fill="#dc6490"/>
<line x1="269.75" y1="502.50" x2="269.75" y2="500.20" stroke="#dc6490" stroke-width="1.4" stroke-linecap="butt"/>
<line x1="247.50" y1="500.20" x2="292.00" y2="500.20" stroke="#dc6490" stroke-width="1.4" stroke-linecap="butt"/>
<line x1="181.25" y1="464.65" x2="181.25" y2="735.85" stroke="#000" stroke-width="3.2" stroke-linecap="butt"/>
<line x1="169.50" y1="734.25" x2="360.50" y2="734.25" stroke="#000" stroke-width="3.2" stroke-linecap="butt"/>
<line x1="169.50" y1="466.25" x2="181.25" y2="466.25" stroke="#000" stroke-width="3.2" stroke-linecap="butt"/>
<text x="165.30" y="476.22" font-size="29.5" text-anchor="end" fill="#000" >100</text>
<line x1="169.50" y1="600.25" x2="181.25" y2="600.25" stroke="#000" stroke-width="3.2" stroke-linecap="butt"/>
<text x="165.30" y="610.22" font-size="29.5" text-anchor="end" fill="#000" >95</text>
<line x1="169.50" y1="734.25" x2="181.25" y2="734.25" stroke="#000" stroke-width="3.2" stroke-linecap="butt"/>
<text x="165.30" y="744.22" font-size="29.5" text-anchor="end" fill="#000" >90</text>
<line x1="269.25" y1="734.25" x2="269.25" y2="745.75" stroke="#000" stroke-width="3.2" stroke-linecap="butt"/>
<text x="269.60" y="784.50" font-size="30.3" text-anchor="middle" fill="#000" >DSP</text>
<text x="0" y="0" transform="translate(103.00,595.00) rotate(-90)" font-size="30" text-anchor="middle" fill="#000" >Loading efficiency(%)</text>
</g>
<g id="panelE">
<text x="0" y="0" transform="translate(436.80,451.25) scale(1.06,1)" font-size="46.5" text-anchor="start" fill="#000" >E</text>
<polyline points="608.00,670.00 647.50,641.50 687.00,611.50 726.50,562.60 766.00,503.80 805.50,485.50 845.00,465.50" fill="none" stroke="#df5f96" stroke-width="1.7" stroke-linejoin="round" />
<line x1="608.00" y1="670.00" x2="608.00" y2="657.30" stroke="#df5f96" stroke-width="1.5" stroke-linecap="butt"/>
<line x1="602.50" y1="657.30" x2="613.50" y2="657.30" stroke="#df5f96" stroke-width="1.5" stroke-linecap="butt"/>
<line x1="647.50" y1="641.50" x2="647.50" y2="628.40" stroke="#df5f96" stroke-width="1.5" stroke-linecap="butt"/>
<line x1="642.00" y1="628.40" x2="653.00" y2="628.40" stroke="#df5f96" stroke-width="1.5" stroke-linecap="butt"/>
<line x1="687.00" y1="611.50" x2="687.00" y2="601.30" stroke="#df5f96" stroke-width="1.5" stroke-linecap="butt"/>
<line x1="681.50" y1="601.30" x2="692.50" y2="601.30" stroke="#df5f96" stroke-width="1.5" stroke-linecap="butt"/>
<ellipse cx="608.00" cy="670.00" rx="5.6" ry="5" fill="#df5f96"/>
<ellipse cx="647.50" cy="641.50" rx="5.6" ry="5" fill="#df5f96"/>
<ellipse cx="687.00" cy="611.50" rx="5.6" ry="5" fill="#df5f96"/>
<ellipse cx="726.50" cy="562.60" rx="5.6" ry="5" fill="#df5f96"/>
<ellipse cx="766.00" cy="503.80" rx="5.6" ry="5" fill="#df5f96"/>
<ellipse cx="805.50" cy="485.50" rx="5.6" ry="5" fill="#df5f96"/>
<ellipse cx="845.00" cy="465.50" rx="5.6" ry="5" fill="#df5f96"/>
<line x1="589.25" y1="461.75" x2="589.25" y2="710.25" stroke="#000" stroke-width="2.5" stroke-linecap="butt"/>
<line x1="578.00" y1="709.00" x2="866.25" y2="709.00" stroke="#000" stroke-width="2.5" stroke-linecap="butt"/>
<line x1="578.00" y1="709.00" x2="589.25" y2="709.00" stroke="#000" stroke-width="2.5" stroke-linecap="butt"/>
<text x="0" y="0" transform="translate(575.30,718.40) scale(1.25,1)" font-size="27.8" text-anchor="end" fill="#000" >0</text>
<line x1="578.00" y1="659.80" x2="589.25" y2="659.80" stroke="#000" stroke-width="2.5" stroke-linecap="butt"/>
<text x="0" y="0" transform="translate(575.30,669.20) scale(1.25,1)" font-size="27.8" text-anchor="end" fill="#000" >20</text>
<line x1="578.00" y1="610.60" x2="589.25" y2="610.60" stroke="#000" stroke-width="2.5" stroke-linecap="butt"/>
<text x="0" y="0" transform="translate(575.30,620.00) scale(1.25,1)" font-size="27.8" text-anchor="end" fill="#000" >40</text>
<line x1="578.00" y1="561.40" x2="589.25" y2="561.40" stroke="#000" stroke-width="2.5" stroke-linecap="butt"/>
<text x="0" y="0" transform="translate(575.30,570.80) scale(1.25,1)" font-size="27.8" text-anchor="end" fill="#000" >60</text>
<line x1="578.00" y1="512.20" x2="589.25" y2="512.20" stroke="#000" stroke-width="2.5" stroke-linecap="butt"/>
<text x="0" y="0" transform="translate(575.30,521.60) scale(1.25,1)" font-size="27.8" text-anchor="end" fill="#000" >80</text>
<line x1="578.00" y1="463.00" x2="589.25" y2="463.00" stroke="#000" stroke-width="2.5" stroke-linecap="butt"/>
<text x="0" y="0" transform="translate(575.30,472.40) scale(1.25,1)" font-size="27.8" text-anchor="end" fill="#000" >100</text>
<line x1="608.00" y1="709.00" x2="608.00" y2="718.75" stroke="#000" stroke-width="2.5" stroke-linecap="butt"/>
<text x="0" y="0" transform="translate(608.00,750.00) scale(1.15,1)" font-size="27.8" text-anchor="middle" fill="#000" >0</text>
<line x1="647.50" y1="709.00" x2="647.50" y2="718.75" stroke="#000" stroke-width="2.5" stroke-linecap="butt"/>
<text x="0" y="0" transform="translate(647.50,750.00) scale(1.15,1)" font-size="27.8" text-anchor="middle" fill="#000" >7</text>
<line x1="687.00" y1="709.00" x2="687.00" y2="718.75" stroke="#000" stroke-width="2.5" stroke-linecap="butt"/>
<text x="0" y="0" transform="translate(687.00,750.00) scale(1.15,1)" font-size="27.8" text-anchor="middle" fill="#000" >14</text>
<line x1="726.50" y1="709.00" x2="726.50" y2="718.75" stroke="#000" stroke-width="2.5" stroke-linecap="butt"/>
<text x="0" y="0" transform="translate(726.50,750.00) scale(1.15,1)" font-size="27.8" text-anchor="middle" fill="#000" >21</text>
<line x1="766.00" y1="709.00" x2="766.00" y2="718.75" stroke="#000" stroke-width="2.5" stroke-linecap="butt"/>
<text x="0" y="0" transform="translate(766.00,750.00) scale(1.15,1)" font-size="27.8" text-anchor="middle" fill="#000" >28</text>
<line x1="805.50" y1="709.00" x2="805.50" y2="718.75" stroke="#000" stroke-width="2.5" stroke-linecap="butt"/>
<text x="0" y="0" transform="translate(805.50,750.00) scale(1.15,1)" font-size="27.8" text-anchor="middle" fill="#000" >35</text>
<line x1="845.00" y1="709.00" x2="845.00" y2="718.75" stroke="#000" stroke-width="2.5" stroke-linecap="butt"/>
<text x="0" y="0" transform="translate(845.00,750.00) scale(1.15,1)" font-size="27.8" text-anchor="middle" fill="#000" >42</text>
<text x="0" y="0" transform="translate(726.50,795.00) scale(1.15,1)" font-size="28.5" text-anchor="middle" fill="#000" >Days</text>
<text x="0" y="0" transform="translate(507.60,578.60) rotate(-90) scale(1,1.17)" font-size="29.8" text-anchor="middle" fill="#000" >Cumulative release (%)</text>
</g>
<g id="panelF">
<text x="0" y="0" transform="translate(885.70,457.40) scale(1.06,1)" font-size="46.5" text-anchor="start" fill="#000" >F</text>
<polyline points="940.50,713.25 960.00,713.25 965.00,697.50 970.00,677.50 975.00,660.00 981.25,643.75 987.50,635.50 997.00,630.50 1005.00,631.25 1015.00,635.50 1025.00,641.25 1040.00,652.50 1057.50,663.75 1075.00,673.00 1097.50,683.00 1120.00,691.50 1147.50,699.00 1182.50,705.50 1215.00,709.25 1247.50,711.50 1278.75,712.50" fill="none" stroke="#8000ff" stroke-width="1.9" stroke-linejoin="round" />
<polyline points="940.50,713.25 952.50,713.25 955.00,702.50 958.75,700.00 962.50,703.75 965.00,711.25 967.50,713.25 977.50,713.25 981.25,708.75 987.50,692.50 995.00,665.00 1005.00,627.50 1015.00,595.00 1027.00,579.50 1040.00,583.75 1057.50,605.00 1075.00,640.00 1096.25,675.00 1120.00,701.25 1137.50,708.75 1147.50,712.50 1155.00,713.25 1278.75,713.25" fill="none" stroke="#e8608c" stroke-width="1.9" stroke-linejoin="round" />
<polyline points="940.50,713.25 966.25,713.25 971.25,700.00 976.25,677.50 982.50,652.50 990.00,627.50 997.50,610.00 1005.00,600.50 1013.00,599.50 1025.00,610.00 1040.00,630.00 1057.50,653.00 1075.00,673.75 1097.50,693.75 1120.00,706.25 1147.50,712.50 1160.00,713.25 1278.75,713.25" fill="none" stroke="#e8800c" stroke-width="1.9" stroke-linejoin="round" />
<polyline points="940.50,713.25 965.00,713.25 968.75,705.00 972.50,680.00 976.25,637.50 981.25,587.50 988.00,540.75 995.75,533.50 1005.00,567.50 1015.00,620.00 1026.25,675.00 1040.00,708.75 1052.50,713.25 1278.75,713.25" fill="none" stroke="#a07020" stroke-width="1.9" stroke-linejoin="round" />
<polyline points="940.50,713.25 956.25,713.25 960.00,702.50 965.00,675.00 970.00,650.00 975.00,630.00 980.00,615.00 982.50,613.00 988.75,610.50 996.25,616.25 1005.00,628.75 1015.00,645.00 1025.00,660.00 1040.00,678.75 1057.50,692.50 1075.00,703.00 1097.50,710.00 1112.50,712.50 1125.00,713.25 1278.75,713.25" fill="none" stroke="#60c820" stroke-width="1.9" stroke-linejoin="round" />
<polyline points="940.50,713.25 958.75,713.25 962.50,705.00 967.50,675.00 972.50,642.50 977.50,615.00 981.75,597.50 988.75,587.50 996.25,592.50 1005.00,610.00 1015.00,635.00 1025.00,660.00 1040.00,692.50 1056.25,708.00 1072.50,712.50 1085.00,713.25 1278.75,713.25" fill="none" stroke="#e01020" stroke-width="1.9" stroke-linejoin="round" />
<polyline points="940.50,713.25 952.50,713.25 956.25,705.00 962.50,675.00 967.50,655.00 972.50,640.00 977.50,628.75 982.50,622.50 988.75,620.75 996.25,625.00 1005.00,635.00 1015.00,650.00 1025.00,662.50 1040.00,680.00 1057.50,694.50 1075.00,704.50 1097.50,711.25 1110.00,713.00 1278.75,713.25" fill="none" stroke="#1a1aff" stroke-width="1.9" stroke-linejoin="round" />
<g opacity="0.82">
<line x1="931.00" y1="713.25" x2="1280.00" y2="713.25" stroke="#000" stroke-width="2.4" stroke-linecap="butt"/>
</g>
<line x1="940.50" y1="503.30" x2="940.50" y2="714.45" stroke="#000" stroke-width="2.4" stroke-linecap="butt"/>
<line x1="931.00" y1="713.25" x2="940.50" y2="713.25" stroke="#000" stroke-width="2.4" stroke-linecap="butt"/>
<text x="928.00" y="722.71" font-size="28" text-anchor="end" fill="#000" >0</text>
<line x1="931.00" y1="671.50" x2="940.50" y2="671.50" stroke="#000" stroke-width="2.4" stroke-linecap="butt"/>
<text x="928.00" y="680.96" font-size="28" text-anchor="end" fill="#000" >5</text>
<line x1="931.00" y1="629.75" x2="940.50" y2="629.75" stroke="#000" stroke-width="2.4" stroke-linecap="butt"/>
<text x="928.00" y="639.21" font-size="28" text-anchor="end" fill="#000" >10</text>
<line x1="931.00" y1="588.00" x2="940.50" y2="588.00" stroke="#000" stroke-width="2.4" stroke-linecap="butt"/>
<text x="928.00" y="597.46" font-size="28" text-anchor="end" fill="#000" >15</text>
<line x1="931.00" y1="546.25" x2="940.50" y2="546.25" stroke="#000" stroke-width="2.4" stroke-linecap="butt"/>
<text x="928.00" y="555.71" font-size="28" text-anchor="end" fill="#000" >20</text>
<line x1="931.00" y1="504.50" x2="940.50" y2="504.50" stroke="#000" stroke-width="2.4" stroke-linecap="butt"/>
<text x="928.00" y="513.96" font-size="28" text-anchor="end" fill="#000" >25</text>
<line x1="940.50" y1="713.25" x2="940.50" y2="722.75" stroke="#000" stroke-width="2.4" stroke-linecap="butt"/>
<text x="940.50" y="752.30" font-size="28.5" text-anchor="middle" fill="#000" >0</text>
<line x1="1109.60" y1="713.25" x2="1109.60" y2="722.75" stroke="#000" stroke-width="2.4" stroke-linecap="butt"/>
<text x="1109.60" y="752.30" font-size="28.5" text-anchor="middle" fill="#000" >500</text>
<line x1="1278.70" y1="713.25" x2="1278.70" y2="722.75" stroke="#000" stroke-width="2.4" stroke-linecap="butt"/>
<text x="1278.70" y="752.30" font-size="28.5" text-anchor="middle" fill="#000" >1000</text>
<text x="1110.00" y="791.40" font-size="28.3" text-anchor="middle" fill="#000" >DSP Size (nm)</text>
<text x="0" y="0" transform="translate(886.40,602.00) rotate(-90)" font-size="28.3" text-anchor="middle" fill="#000" >Intensity (%)</text>
<line x1="1147.70" y1="489.70" x2="1170.00" y2="489.70" stroke="#1a1aff" stroke-width="1.9" stroke-linecap="butt"/>
<text x="1183.00" y="497.50" font-size="22" text-anchor="start" fill="#000" letter-spacing="1" >0 Day</text>
<line x1="1147.70" y1="509.35" x2="1170.00" y2="509.35" stroke="#e01020" stroke-width="1.9" stroke-linecap="butt"/>
<text x="1183.00" y="517.17" font-size="22" text-anchor="start" fill="#000" letter-spacing="1" >7 Day</text>
<line x1="1147.70" y1="529.00" x2="1170.00" y2="529.00" stroke="#60c820" stroke-width="1.9" stroke-linecap="butt"/>
<text x="1183.00" y="536.84" font-size="22" text-anchor="start" fill="#000" letter-spacing="1" >14 Day</text>
<line x1="1147.70" y1="548.65" x2="1170.00" y2="548.65" stroke="#8000ff" stroke-width="1.9" stroke-linecap="butt"/>
<text x="1183.00" y="556.51" font-size="22" text-anchor="start" fill="#000" letter-spacing="1" >21 Day</text>
<line x1="1147.70" y1="568.30" x2="1170.00" y2="568.30" stroke="#e8800c" stroke-width="1.9" stroke-linecap="butt"/>
<text x="1183.00" y="576.18" font-size="22" text-anchor="start" fill="#000" letter-spacing="1" >28 Day</text>
<line x1="1147.70" y1="587.95" x2="1170.00" y2="587.95" stroke="#e8608c" stroke-width="1.9" stroke-linecap="butt"/>
<text x="1183.00" y="595.85" font-size="22" text-anchor="start" fill="#000" letter-spacing="1" >35 Day</text>
<line x1="1147.70" y1="607.60" x2="1170.00" y2="607.60" stroke="#a07020" stroke-width="1.9" stroke-linecap="butt"/>
<text x="1183.00" y="615.52" font-size="22" text-anchor="start" fill="#000" letter-spacing="1" >42 Day</text>
</g>
<g id="panelG">
<text x="0" y="0" transform="translate(1295.30,456.30) scale(1.06,1)" font-size="46.5" text-anchor="start" fill="#000" >G</text>
<polyline points="1391.00,625.00 1431.04,610.00 1471.08,570.00 1511.12,583.75 1551.16,617.00 1591.20,580.75 1631.24,554.75" fill="none" stroke="#e01010" stroke-width="1.5" stroke-linejoin="round" />
<line x1="1391.00" y1="625.00" x2="1391.00" y2="612.50" stroke="#e01010" stroke-width="1.4" stroke-linecap="butt"/>
<line x1="1386.50" y1="612.50" x2="1395.50" y2="612.50" stroke="#e01010" stroke-width="1.4" stroke-linecap="butt"/>
<line x1="1431.04" y1="610.00" x2="1431.04" y2="605.00" stroke="#e01010" stroke-width="1.4" stroke-linecap="butt"/>
<line x1="1426.54" y1="605.00" x2="1435.54" y2="605.00" stroke="#e01010" stroke-width="1.4" stroke-linecap="butt"/>
<line x1="1471.08" y1="570.00" x2="1471.08" y2="532.00" stroke="#e01010" stroke-width="1.4" stroke-linecap="butt"/>
<line x1="1466.58" y1="532.00" x2="1475.58" y2="532.00" stroke="#e01010" stroke-width="1.4" stroke-linecap="butt"/>
<line x1="1511.12" y1="583.75" x2="1511.12" y2="566.75" stroke="#e01010" stroke-width="1.4" stroke-linecap="butt"/>
<line x1="1506.62" y1="566.75" x2="1515.62" y2="566.75" stroke="#e01010" stroke-width="1.4" stroke-linecap="butt"/>
<line x1="1551.16" y1="617.00" x2="1551.16" y2="577.00" stroke="#e01010" stroke-width="1.4" stroke-linecap="butt"/>
<line x1="1546.66" y1="577.00" x2="1555.66" y2="577.00" stroke="#e01010" stroke-width="1.4" stroke-linecap="butt"/>
<line x1="1591.20" y1="580.75" x2="1591.20" y2="563.25" stroke="#e01010" stroke-width="1.4" stroke-linecap="butt"/>
<line x1="1586.70" y1="563.25" x2="1595.70" y2="563.25" stroke="#e01010" stroke-width="1.4" stroke-linecap="butt"/>
<line x1="1631.24" y1="554.75" x2="1631.24" y2="504.00" stroke="#e01010" stroke-width="1.4" stroke-linecap="butt"/>
<line x1="1626.74" y1="504.00" x2="1635.74" y2="504.00" stroke="#e01010" stroke-width="1.4" stroke-linecap="butt"/>
<circle cx="1391.00" cy="625.00" r="4.6" fill="#e01010"/>
<circle cx="1431.04" cy="610.00" r="4.6" fill="#e01010"/>
<circle cx="1471.08" cy="570.00" r="4.6" fill="#e01010"/>
<circle cx="1511.12" cy="583.75" r="4.6" fill="#e01010"/>
<circle cx="1551.16" cy="617.00" r="4.6" fill="#e01010"/>
<circle cx="1591.20" cy="580.75" r="4.6" fill="#e01010"/>
<circle cx="1631.24" cy="554.75" r="4.6" fill="#e01010"/>
<polyline points="1391.00,565.25 1431.04,570.00 1471.08,570.25 1511.12,597.50 1551.16,618.25 1591.20,640.25 1631.24,645.50" fill="none" stroke="#1a1aff" stroke-width="1.5" stroke-linejoin="round" />
<line x1="1471.08" y1="570.25" x2="1471.08" y2="554.25" stroke="#1a1aff" stroke-width="1.4" stroke-linecap="butt"/>
<line x1="1466.58" y1="554.25" x2="1475.58" y2="554.25" stroke="#1a1aff" stroke-width="1.4" stroke-linecap="butt"/>
<line x1="1551.16" y1="618.25" x2="1551.16" y2="607.00" stroke="#1a1aff" stroke-width="1.4" stroke-linecap="butt"/>
<line x1="1546.66" y1="607.00" x2="1555.66" y2="607.00" stroke="#1a1aff" stroke-width="1.4" stroke-linecap="butt"/>
<line x1="1591.20" y1="640.25" x2="1591.20" y2="626.00" stroke="#1a1aff" stroke-width="1.4" stroke-linecap="butt"/>
<line x1="1586.70" y1="626.00" x2="1595.70" y2="626.00" stroke="#1a1aff" stroke-width="1.4" stroke-linecap="butt"/>
<line x1="1631.24" y1="645.50" x2="1631.24" y2="637.75" stroke="#1a1aff" stroke-width="1.4" stroke-linecap="butt"/>
<line x1="1626.74" y1="637.75" x2="1635.74" y2="637.75" stroke="#1a1aff" stroke-width="1.4" stroke-linecap="butt"/>
<rect x="1386.50" y="560.75" width="9.00" height="9.00" fill="#1a1aff"/>
<rect x="1426.54" y="565.50" width="9.00" height="9.00" fill="#1a1aff"/>
<rect x="1466.58" y="565.75" width="9.00" height="9.00" fill="#1a1aff"/>
<rect x="1506.62" y="593.00" width="9.00" height="9.00" fill="#1a1aff"/>
<rect x="1546.66" y="613.75" width="9.00" height="9.00" fill="#1a1aff"/>
<rect x="1586.70" y="635.75" width="9.00" height="9.00" fill="#1a1aff"/>
<rect x="1626.74" y="641.00" width="9.00" height="9.00" fill="#1a1aff"/>
<line x1="1371.50" y1="488.30" x2="1371.50" y2="711.70" stroke="#000" stroke-width="2.4" stroke-linecap="butt"/>
<line x1="1652.00" y1="488.30" x2="1652.00" y2="711.70" stroke="#000" stroke-width="2.4" stroke-linecap="butt"/>
<line x1="1362.50" y1="710.50" x2="1652.00" y2="710.50" stroke="#000" stroke-width="2.4" stroke-linecap="butt"/>
<line x1="1362.50" y1="489.50" x2="1371.50" y2="489.50" stroke="#000" stroke-width="2.4" stroke-linecap="butt"/>
<line x1="1652.00" y1="489.50" x2="1659.50" y2="489.50" stroke="#000" stroke-width="2.4" stroke-linecap="butt"/>
<text x="1358.30" y="499.47" font-size="29.5" text-anchor="end" fill="#000" >0.4</text>
<text x="0" y="0" transform="translate(1662.70,499.47) scale(1.06,1)" font-size="29.5" text-anchor="start" fill="#000" >0</text>
<line x1="1362.50" y1="544.75" x2="1371.50" y2="544.75" stroke="#000" stroke-width="2.4" stroke-linecap="butt"/>
<line x1="1652.00" y1="544.75" x2="1659.50" y2="544.75" stroke="#000" stroke-width="2.4" stroke-linecap="butt"/>
<text x="1358.30" y="554.72" font-size="29.5" text-anchor="end" fill="#000" >0.3</text>
<text x="0" y="0" transform="translate(1662.70,554.72) scale(1.06,1)" font-size="29.5" text-anchor="start" fill="#000" >-20</text>
<line x1="1362.50" y1="600.00" x2="1371.50" y2="600.00" stroke="#000" stroke-width="2.4" stroke-linecap="butt"/>
<line x1="1652.00" y1="600.00" x2="1659.50" y2="600.00" stroke="#000" stroke-width="2.4" stroke-linecap="butt"/>
<text x="1358.30" y="609.97" font-size="29.5" text-anchor="end" fill="#000" >0.2</text>
<text x="0" y="0" transform="translate(1662.70,609.97) scale(1.06,1)" font-size="29.5" text-anchor="start" fill="#000" >-40</text>
<line x1="1362.50" y1="655.25" x2="1371.50" y2="655.25" stroke="#000" stroke-width="2.4" stroke-linecap="butt"/>
<line x1="1652.00" y1="655.25" x2="1659.50" y2="655.25" stroke="#000" stroke-width="2.4" stroke-linecap="butt"/>
<text x="1358.30" y="665.22" font-size="29.5" text-anchor="end" fill="#000" >0.1</text>
<text x="0" y="0" transform="translate(1662.70,665.22) scale(1.06,1)" font-size="29.5" text-anchor="start" fill="#000" >-60</text>
<line x1="1362.50" y1="710.50" x2="1371.50" y2="710.50" stroke="#000" stroke-width="2.4" stroke-linecap="butt"/>
<line x1="1652.00" y1="710.50" x2="1659.50" y2="710.50" stroke="#000" stroke-width="2.4" stroke-linecap="butt"/>
<text x="1358.30" y="720.47" font-size="29.5" text-anchor="end" fill="#000" >0.0</text>
<text x="0" y="0" transform="translate(1662.70,720.47) scale(1.06,1)" font-size="29.5" text-anchor="start" fill="#000" >-80</text>
<line x1="1391.00" y1="710.50" x2="1391.00" y2="720.00" stroke="#000" stroke-width="2.4" stroke-linecap="butt"/>
<text x="1391.00" y="751.25" font-size="29.5" text-anchor="middle" fill="#000" >0</text>
<line x1="1431.04" y1="710.50" x2="1431.04" y2="720.00" stroke="#000" stroke-width="2.4" stroke-linecap="butt"/>
<text x="1431.04" y="751.25" font-size="29.5" text-anchor="middle" fill="#000" >7</text>
<line x1="1471.08" y1="710.50" x2="1471.08" y2="720.00" stroke="#000" stroke-width="2.4" stroke-linecap="butt"/>
<text x="1471.08" y="751.25" font-size="29.5" text-anchor="middle" fill="#000" >14</text>
<line x1="1511.12" y1="710.50" x2="1511.12" y2="720.00" stroke="#000" stroke-width="2.4" stroke-linecap="butt"/>
<text x="1511.12" y="751.25" font-size="29.5" text-anchor="middle" fill="#000" >21</text>
<line x1="1551.16" y1="710.50" x2="1551.16" y2="720.00" stroke="#000" stroke-width="2.4" stroke-linecap="butt"/>
<text x="1551.16" y="751.25" font-size="29.5" text-anchor="middle" fill="#000" >28</text>
<line x1="1591.20" y1="710.50" x2="1591.20" y2="720.00" stroke="#000" stroke-width="2.4" stroke-linecap="butt"/>
<text x="1591.20" y="751.25" font-size="29.5" text-anchor="middle" fill="#000" >35</text>
<line x1="1631.24" y1="710.50" x2="1631.24" y2="720.00" stroke="#000" stroke-width="2.4" stroke-linecap="butt"/>
<text x="1631.24" y="751.25" font-size="29.5" text-anchor="middle" fill="#000" >42</text>
<text x="1511.40" y="791.50" font-size="29.7" text-anchor="middle" fill="#000" >Days</text>
<text x="0" y="0" transform="translate(1306.00,592.80) rotate(-90)" font-size="29.5" text-anchor="middle" fill="#000" >PDI</text>
<text x="0" y="0" transform="translate(1749.50,599.80) rotate(-90)" font-size="30.3" text-anchor="middle" fill="#000" >Zeta potential (mv)</text>
<line x1="1399.75" y1="486.50" x2="1423.50" y2="486.50" stroke="#e01010" stroke-width="1.4" stroke-linecap="butt"/>
<circle cx="1411.50" cy="486.50" r="4.6" fill="#e01010"/>
<text x="1437.25" y="497.10" font-size="26" text-anchor="start" fill="#000" letter-spacing="1" >PDI</text>
<line x1="1521.00" y1="486.50" x2="1544.00" y2="486.50" stroke="#1a1aff" stroke-width="1.4" stroke-linecap="butt"/>
<rect x="1528.25" y="482.00" width="9.00" height="9.00" fill="#1a1aff"/>
<text x="1558.50" y="497.10" font-size="25.5" text-anchor="start" fill="#000" letter-spacing="0.2" >Zeta</text>
</g>
<g id="panelH">
<text x="0" y="0" transform="translate(3.00,806.80) scale(1.06,1)" font-size="46.5" text-anchor="start" fill="#000" >H</text>
<text x="110.00" y="844.30" font-size="34.3" text-anchor="middle" fill="#000" >0 day</text>
<text x="363.75" y="844.30" font-size="34.3" text-anchor="middle" fill="#000" >7 day</text>
<text x="618.50" y="844.30" font-size="34.3" text-anchor="middle" fill="#000" >14 day</text>
<text x="874.00" y="844.30" font-size="34.3" text-anchor="middle" fill="#000" >21 day</text>
<text x="1135.00" y="844.30" font-size="34.3" text-anchor="middle" fill="#000" >28 day</text>
<text x="1381.75" y="844.30" font-size="34.3" text-anchor="middle" fill="#000" >35 day</text>
<text x="1652.00" y="844.30" font-size="34.3" text-anchor="middle" fill="#000" >42 day</text>
</g>
</svg>
</body></html>
